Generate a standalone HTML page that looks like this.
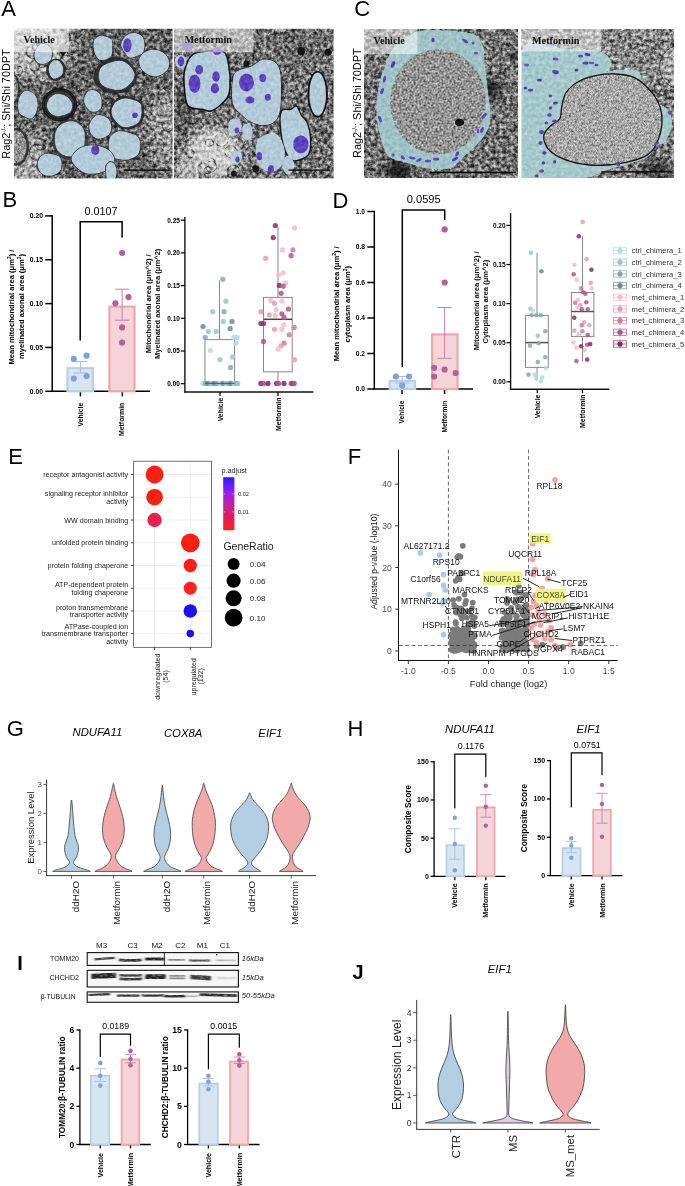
<!DOCTYPE html><html><head><meta charset="utf-8"><style>html,body{margin:0;padding:0;background:#fff;width:685px;height:1186px;overflow:hidden}svg{display:block;will-change:transform}text{font-family:"Liberation Sans",sans-serif}</style></head><body>
<svg width="685" height="1186" viewBox="0 0 685 1186">
<defs>
<filter id="nz1" x="0" y="0" width="100%" height="100%" color-interpolation-filters="sRGB"><feTurbulence type="fractalNoise" baseFrequency="0.28" numOctaves="3" seed="5"/><feColorMatrix type="matrix" values="1.15 0 0 0 -0.075  1.15 0 0 0 -0.075  1.15 0 0 0 -0.075  0 0 0 0 1"/></filter>
<filter id="nz2" x="0" y="0" width="100%" height="100%" color-interpolation-filters="sRGB"><feTurbulence type="fractalNoise" baseFrequency="0.28" numOctaves="3" seed="10"/><feColorMatrix type="matrix" values="1.15 0 0 0 -0.075  1.15 0 0 0 -0.075  1.15 0 0 0 -0.075  0 0 0 0 1"/></filter>
<filter id="nz3" x="0" y="0" width="100%" height="100%" color-interpolation-filters="sRGB"><feTurbulence type="fractalNoise" baseFrequency="0.28" numOctaves="3" seed="15"/><feColorMatrix type="matrix" values="1.15 0 0 0 -0.075  1.15 0 0 0 -0.075  1.15 0 0 0 -0.075  0 0 0 0 1"/></filter>
<filter id="nz4" x="0" y="0" width="100%" height="100%" color-interpolation-filters="sRGB"><feTurbulence type="fractalNoise" baseFrequency="0.28" numOctaves="3" seed="20"/><feColorMatrix type="matrix" values="1.15 0 0 0 -0.075  1.15 0 0 0 -0.075  1.15 0 0 0 -0.075  0 0 0 0 1"/></filter>
<filter id="speck" x="0" y="0" width="100%" height="100%" color-interpolation-filters="sRGB"><feTurbulence type="fractalNoise" baseFrequency="0.5" numOctaves="3" seed="9" result="t"/><feColorMatrix in="t" type="matrix" values="0.85 0 0 0 0.15  0.85 0 0 0 0.15  0.85 0 0 0 0.15  0 0 0 0 1" result="g"/><feComposite in="g" in2="SourceGraphic" operator="in"/></filter>
<filter id="blur2" x="-50%" y="-50%" width="200%" height="200%"><feGaussianBlur stdDeviation="2"/></filter>
<filter id="blur4" x="-50%" y="-50%" width="200%" height="200%"><feGaussianBlur stdDeviation="4"/></filter>
<filter id="blur6" x="-50%" y="-50%" width="200%" height="200%"><feGaussianBlur stdDeviation="6"/></filter>
</defs>
<rect x="0" y="0" width="685" height="1186" fill="#fff" stroke="none" stroke-width="1"/>
<g transform="translate(14 28.8)">
<clipPath id="clip1"><rect width="158.6" height="149.7"/></clipPath>
<g clip-path="url(#clip1)">
<rect x="0" y="0" width="158.6" height="149.7" fill="#646464" stroke="none" stroke-width="1"/>
<ellipse cx="20" cy="20" rx="40" ry="30" fill="#b5b5b5" filter="url(#blur6)"/>
<ellipse cx="12" cy="130" rx="20" ry="30" fill="#a8a8a8" filter="url(#blur6)"/>
<ellipse cx="150" cy="100" rx="18" ry="40" fill="#9a9a9a" filter="url(#blur6)"/>
<circle cx="51.36" cy="22.58" r="6.25" fill="none" stroke="#2a2a2a" stroke-width="0.66" opacity="0.6"/>
<circle cx="84.99" cy="54.74" r="3.29" fill="none" stroke="#2a2a2a" stroke-width="1.01" opacity="0.6"/>
<circle cx="5.95" cy="64.92" r="3.35" fill="none" stroke="#2a2a2a" stroke-width="0.67" opacity="0.6"/>
<circle cx="67.33" cy="123.78" r="3.62" fill="none" stroke="#2a2a2a" stroke-width="0.78" opacity="0.6"/>
<circle cx="99.51" cy="141.87" r="5.89" fill="none" stroke="#2a2a2a" stroke-width="0.92" opacity="0.6"/>
<circle cx="154.83" cy="6.97" r="7.29" fill="none" stroke="#2a2a2a" stroke-width="0.83" opacity="0.6"/>
<circle cx="22.88" cy="17.63" r="4.54" fill="none" stroke="#2a2a2a" stroke-width="1.25" opacity="0.6"/>
<circle cx="28.66" cy="87.07" r="6.19" fill="none" stroke="#2a2a2a" stroke-width="0.9" opacity="0.6"/>
<circle cx="86.87" cy="9.4" r="3.3" fill="none" stroke="#2a2a2a" stroke-width="0.76" opacity="0.6"/>
<circle cx="107.91" cy="64.01" r="4.57" fill="none" stroke="#2a2a2a" stroke-width="1.07" opacity="0.6"/>
<circle cx="71.88" cy="44.88" r="6.97" fill="none" stroke="#2a2a2a" stroke-width="1.16" opacity="0.6"/>
<circle cx="38.71" cy="85.99" r="5.63" fill="none" stroke="#2a2a2a" stroke-width="1.3" opacity="0.6"/>
<circle cx="115.69" cy="43.1" r="7.9" fill="none" stroke="#2a2a2a" stroke-width="0.69" opacity="0.6"/>
<circle cx="66.31" cy="113.34" r="3.76" fill="none" stroke="#2a2a2a" stroke-width="0.99" opacity="0.6"/>
<circle cx="6.22" cy="100.03" r="6.82" fill="none" stroke="#2a2a2a" stroke-width="1.06" opacity="0.6"/>
<circle cx="138.85" cy="46.97" r="6.48" fill="none" stroke="#2a2a2a" stroke-width="1.08" opacity="0.6"/>
<circle cx="91.97" cy="68.29" r="7.2" fill="none" stroke="#2a2a2a" stroke-width="1.36" opacity="0.6"/>
<circle cx="75.19" cy="99.42" r="3.3" fill="none" stroke="#2a2a2a" stroke-width="1.16" opacity="0.6"/>
<circle cx="102.63" cy="148.67" r="7.11" fill="none" stroke="#2a2a2a" stroke-width="0.83" opacity="0.6"/>
<circle cx="61.19" cy="100.1" r="3.11" fill="none" stroke="#2a2a2a" stroke-width="0.97" opacity="0.6"/>
<circle cx="26.65" cy="17.53" r="3.29" fill="none" stroke="#2a2a2a" stroke-width="1.21" opacity="0.6"/>
<circle cx="20.51" cy="37.07" r="4.95" fill="none" stroke="#2a2a2a" stroke-width="1.3" opacity="0.6"/>
<circle cx="12.78" cy="67.24" r="5.75" fill="none" stroke="#2a2a2a" stroke-width="1.31" opacity="0.6"/>
<circle cx="129.94" cy="129.34" r="4.39" fill="none" stroke="#2a2a2a" stroke-width="0.93" opacity="0.6"/>
<circle cx="56.9" cy="132.36" r="7.79" fill="none" stroke="#2a2a2a" stroke-width="0.72" opacity="0.6"/>
<circle cx="27.95" cy="34.72" r="4.17" fill="none" stroke="#2a2a2a" stroke-width="0.99" opacity="0.6"/>
<circle cx="93.43" cy="39.33" r="3.02" fill="none" stroke="#2a2a2a" stroke-width="0.94" opacity="0.6"/>
<circle cx="58.56" cy="84.78" r="7.77" fill="none" stroke="#2a2a2a" stroke-width="1.15" opacity="0.6"/>
<circle cx="81.76" cy="92.45" r="6.38" fill="none" stroke="#2a2a2a" stroke-width="0.64" opacity="0.6"/>
<circle cx="142.67" cy="116.76" r="7.37" fill="none" stroke="#2a2a2a" stroke-width="1.24" opacity="0.6"/>
<circle cx="62.23" cy="59.73" r="3.52" fill="none" stroke="#2a2a2a" stroke-width="1.11" opacity="0.6"/>
<circle cx="9.87" cy="10.08" r="4.04" fill="none" stroke="#2a2a2a" stroke-width="0.73" opacity="0.6"/>
<circle cx="53.93" cy="7.87" r="3" fill="none" stroke="#2a2a2a" stroke-width="0.72" opacity="0.6"/>
<circle cx="16.09" cy="54.43" r="3.13" fill="none" stroke="#2a2a2a" stroke-width="1.3" opacity="0.6"/>
<circle cx="97.39" cy="22.24" r="4.26" fill="none" stroke="#2a2a2a" stroke-width="0.88" opacity="0.6"/>
<circle cx="57.76" cy="18.39" r="7.24" fill="none" stroke="#2a2a2a" stroke-width="1.39" opacity="0.6"/>
<circle cx="73.91" cy="72.43" r="3.43" fill="none" stroke="#2a2a2a" stroke-width="0.68" opacity="0.6"/>
<circle cx="54.34" cy="39.63" r="7.14" fill="none" stroke="#2a2a2a" stroke-width="0.73" opacity="0.6"/>
<circle cx="3.66" cy="142.36" r="5.64" fill="none" stroke="#2a2a2a" stroke-width="0.72" opacity="0.6"/>
<circle cx="86.15" cy="4.05" r="5.64" fill="none" stroke="#2a2a2a" stroke-width="1.38" opacity="0.6"/>
<circle cx="136.92" cy="104.22" r="4.31" fill="none" stroke="#2a2a2a" stroke-width="0.89" opacity="0.6"/>
<circle cx="26.49" cy="115.56" r="5.66" fill="none" stroke="#2a2a2a" stroke-width="1.22" opacity="0.6"/>
<circle cx="52.28" cy="33.39" r="7.06" fill="none" stroke="#2a2a2a" stroke-width="1.39" opacity="0.6"/>
<circle cx="135.23" cy="120.67" r="7.09" fill="none" stroke="#2a2a2a" stroke-width="1.19" opacity="0.6"/>
<circle cx="35.96" cy="77.49" r="4.78" fill="none" stroke="#2a2a2a" stroke-width="0.62" opacity="0.6"/>
<circle cx="4.43" cy="41.83" r="4.3" fill="none" stroke="#2a2a2a" stroke-width="1.15" opacity="0.6"/>
<circle cx="151.7" cy="66.95" r="7.69" fill="none" stroke="#2a2a2a" stroke-width="1.39" opacity="0.6"/>
<circle cx="151.46" cy="54.59" r="4.1" fill="none" stroke="#2a2a2a" stroke-width="0.78" opacity="0.6"/>
<circle cx="31.2" cy="30.59" r="6.12" fill="none" stroke="#2a2a2a" stroke-width="1.32" opacity="0.6"/>
<circle cx="133.29" cy="71.78" r="6.26" fill="none" stroke="#2a2a2a" stroke-width="1.24" opacity="0.6"/>
<circle cx="13.45" cy="98.89" r="7.55" fill="none" stroke="#2a2a2a" stroke-width="1.23" opacity="0.6"/>
<circle cx="118.97" cy="71.56" r="3.89" fill="none" stroke="#2a2a2a" stroke-width="1.23" opacity="0.6"/>
<circle cx="52.74" cy="119.88" r="7.86" fill="none" stroke="#2a2a2a" stroke-width="0.92" opacity="0.6"/>
<circle cx="63.66" cy="141.74" r="6.62" fill="none" stroke="#2a2a2a" stroke-width="0.74" opacity="0.6"/>
<circle cx="20.15" cy="22.63" r="7.52" fill="none" stroke="#2a2a2a" stroke-width="1.25" opacity="0.6"/>
<circle cx="23.18" cy="123.73" r="7.9" fill="none" stroke="#2a2a2a" stroke-width="1.13" opacity="0.6"/>
<circle cx="55.57" cy="82.13" r="3.65" fill="none" stroke="#2a2a2a" stroke-width="0.61" opacity="0.6"/>
<circle cx="153.98" cy="97.26" r="5.63" fill="none" stroke="#2a2a2a" stroke-width="1.35" opacity="0.6"/>
<circle cx="68.8" cy="130.5" r="7.13" fill="none" stroke="#2a2a2a" stroke-width="0.77" opacity="0.6"/>
<circle cx="39.94" cy="43.86" r="4.2" fill="none" stroke="#2a2a2a" stroke-width="1.07" opacity="0.6"/>
<circle cx="41.14" cy="62.73" r="3.66" fill="none" stroke="#2a2a2a" stroke-width="1.33" opacity="0.6"/>
<circle cx="56.11" cy="68.59" r="5.92" fill="none" stroke="#2a2a2a" stroke-width="1.32" opacity="0.6"/>
<circle cx="66.71" cy="137.38" r="5.51" fill="none" stroke="#2a2a2a" stroke-width="1.03" opacity="0.6"/>
<circle cx="83.03" cy="2.8" r="5.2" fill="none" stroke="#2a2a2a" stroke-width="0.75" opacity="0.6"/>
<circle cx="0.62" cy="119.64" r="3.86" fill="none" stroke="#2a2a2a" stroke-width="0.98" opacity="0.6"/>
<circle cx="115.02" cy="83.3" r="4.63" fill="none" stroke="#2a2a2a" stroke-width="1.01" opacity="0.6"/>
<circle cx="88.09" cy="117.41" r="3.53" fill="none" stroke="#2a2a2a" stroke-width="1.05" opacity="0.6"/>
<circle cx="39.41" cy="41.45" r="6.86" fill="none" stroke="#2a2a2a" stroke-width="1.01" opacity="0.6"/>
<circle cx="89.09" cy="113.77" r="7.56" fill="none" stroke="#2a2a2a" stroke-width="0.95" opacity="0.6"/>
<circle cx="97.15" cy="75.68" r="5.56" fill="none" stroke="#2a2a2a" stroke-width="1.15" opacity="0.6"/>
<rect width="158.6" height="149.7" filter="url(#nz1)" style="mix-blend-mode:overlay" opacity="0.95"/>
<ellipse cx="45.5" cy="75.9" rx="17" ry="16" fill="#3a3a3a"/>
<ellipse cx="45.5" cy="75.9" rx="15.2" ry="14.2" fill="none" stroke="#151515" stroke-width="1.2"/>
<ellipse cx="45.5" cy="75.9" rx="17" ry="16" fill="none" stroke="#151515" stroke-width="1.4"/>
<path d="M123.02,46.7 C123.12,49.66 122.05,53.13 120.27,55.72 C118.49,58.32 115.44,60.66 112.33,62.26 C109.22,63.86 105.21,65.29 101.6,65.34 C97.99,65.38 93.88,64.1 90.68,62.54 C87.48,60.98 84.31,58.61 82.42,55.97 C80.53,53.33 79.19,49.72 79.34,46.7 C79.49,43.68 81.43,40.48 83.34,37.87 C85.25,35.26 87.76,32.67 90.8,31.04 C93.84,29.4 97.96,28.12 101.6,28.06 C105.24,28 109.63,29.04 112.64,30.69 C115.66,32.34 117.95,35.29 119.68,37.96 C121.41,40.63 122.92,43.74 123.02,46.7Z" fill="#2e2e2e" stroke="none" stroke-width="1"/>
<ellipse cx="2" cy="118" rx="13" ry="19" fill="#333"/>
<ellipse cx="2" cy="118" rx="10.5" ry="16.5" fill="#8c8c8c" filter="url(#speck)"/>
<ellipse cx="-1" cy="60" rx="7" ry="15" fill="#333"/>
<ellipse cx="-1" cy="60" rx="5" ry="13" fill="#8c8c8c" filter="url(#speck)"/>
<path d="M130.14,84.1 C130.07,87.46 129.32,91.46 127.38,94.03 C125.43,96.61 121.7,98.61 118.48,99.58 C115.25,100.55 111.15,100.83 108.03,99.85 C104.91,98.86 101.83,96.29 99.75,93.67 C97.66,91.04 95.67,87.41 95.5,84.1 C95.34,80.79 96.71,76.63 98.74,73.82 C100.77,71.02 104.38,68.18 107.68,67.29 C110.97,66.4 115.17,67.39 118.52,68.49 C121.87,69.59 125.83,71.29 127.76,73.89 C129.7,76.49 130.2,80.74 130.14,84.1Z" fill="#2a2a2a" stroke="none" stroke-width="1"/>
<path d="M52.13,40.9 C52.1,43.45 50.56,46.57 48.87,48.46 C47.18,50.35 44.37,52.15 42,52.24 C39.63,52.32 36.29,50.86 34.66,48.97 C33.04,47.08 32.22,43.59 32.22,40.9 C32.23,38.21 33.04,34.66 34.67,32.84 C36.3,31.02 39.6,29.94 42,29.99 C44.4,30.04 47.38,31.31 49.06,33.13 C50.75,34.95 52.16,38.35 52.13,40.9Z" fill="#2a2a2a" stroke="none" stroke-width="1"/>
<path d="M74.71,111 C74.86,114.99 73.17,120.21 70.95,123.37 C68.73,126.53 64.83,128.8 61.41,129.97 C58,131.14 53.8,131.54 50.47,130.39 C47.14,129.24 43.46,126.3 41.42,123.06 C39.38,119.83 38.17,114.97 38.23,111 C38.29,107.03 39.74,102.45 41.79,99.24 C43.84,96.04 47.21,93.13 50.52,91.79 C53.83,90.44 58.41,89.89 61.66,91.16 C64.91,92.43 67.83,96.11 70,99.41 C72.18,102.72 74.55,107.01 74.71,111Z" fill="#3a3a3a" stroke="none" stroke-width="1"/>
<path d="M38.58,25.7 C38.47,27.83 37.77,30.28 36.65,31.81 C35.53,33.35 33.56,34.32 31.85,34.92 C30.14,35.52 28.12,35.9 26.4,35.42 C24.68,34.93 22.61,33.61 21.53,31.99 C20.44,30.37 19.77,27.71 19.88,25.7 C19.99,23.69 21.16,21.75 22.2,19.96 C23.24,18.16 24.44,15.72 26.1,14.94 C27.77,14.15 30.34,14.57 32.21,15.25 C34.07,15.94 36.23,17.32 37.29,19.06 C38.35,20.8 38.69,23.57 38.58,25.7Z" fill="#b3cbd9" stroke="#2a2a2a" stroke-width="0.9" stroke-linejoin="round"/>
<path d="M49.68,40.9 C49.68,42.65 49.27,44.8 48.39,46.16 C47.5,47.53 45.85,48.43 44.35,49.09 C42.84,49.76 40.81,50.63 39.35,50.14 C37.9,49.65 36.45,47.71 35.61,46.17 C34.77,44.63 34.31,42.68 34.29,40.9 C34.26,39.12 34.61,37.07 35.45,35.5 C36.28,33.93 37.76,32.12 39.3,31.47 C40.84,30.82 43.15,30.91 44.66,31.6 C46.18,32.3 47.54,34.1 48.38,35.64 C49.21,37.19 49.68,39.15 49.68,40.9Z" fill="#b3cbd9" stroke="#2a2a2a" stroke-width="0.9" stroke-linejoin="round"/>
<path d="M98.71,18.7 C98.71,21.38 98.97,24.68 97.86,26.73 C96.76,28.78 94.15,30.26 92.08,31.01 C90.01,31.77 87.32,32.14 85.45,31.26 C83.58,30.38 81.93,27.82 80.86,25.73 C79.8,23.64 79.18,21.16 79.04,18.7 C78.91,16.24 78.96,12.95 80.05,10.95 C81.14,8.95 83.63,7.27 85.59,6.67 C87.56,6.07 89.77,6.7 91.82,7.36 C93.87,8.02 96.74,8.76 97.89,10.65 C99.04,12.54 98.72,16.02 98.71,18.7Z" fill="#b3cbd9" stroke="#2a2a2a" stroke-width="0.9" stroke-linejoin="round"/>
<path d="M130.95,16.4 C130.92,19.05 130.35,22.39 128.92,24.29 C127.49,26.18 124.67,26.93 122.37,27.76 C120.08,28.59 117.21,29.99 115.18,29.27 C113.15,28.54 111.62,25.55 110.19,23.4 C108.76,21.26 106.72,18.81 106.62,16.4 C106.52,13.99 108.13,10.91 109.6,8.93 C111.08,6.96 113.3,5.34 115.48,4.54 C117.65,3.74 120.37,3.49 122.65,4.12 C124.92,4.76 127.73,6.32 129.11,8.36 C130.5,10.41 130.98,13.75 130.95,16.4Z" fill="#b3cbd9" stroke="#2a2a2a" stroke-width="0.9" stroke-linejoin="round"/>
<path d="M155.25,37.99 C154.51,40.5 152.35,42.92 150.05,44.61 C147.75,46.3 144.46,48.07 141.46,48.13 C138.45,48.19 134.59,46.63 132.01,44.97 C129.43,43.3 127.15,40.65 125.99,38.13 C124.82,35.62 124.33,32.35 125.02,29.89 C125.7,27.42 127.82,24.92 130.08,23.34 C132.35,21.76 135.62,20.51 138.62,20.4 C141.62,20.3 145.45,21.18 148.09,22.7 C150.73,24.22 153.29,26.98 154.48,29.53 C155.67,32.07 155.99,35.47 155.25,37.99Z" fill="#b3cbd9" stroke="#2a2a2a" stroke-width="0.9" stroke-linejoin="round"/>
<path d="M121.08,46.7 C120.97,49.64 118.5,52.92 116.22,55.33 C113.94,57.74 110.73,60.31 107.38,61.16 C104.03,62 99.54,61.37 96.12,60.41 C92.7,59.45 88.8,57.7 86.84,55.42 C84.88,53.13 84.3,49.58 84.34,46.7 C84.38,43.82 85.09,40.34 87.08,38.12 C89.06,35.9 92.85,34.43 96.27,33.36 C99.69,32.3 104.16,30.98 107.59,31.7 C111.02,32.43 114.61,35.19 116.85,37.69 C119.1,40.19 121.18,43.76 121.08,46.7Z" fill="#b3cbd9" stroke="#2a2a2a" stroke-width="0.9" stroke-linejoin="round"/>
<path d="M23.98,75.9 C23.97,78.64 23.55,81.72 22.46,84.1 C21.38,86.47 19.39,89.43 17.47,90.14 C15.55,90.85 13.03,89.31 10.96,88.38 C8.89,87.44 6.3,86.63 5.07,84.55 C3.85,82.47 3.54,78.71 3.61,75.9 C3.69,73.09 4.35,70.02 5.51,67.68 C6.67,65.34 8.64,62.68 10.58,61.87 C12.53,61.06 15.2,61.85 17.19,62.81 C19.18,63.78 21.37,65.48 22.5,67.66 C23.64,69.84 23.99,73.16 23.98,75.9Z" fill="#b3cbd9" stroke="#2a2a2a" stroke-width="0.9" stroke-linejoin="round"/>
<path d="M58.68,75.9 C58.92,78.21 58.21,81.5 56.65,83.31 C55.1,85.12 51.91,86.03 49.36,86.75 C46.8,87.47 43.76,88.24 41.33,87.62 C38.91,87 36.29,84.96 34.8,83 C33.32,81.05 32.34,78.21 32.42,75.9 C32.5,73.59 33.77,70.94 35.3,69.13 C36.84,67.32 39.33,65.64 41.64,65.04 C43.95,64.45 46.91,64.83 49.17,65.57 C51.44,66.3 53.66,67.71 55.24,69.43 C56.83,71.15 58.45,73.59 58.68,75.9Z" fill="#b3cbd9" stroke="#2a2a2a" stroke-width="0.9" stroke-linejoin="round"/>
<path d="M88.06,72.4 C88.16,74.69 88.2,77.76 87.21,79.54 C86.23,81.32 83.92,82.53 82.16,83.09 C80.41,83.66 78.31,83.64 76.68,82.93 C75.05,82.22 73.56,80.57 72.38,78.82 C71.19,77.07 69.75,74.68 69.59,72.4 C69.43,70.12 70.29,67.02 71.43,65.12 C72.57,63.21 74.66,61.54 76.45,60.97 C78.24,60.39 80.48,60.85 82.17,61.66 C83.87,62.47 85.63,64.02 86.61,65.81 C87.59,67.6 87.96,70.11 88.06,72.4Z" fill="#b3cbd9" stroke="#2a2a2a" stroke-width="0.9" stroke-linejoin="round"/>
<path d="M128,84.1 C127.83,87.18 127.23,90.7 125.52,92.98 C123.81,95.25 120.55,96.85 117.74,97.76 C114.93,98.67 111.36,99.28 108.64,98.43 C105.93,97.59 103.41,95.08 101.47,92.7 C99.52,90.31 97.21,87.13 96.98,84.1 C96.74,81.07 98.14,76.92 100.07,74.49 C102,72.06 105.61,70.24 108.57,69.54 C111.52,68.83 114.81,69.41 117.81,70.24 C120.8,71.06 124.81,72.19 126.51,74.5 C128.21,76.81 128.16,81.02 128,84.1Z" fill="#b3cbd9" stroke="#2a2a2a" stroke-width="0.9" stroke-linejoin="round"/>
<path d="M97.74,98.1 C97.77,100.53 96.98,103.58 95.65,105.45 C94.31,107.32 91.86,108.54 89.73,109.3 C87.59,110.07 84.98,110.66 82.85,110.04 C80.73,109.42 78.33,107.58 76.97,105.59 C75.61,103.6 74.63,100.54 74.69,98.1 C74.76,95.66 76.04,92.97 77.39,90.94 C78.74,88.91 80.72,86.59 82.78,85.92 C84.84,85.24 87.61,86.07 89.73,86.89 C91.85,87.71 94.17,88.99 95.51,90.86 C96.84,92.73 97.72,95.67 97.74,98.1Z" fill="#b3cbd9" stroke="#2a2a2a" stroke-width="0.9" stroke-linejoin="round"/>
<path d="M71.32,111 C71.23,114.68 70.83,119.07 69.05,121.81 C67.28,124.56 63.65,126.55 60.7,127.48 C57.74,128.42 54.24,128.4 51.32,127.43 C48.39,126.45 44.98,124.38 43.15,121.65 C41.31,118.91 40.4,114.63 40.3,111 C40.2,107.37 40.78,102.84 42.55,99.86 C44.32,96.88 47.79,94.36 50.91,93.13 C54.03,91.91 58.16,91.4 61.27,92.5 C64.39,93.6 67.93,96.65 69.6,99.73 C71.28,102.81 71.41,107.32 71.32,111Z" fill="#b3cbd9" stroke="#2a2a2a" stroke-width="0.9" stroke-linejoin="round"/>
<path d="M126.77,116.8 C126.78,119.95 125.87,123.91 123.87,126.28 C121.87,128.64 117.94,130.24 114.78,131 C111.61,131.76 108.09,131.62 104.87,130.85 C101.66,130.09 97.26,128.77 95.5,126.43 C93.74,124.08 94.23,119.95 94.32,116.8 C94.41,113.65 94.34,110.01 96.06,107.55 C97.77,105.08 101.54,102.7 104.62,102.01 C107.69,101.32 111.3,102.5 114.5,103.4 C117.69,104.29 121.73,105.15 123.78,107.39 C125.82,109.62 126.75,113.65 126.77,116.8Z" fill="#b3cbd9" stroke="#2a2a2a" stroke-width="0.9" stroke-linejoin="round"/>
<path d="M100.62,130.8 C100.53,133.64 98.23,136.89 95.64,139.2 C93.04,141.5 89.06,143.68 85.03,144.61 C81.01,145.54 75.28,145.79 71.49,144.78 C67.7,143.77 64.67,140.88 62.29,138.55 C59.91,136.22 57.39,133.46 57.22,130.8 C57.05,128.14 58.92,124.9 61.3,122.57 C63.67,120.23 67.5,117.73 71.46,116.77 C75.43,115.82 80.99,115.94 85.11,116.84 C89.22,117.73 93.59,119.81 96.18,122.14 C98.76,124.47 100.71,127.96 100.62,130.8Z" fill="#b3cbd9" stroke="#2a2a2a" stroke-width="0.9" stroke-linejoin="round"/>
<path d="M47.97,135.5 C47.99,137.93 47.49,140.9 46.01,142.81 C44.52,144.72 41.59,146.26 39.07,146.95 C36.56,147.65 33.25,147.78 30.92,146.97 C28.59,146.16 26.39,143.99 25.09,142.08 C23.8,140.17 23.13,137.68 23.16,135.5 C23.19,133.32 23.92,130.84 25.25,129.03 C26.58,127.21 28.89,125.28 31.13,124.62 C33.37,123.96 36.24,124.47 38.71,125.08 C41.17,125.68 44.37,126.52 45.91,128.25 C47.46,129.99 47.96,133.07 47.97,135.5Z" fill="#b3cbd9" stroke="#2a2a2a" stroke-width="0.9" stroke-linejoin="round"/>
<path d="M103.06,143 C103.07,144.98 102.65,147.38 101.95,149 C101.26,150.62 100.04,152.07 98.89,152.7 C97.75,153.33 96.22,153.42 95.09,152.79 C93.97,152.15 92.76,150.5 92.15,148.87 C91.55,147.24 91.52,145 91.48,143 C91.44,141 91.32,138.49 91.91,136.84 C92.51,135.19 93.92,133.67 95.07,133.11 C96.23,132.55 97.72,132.82 98.85,133.48 C99.99,134.15 101.18,135.5 101.88,137.09 C102.58,138.67 103.04,141.02 103.06,143Z" fill="#b3cbd9" stroke="#2a2a2a" stroke-width="0.9" stroke-linejoin="round"/>
<circle cx="49" cy="20" r="5.5" fill="#8a8a8a"/>
<path d="M45,23 L53,23 L49,27.5 Z" fill="#111" stroke="none" stroke-width="1"/>
<ellipse cx="113.3" cy="16.4" rx="4.2" ry="7" fill="#5d41bf"/>
<ellipse cx="121" cy="86.4" rx="2.8" ry="2.8" fill="#5d41bf"/>
<ellipse cx="81.3" cy="121.5" rx="4.2" ry="4.7" fill="#5d41bf"/>
<rect width="158.6" height="149.7" filter="url(#nz1)" style="mix-blend-mode:overlay" opacity="0.35"/>
<rect x="0" y="0" width="55" height="23.4" fill="#ffffff" stroke="none" stroke-width="1" opacity="0.5"/>
<text x="9.5" y="14.5" font-size="10.2" text-anchor="start" fill="#111" font-weight="bold" style="font-family:'Liberation Serif'">Vehicle</text>
<line x1="109.8" y1="141.3" x2="155.3" y2="141.3" stroke="#000" stroke-width="1.3"/>
</g></g>
<g transform="translate(174 28.8)">
<clipPath id="clip2"><rect width="159.6" height="149.7"/></clipPath>
<g clip-path="url(#clip2)">
<rect x="0" y="0" width="159.6" height="149.7" fill="#747474" stroke="none" stroke-width="1"/>
<ellipse cx="40" cy="124" rx="27" ry="25" fill="#cdcdcd" filter="url(#blur4)"/>
<ellipse cx="14" cy="140" rx="12" ry="12" fill="#b8b8b8" filter="url(#blur4)"/>
<ellipse cx="10" cy="80" rx="10" ry="25" fill="#555" filter="url(#blur4)"/>
<ellipse cx="125" cy="20" rx="25" ry="18" fill="#6a6a6a" filter="url(#blur6)"/>
<ellipse cx="150" cy="60" rx="10" ry="30" fill="#777" filter="url(#blur6)"/>
<circle cx="105.22" cy="9.89" r="5.82" fill="none" stroke="#2a2a2a" stroke-width="0.8" opacity="0.55"/>
<circle cx="11.88" cy="39.75" r="5.78" fill="none" stroke="#2a2a2a" stroke-width="0.76" opacity="0.55"/>
<circle cx="118.08" cy="146.07" r="4.72" fill="none" stroke="#2a2a2a" stroke-width="0.91" opacity="0.55"/>
<circle cx="76.45" cy="102.35" r="5.95" fill="none" stroke="#2a2a2a" stroke-width="1.09" opacity="0.55"/>
<circle cx="102.58" cy="11.6" r="3.16" fill="none" stroke="#2a2a2a" stroke-width="0.8" opacity="0.55"/>
<circle cx="118.62" cy="45.57" r="5.05" fill="none" stroke="#2a2a2a" stroke-width="0.61" opacity="0.55"/>
<circle cx="9.68" cy="40.24" r="5.52" fill="none" stroke="#2a2a2a" stroke-width="1.15" opacity="0.55"/>
<circle cx="107.84" cy="43.54" r="4.82" fill="none" stroke="#2a2a2a" stroke-width="0.97" opacity="0.55"/>
<circle cx="74.43" cy="17.74" r="6.52" fill="none" stroke="#2a2a2a" stroke-width="0.76" opacity="0.55"/>
<circle cx="156.11" cy="140.16" r="2.58" fill="none" stroke="#2a2a2a" stroke-width="0.97" opacity="0.55"/>
<circle cx="130.86" cy="144.93" r="4.52" fill="none" stroke="#2a2a2a" stroke-width="0.81" opacity="0.55"/>
<circle cx="33.49" cy="141.55" r="3.45" fill="none" stroke="#2a2a2a" stroke-width="1.07" opacity="0.55"/>
<circle cx="22.62" cy="78.45" r="6.79" fill="none" stroke="#2a2a2a" stroke-width="0.71" opacity="0.55"/>
<circle cx="130.91" cy="76.16" r="6.49" fill="none" stroke="#2a2a2a" stroke-width="1.16" opacity="0.55"/>
<circle cx="36.93" cy="134.39" r="4.69" fill="none" stroke="#2a2a2a" stroke-width="0.62" opacity="0.55"/>
<circle cx="0.57" cy="73.61" r="4.53" fill="none" stroke="#2a2a2a" stroke-width="0.84" opacity="0.55"/>
<circle cx="22.46" cy="51.49" r="3.92" fill="none" stroke="#2a2a2a" stroke-width="1.27" opacity="0.55"/>
<circle cx="0.28" cy="112.38" r="6.28" fill="none" stroke="#2a2a2a" stroke-width="0.7" opacity="0.55"/>
<circle cx="147.85" cy="106.74" r="6.56" fill="none" stroke="#2a2a2a" stroke-width="0.83" opacity="0.55"/>
<circle cx="59.41" cy="58.82" r="6.99" fill="none" stroke="#2a2a2a" stroke-width="1.07" opacity="0.55"/>
<circle cx="57.57" cy="64.08" r="3.74" fill="none" stroke="#2a2a2a" stroke-width="0.64" opacity="0.55"/>
<circle cx="16.23" cy="124.95" r="3.79" fill="none" stroke="#2a2a2a" stroke-width="1.35" opacity="0.55"/>
<circle cx="39.79" cy="39.78" r="4.8" fill="none" stroke="#2a2a2a" stroke-width="0.75" opacity="0.55"/>
<circle cx="59.59" cy="143.14" r="6.48" fill="none" stroke="#2a2a2a" stroke-width="1.25" opacity="0.55"/>
<circle cx="100.69" cy="136.74" r="6.73" fill="none" stroke="#2a2a2a" stroke-width="1.04" opacity="0.55"/>
<circle cx="114.84" cy="7.41" r="5.8" fill="none" stroke="#2a2a2a" stroke-width="0.96" opacity="0.55"/>
<circle cx="120.13" cy="96.48" r="3.79" fill="none" stroke="#2a2a2a" stroke-width="0.64" opacity="0.55"/>
<circle cx="147.91" cy="19.06" r="4.62" fill="none" stroke="#2a2a2a" stroke-width="0.87" opacity="0.55"/>
<circle cx="47.52" cy="110.63" r="6.89" fill="none" stroke="#2a2a2a" stroke-width="0.81" opacity="0.55"/>
<circle cx="104.7" cy="45.04" r="5.01" fill="none" stroke="#2a2a2a" stroke-width="0.92" opacity="0.55"/>
<circle cx="26.71" cy="24.2" r="3.44" fill="none" stroke="#2a2a2a" stroke-width="1.32" opacity="0.55"/>
<circle cx="79.33" cy="32.94" r="6.58" fill="none" stroke="#2a2a2a" stroke-width="1.4" opacity="0.55"/>
<circle cx="71.81" cy="20.9" r="3.37" fill="none" stroke="#2a2a2a" stroke-width="0.67" opacity="0.55"/>
<circle cx="54.58" cy="13.64" r="3.58" fill="none" stroke="#2a2a2a" stroke-width="0.81" opacity="0.55"/>
<circle cx="90.91" cy="132.82" r="5.87" fill="none" stroke="#2a2a2a" stroke-width="0.93" opacity="0.55"/>
<circle cx="66.06" cy="78.47" r="4.2" fill="none" stroke="#2a2a2a" stroke-width="0.87" opacity="0.55"/>
<circle cx="9.9" cy="41.54" r="6.85" fill="none" stroke="#2a2a2a" stroke-width="0.7" opacity="0.55"/>
<circle cx="80.34" cy="94.26" r="6.38" fill="none" stroke="#2a2a2a" stroke-width="0.77" opacity="0.55"/>
<circle cx="43.25" cy="37.19" r="4.3" fill="none" stroke="#2a2a2a" stroke-width="0.96" opacity="0.55"/>
<circle cx="152.25" cy="127.05" r="6.43" fill="none" stroke="#2a2a2a" stroke-width="0.62" opacity="0.55"/>
<circle cx="5.15" cy="106.21" r="6.53" fill="none" stroke="#2a2a2a" stroke-width="0.98" opacity="0.55"/>
<circle cx="93.71" cy="0.03" r="4.26" fill="none" stroke="#2a2a2a" stroke-width="1.34" opacity="0.55"/>
<circle cx="131.76" cy="128.06" r="6.88" fill="none" stroke="#2a2a2a" stroke-width="0.8" opacity="0.55"/>
<circle cx="17.4" cy="23.11" r="4.85" fill="none" stroke="#2a2a2a" stroke-width="1.15" opacity="0.55"/>
<circle cx="150.26" cy="108.04" r="5.41" fill="none" stroke="#2a2a2a" stroke-width="1.21" opacity="0.55"/>
<circle cx="72.99" cy="82.56" r="2.68" fill="none" stroke="#2a2a2a" stroke-width="1.23" opacity="0.55"/>
<circle cx="37.12" cy="137.71" r="5.4" fill="none" stroke="#2a2a2a" stroke-width="0.84" opacity="0.55"/>
<circle cx="20.42" cy="37.69" r="5.36" fill="none" stroke="#2a2a2a" stroke-width="1.16" opacity="0.55"/>
<circle cx="17.9" cy="10.53" r="4.86" fill="none" stroke="#2a2a2a" stroke-width="1.07" opacity="0.55"/>
<circle cx="61.94" cy="33.47" r="5.2" fill="none" stroke="#2a2a2a" stroke-width="0.61" opacity="0.55"/>
<circle cx="48.12" cy="68.97" r="6.82" fill="none" stroke="#2a2a2a" stroke-width="1.12" opacity="0.55"/>
<circle cx="141.05" cy="71.15" r="3.56" fill="none" stroke="#2a2a2a" stroke-width="0.8" opacity="0.55"/>
<circle cx="153.31" cy="105.49" r="3.88" fill="none" stroke="#2a2a2a" stroke-width="0.62" opacity="0.55"/>
<circle cx="79.53" cy="100.97" r="4.39" fill="none" stroke="#2a2a2a" stroke-width="0.81" opacity="0.55"/>
<circle cx="106.51" cy="138.5" r="3.52" fill="none" stroke="#2a2a2a" stroke-width="0.63" opacity="0.55"/>
<circle cx="53.95" cy="62.96" r="5.57" fill="none" stroke="#2a2a2a" stroke-width="0.76" opacity="0.55"/>
<circle cx="127.21" cy="110.65" r="4.77" fill="none" stroke="#2a2a2a" stroke-width="0.76" opacity="0.55"/>
<circle cx="154.79" cy="46.66" r="6.19" fill="none" stroke="#2a2a2a" stroke-width="0.78" opacity="0.55"/>
<circle cx="35.34" cy="113.84" r="3.83" fill="none" stroke="#2a2a2a" stroke-width="1.36" opacity="0.55"/>
<circle cx="79.12" cy="28.04" r="3.5" fill="none" stroke="#2a2a2a" stroke-width="0.93" opacity="0.55"/>
<circle cx="106.18" cy="142.03" r="3.16" fill="none" stroke="#2a2a2a" stroke-width="0.91" opacity="0.55"/>
<circle cx="33.99" cy="145.83" r="3.14" fill="none" stroke="#2a2a2a" stroke-width="0.64" opacity="0.55"/>
<circle cx="9.6" cy="58.88" r="6.54" fill="none" stroke="#2a2a2a" stroke-width="1.31" opacity="0.55"/>
<circle cx="116.94" cy="149.33" r="6.69" fill="none" stroke="#2a2a2a" stroke-width="0.86" opacity="0.55"/>
<circle cx="29.61" cy="140.1" r="5.86" fill="none" stroke="#2a2a2a" stroke-width="0.63" opacity="0.55"/>
<circle cx="106.04" cy="56.68" r="4.18" fill="none" stroke="#2a2a2a" stroke-width="0.87" opacity="0.55"/>
<circle cx="27.01" cy="0.43" r="3.76" fill="none" stroke="#2a2a2a" stroke-width="0.88" opacity="0.55"/>
<circle cx="152.5" cy="18.52" r="6.84" fill="none" stroke="#2a2a2a" stroke-width="0.77" opacity="0.55"/>
<circle cx="56.92" cy="122.99" r="6.2" fill="none" stroke="#2a2a2a" stroke-width="0.95" opacity="0.55"/>
<circle cx="7.86" cy="70.88" r="4.18" fill="none" stroke="#2a2a2a" stroke-width="1.34" opacity="0.55"/>
<rect width="159.6" height="149.7" filter="url(#nz2)" style="mix-blend-mode:overlay" opacity="0.95"/>
<circle cx="127.3" cy="22.2" r="4" fill="#151515"/>
<circle cx="154" cy="23.4" r="3.5" fill="#151515"/>
<circle cx="72.4" cy="35" r="3.2" fill="#151515"/>
<circle cx="81.8" cy="140.2" r="3.5" fill="#151515"/>
<circle cx="60" cy="145" r="3" fill="#151515"/>
<path d="M10.5,42 C11.87,36.17 14.62,29 18.7,25.7 C22.78,22.4 29.75,22.58 35,22.2 C40.25,21.82 46.88,20.87 50.2,23.4 C53.52,25.93 53.93,31.57 54.9,37.4 C55.87,43.23 56.38,52.97 56,58.4 C55.62,63.83 55.52,66.1 52.6,70 C49.68,73.9 42.6,80.03 38.5,81.8 C34.4,83.57 32.08,81.38 28,80.6 C23.92,79.82 16.92,80.42 14,77.1 C11.08,73.78 11.08,66.55 10.5,60.7 C9.92,54.85 9.13,47.83 10.5,42Z" fill="#b3cbd9" stroke="#111" stroke-width="1.6" stroke-linejoin="round"/>
<path d="M12.52,32.7 C12.55,34.01 12.19,35.55 11.59,36.73 C10.99,37.91 9.95,39.42 8.91,39.78 C7.86,40.14 6.43,39.36 5.34,38.86 C4.25,38.35 3.11,37.78 2.37,36.76 C1.64,35.73 0.96,34.09 0.91,32.7 C0.87,31.31 1.37,29.44 2.11,28.41 C2.85,27.38 4.25,26.84 5.34,26.53 C6.43,26.22 7.65,26.15 8.66,26.54 C9.66,26.93 10.72,27.85 11.36,28.87 C12.01,29.9 12.48,31.39 12.52,32.7Z" fill="#b3cbd9" stroke="none" stroke-width="1"/>
<path d="M58.4,51.4 C59.17,45.93 59.9,44.33 63,42 C66.1,39.67 72.7,39.33 77,37.4 C81.3,35.47 84.9,31.18 88.8,30.4 C92.7,29.62 97.48,30.77 100.4,32.7 C103.32,34.63 105.12,37.33 106.3,42 C107.48,46.67 107.5,54.07 107.5,60.7 C107.5,67.33 107.48,76.35 106.3,81.8 C105.12,87.25 103.32,90.88 100.4,93.4 C97.48,95.92 92.7,96.9 88.8,96.9 C84.9,96.9 80.52,95.15 77,93.4 C73.48,91.65 70.8,89.5 67.7,86.4 C64.6,83.3 59.95,80.63 58.4,74.8 C56.85,68.97 57.63,56.87 58.4,51.4Z" fill="#b3cbd9" stroke="#222" stroke-width="0.9" stroke-linejoin="round"/>
<ellipse cx="143.7" cy="65.4" rx="10.2" ry="23.5" fill="#111"/>
<ellipse cx="143.7" cy="65.4" rx="8.3" ry="21.6" fill="#b3cbd9"/>
<path d="M107.5,81.8 C109.25,78.88 114.28,81.38 116.8,80.6 C119.32,79.82 120.85,76.13 122.6,77.1 C124.35,78.07 125.55,83.68 127.3,86.4 C129.05,89.12 131.53,89.5 133.1,93.4 C134.67,97.3 136.5,104.35 136.7,109.8 C136.9,115.25 137.23,122.4 134.3,126.1 C131.37,129.8 122.98,132.77 119.1,132 C115.22,131.23 113.13,127.15 111,121.5 C108.87,115.85 106.88,104.72 106.3,98.1 C105.72,91.48 105.75,84.72 107.5,81.8Z" fill="#b3cbd9" stroke="#111" stroke-width="1.4" stroke-linejoin="round"/>
<path d="M67.64,98.1 C67.57,99.7 66.56,101.38 65.75,102.73 C64.95,104.08 63.99,105.6 62.79,106.21 C61.59,106.82 59.77,106.96 58.56,106.4 C57.36,105.83 56.26,104.18 55.58,102.8 C54.89,101.41 54.52,99.74 54.44,98.1 C54.35,96.46 54.35,94.25 55.06,92.93 C55.76,91.6 57.39,90.54 58.65,90.16 C59.92,89.77 61.38,90.11 62.63,90.6 C63.88,91.09 65.31,91.86 66.14,93.11 C66.97,94.36 67.7,96.5 67.64,98.1Z" fill="#b3cbd9" stroke="none" stroke-width="1"/>
<path d="M78.55,102.8 C78.53,104.51 78.16,106.54 77.58,107.84 C76.99,109.14 75.99,109.96 75.05,110.59 C74.11,111.22 72.93,111.98 71.96,111.61 C70.98,111.24 69.79,109.85 69.2,108.38 C68.6,106.91 68.39,104.66 68.39,102.8 C68.39,100.94 68.56,98.5 69.18,97.2 C69.81,95.89 71.16,95.4 72.14,94.98 C73.13,94.56 74.18,94.26 75.11,94.7 C76.04,95.13 77.14,96.24 77.71,97.59 C78.28,98.94 78.57,101.09 78.55,102.8Z" fill="#b3cbd9" stroke="none" stroke-width="1"/>
<path d="M110.82,123.8 C110.89,127.91 109.74,133.25 107.95,136.35 C106.15,139.44 102.76,141.44 100.05,142.38 C97.33,143.32 94.22,143.14 91.65,141.97 C89.07,140.8 86.24,138.39 84.6,135.37 C82.96,132.34 81.97,127.81 81.81,123.8 C81.66,119.79 82.05,114.3 83.7,111.3 C85.34,108.31 88.92,107.06 91.69,105.83 C94.47,104.61 97.69,102.99 100.34,103.96 C102.98,104.93 105.81,108.35 107.56,111.66 C109.31,114.96 110.76,119.69 110.82,123.8Z" fill="#b3cbd9" stroke="none" stroke-width="1"/>
<path d="M68,128.5 C68,129.93 67.51,131.67 66.8,132.79 C66.08,133.92 64.83,134.91 63.72,135.27 C62.62,135.63 61.22,135.44 60.16,134.97 C59.09,134.51 58,133.57 57.34,132.5 C56.69,131.42 56.29,129.88 56.23,128.5 C56.17,127.12 56.33,125.23 57,124.2 C57.66,123.16 59.13,122.63 60.23,122.29 C61.33,121.95 62.51,121.84 63.61,122.17 C64.7,122.49 66.05,123.16 66.78,124.22 C67.51,125.27 68,127.07 68,128.5Z" fill="#b3cbd9" stroke="none" stroke-width="1"/>
<path d="M120.07,136.7 C120.06,138.4 119.52,140.42 118.87,141.79 C118.21,143.15 117.19,144.25 116.16,144.89 C115.13,145.52 113.73,146.1 112.69,145.62 C111.66,145.14 110.68,143.5 109.94,142.01 C109.2,140.53 108.32,138.55 108.25,136.7 C108.18,134.85 108.8,132.49 109.52,130.9 C110.24,129.31 111.45,127.62 112.57,127.16 C113.69,126.71 115.17,127.45 116.22,128.19 C117.28,128.93 118.24,130.18 118.88,131.6 C119.52,133.02 120.07,135 120.07,136.7Z" fill="#b3cbd9" stroke="none" stroke-width="1"/>
<ellipse cx="20.6" cy="54.9" rx="5.8" ry="9.3" fill="#5d41bf"/>
<ellipse cx="25.2" cy="40.9" rx="4" ry="4.7" fill="#5d41bf"/>
<ellipse cx="42" cy="47.9" rx="3.7" ry="5.1" fill="#5d41bf"/>
<ellipse cx="40.9" cy="59.6" rx="4" ry="5.1" fill="#5d41bf"/>
<ellipse cx="7" cy="32.7" rx="3.3" ry="5.1" fill="#5d41bf"/>
<ellipse cx="72.4" cy="53.7" rx="7.5" ry="8.9" fill="#5d41bf"/>
<ellipse cx="88.8" cy="49.1" rx="3.5" ry="4" fill="#5d41bf"/>
<ellipse cx="75.9" cy="71.2" rx="4.7" ry="3.5" fill="#5d41bf"/>
<ellipse cx="93.9" cy="68.4" rx="3" ry="3.5" fill="#5d41bf"/>
<ellipse cx="126.8" cy="115.6" rx="7.7" ry="8.9" fill="#5d41bf"/>
<ellipse cx="63" cy="101.6" rx="2.3" ry="3" fill="#5d41bf"/>
<ellipse cx="85.3" cy="127.3" rx="2.8" ry="4.2" fill="#5d41bf"/>
<ellipse cx="96.9" cy="140.2" rx="3" ry="4" fill="#5d41bf"/>
<ellipse cx="63.5" cy="130.8" rx="2.1" ry="3" fill="#5d41bf"/>
<ellipse cx="14" cy="17.5" rx="4.5" ry="4.5" fill="#5d41bf"/>
<ellipse cx="43.2" cy="22" rx="4.5" ry="4" fill="#5d41bf"/>
<rect width="159.6" height="149.7" filter="url(#nz2)" style="mix-blend-mode:overlay" opacity="0.35"/>
<rect x="0" y="0" width="79.4" height="23.4" fill="#ffffff" stroke="none" stroke-width="1" opacity="0.5"/>
<text x="10.5" y="14.5" font-size="10.2" text-anchor="start" fill="#111" font-weight="bold" style="font-family:'Liberation Serif'">Metformin</text>
<line x1="114.5" y1="141.3" x2="156" y2="141.3" stroke="#000" stroke-width="1.3"/>
</g></g>
<g transform="translate(364 29)">
<clipPath id="clip3"><rect width="154" height="149"/></clipPath>
<g clip-path="url(#clip3)">
<rect x="0" y="0" width="154" height="149" fill="#727272" stroke="none" stroke-width="1"/>
<ellipse cx="125" cy="60" rx="12" ry="10" fill="#222" filter="url(#blur4)"/>
<ellipse cx="150" cy="27" rx="4" ry="4" fill="#222" filter="url(#blur2)"/>
<ellipse cx="34" cy="142" rx="14" ry="10" fill="#1a1a1a" filter="url(#blur4)"/>
<ellipse cx="145" cy="125" rx="15" ry="20" fill="#6c6c6c" filter="url(#blur6)"/>
<circle cx="14.85" cy="74.27" r="7.26" fill="none" stroke="#3a3a3a" stroke-width="0.96" opacity="0.4"/>
<circle cx="36.07" cy="62.11" r="6.72" fill="none" stroke="#3a3a3a" stroke-width="1.14" opacity="0.4"/>
<circle cx="115.19" cy="126.2" r="6.99" fill="none" stroke="#3a3a3a" stroke-width="0.7" opacity="0.4"/>
<circle cx="129.49" cy="43.77" r="6.4" fill="none" stroke="#3a3a3a" stroke-width="0.9" opacity="0.4"/>
<circle cx="113.66" cy="29.68" r="4.48" fill="none" stroke="#3a3a3a" stroke-width="0.8" opacity="0.4"/>
<circle cx="23.61" cy="131.74" r="6.47" fill="none" stroke="#3a3a3a" stroke-width="0.86" opacity="0.4"/>
<circle cx="60.99" cy="147.87" r="6.04" fill="none" stroke="#3a3a3a" stroke-width="0.79" opacity="0.4"/>
<circle cx="124.5" cy="97.35" r="8.95" fill="none" stroke="#3a3a3a" stroke-width="0.68" opacity="0.4"/>
<circle cx="73.11" cy="122.05" r="8.04" fill="none" stroke="#3a3a3a" stroke-width="1.33" opacity="0.4"/>
<circle cx="6.22" cy="43.76" r="3.72" fill="none" stroke="#3a3a3a" stroke-width="0.75" opacity="0.4"/>
<circle cx="149.84" cy="86.9" r="8.58" fill="none" stroke="#3a3a3a" stroke-width="0.9" opacity="0.4"/>
<circle cx="133.38" cy="66.92" r="4.56" fill="none" stroke="#3a3a3a" stroke-width="1.22" opacity="0.4"/>
<circle cx="145.64" cy="15.76" r="6.58" fill="none" stroke="#3a3a3a" stroke-width="1.1" opacity="0.4"/>
<circle cx="33.52" cy="54.94" r="3.85" fill="none" stroke="#3a3a3a" stroke-width="0.76" opacity="0.4"/>
<circle cx="39.26" cy="89.31" r="6.91" fill="none" stroke="#3a3a3a" stroke-width="0.76" opacity="0.4"/>
<circle cx="1.75" cy="48.76" r="7.07" fill="none" stroke="#3a3a3a" stroke-width="0.75" opacity="0.4"/>
<circle cx="48.08" cy="30.31" r="7.77" fill="none" stroke="#3a3a3a" stroke-width="1.04" opacity="0.4"/>
<circle cx="9.74" cy="15.11" r="5.37" fill="none" stroke="#3a3a3a" stroke-width="1.04" opacity="0.4"/>
<circle cx="98.43" cy="13.58" r="3.98" fill="none" stroke="#3a3a3a" stroke-width="1.16" opacity="0.4"/>
<circle cx="63.11" cy="42.21" r="4.85" fill="none" stroke="#3a3a3a" stroke-width="1.36" opacity="0.4"/>
<circle cx="48.1" cy="84.41" r="5.14" fill="none" stroke="#3a3a3a" stroke-width="0.93" opacity="0.4"/>
<circle cx="133.09" cy="148.5" r="5.18" fill="none" stroke="#3a3a3a" stroke-width="0.76" opacity="0.4"/>
<circle cx="112.12" cy="30.35" r="3.04" fill="none" stroke="#3a3a3a" stroke-width="1.32" opacity="0.4"/>
<circle cx="65.26" cy="122.23" r="5.44" fill="none" stroke="#3a3a3a" stroke-width="1.31" opacity="0.4"/>
<circle cx="70.98" cy="24.22" r="3.09" fill="none" stroke="#3a3a3a" stroke-width="1.04" opacity="0.4"/>
<rect width="154" height="149" filter="url(#nz3)" style="mix-blend-mode:overlay" opacity="0.95"/>
<path d="M54.7,2.3 C59.65,1.35 66.48,0.72 75.2,1.1 C83.92,1.48 99.8,2.13 107,4.6 C114.2,7.07 116.12,10.97 118.4,15.9 C120.68,20.83 119.75,26.22 120.7,34.2 C121.65,42.18 123.15,54.32 124.1,63.8 C125.05,73.28 127.35,83.52 126.4,91.1 C125.45,98.68 122.77,103.23 118.4,109.3 C114.03,115.37 105.52,122.57 100.2,127.5 C94.88,132.43 91.82,136.8 86.5,138.9 C81.18,141 75.13,140.85 68.3,140.1 C61.47,139.35 52.72,136.5 45.5,134.4 C38.28,132.3 29.73,131.68 25,127.5 C20.27,123.32 19.18,116.13 17.1,109.3 C15.02,102.47 12.88,95.23 12.5,86.5 C12.12,77.77 13.47,64.87 14.8,56.9 C16.13,48.93 18.03,45.15 20.5,38.7 C22.97,32.25 25.43,23.52 29.6,18.2 C33.77,12.88 41.32,9.45 45.5,6.8 C49.68,4.15 49.75,3.25 54.7,2.3Z" fill="#9fc3c6" stroke="none" stroke-width="1"/>
<ellipse cx="74" cy="72.9" rx="47.8" ry="52.4" fill="#999" filter="url(#speck)"/>
<ellipse cx="95.6" cy="93.4" rx="4.6" ry="3.6" fill="#111"/>
<ellipse cx="29" cy="35.5" rx="1.8" ry="3.5" fill="#5d41bf" transform="rotate(20 29 35.5)"/>
<ellipse cx="20.5" cy="50" rx="1.5" ry="3.5" fill="#5d41bf" transform="rotate(10 20.5 50)"/>
<ellipse cx="18" cy="62" rx="1.5" ry="3.5" fill="#5d41bf" transform="rotate(20 18 62)"/>
<ellipse cx="16" cy="90" rx="1.5" ry="3.5" fill="#5d41bf" transform="rotate(-20 16 90)"/>
<ellipse cx="120" cy="87" rx="1.5" ry="3.5" fill="#5d41bf" transform="rotate(40 120 87)"/>
<ellipse cx="118" cy="101" rx="1.5" ry="3.2" fill="#5d41bf" transform="rotate(20 118 101)"/>
<ellipse cx="114" cy="102" rx="1.2" ry="2.5" fill="#5d41bf"/>
<ellipse cx="29" cy="126" rx="1.8" ry="1.5" fill="#5d41bf"/>
<ellipse cx="39" cy="128.5" rx="1.5" ry="2.5" fill="#5d41bf" transform="rotate(-40 39 128.5)"/>
<ellipse cx="48" cy="129" rx="3.5" ry="1.3" fill="#5d41bf" transform="rotate(10 48 129)"/>
<ellipse cx="55" cy="131" rx="3" ry="1.5" fill="#5d41bf" transform="rotate(-30 55 131)"/>
<ellipse cx="64" cy="132" rx="3" ry="1.5" fill="#5d41bf"/>
<ellipse cx="72" cy="130" rx="3" ry="1.5" fill="#5d41bf"/>
<ellipse cx="93" cy="125" rx="1.5" ry="3" fill="#5d41bf" transform="rotate(30 93 125)"/>
<ellipse cx="91" cy="130" rx="3.5" ry="1.5" fill="#5d41bf" transform="rotate(-30 91 130)"/>
<ellipse cx="69" cy="11" rx="1.5" ry="2.2" fill="#5d41bf"/>
<ellipse cx="101" cy="12" rx="3.5" ry="1.5" fill="#5d41bf" transform="rotate(30 101 12)"/>
<ellipse cx="109" cy="14" rx="1.5" ry="1.5" fill="#5d41bf"/>
<ellipse cx="112" cy="24" rx="2" ry="1.5" fill="#5d41bf"/>
<rect width="154" height="149" filter="url(#nz3)" style="mix-blend-mode:overlay" opacity="0.35"/>
<rect x="0" y="0" width="53.5" height="25" fill="#ffffff" stroke="none" stroke-width="1" opacity="0.5"/>
<text x="9.5" y="14.5" font-size="10.2" text-anchor="start" fill="#111" font-weight="bold" style="font-family:'Liberation Serif'">Vehicle</text>
<line x1="66" y1="143.5" x2="152" y2="143.5" stroke="#000" stroke-width="1.3"/>
</g></g>
<g transform="translate(521.5 29)">
<clipPath id="clip4"><rect width="152.5" height="149"/></clipPath>
<g clip-path="url(#clip4)">
<rect x="0" y="0" width="152.5" height="149" fill="#7a7a7a" stroke="none" stroke-width="1"/>
<ellipse cx="115" cy="25" rx="50" ry="35" fill="#8a8a8a" filter="url(#blur6)"/>
<circle cx="160" cy="38" r="22" fill="#a8a8a8"/>
<circle cx="160" cy="38" r="22" fill="none" stroke="#333" stroke-width="1"/>
<ellipse cx="135" cy="140" rx="15" ry="10" fill="#3a3a3a" filter="url(#blur4)"/>
<circle cx="97.7" cy="135.56" r="3.53" fill="none" stroke="#2f2f2f" stroke-width="1.1" opacity="0.45"/>
<circle cx="56.55" cy="75.16" r="3.88" fill="none" stroke="#2f2f2f" stroke-width="0.83" opacity="0.45"/>
<circle cx="79.48" cy="137.9" r="3.65" fill="none" stroke="#2f2f2f" stroke-width="0.99" opacity="0.45"/>
<circle cx="122.73" cy="144.06" r="4.18" fill="none" stroke="#2f2f2f" stroke-width="0.7" opacity="0.45"/>
<circle cx="143.82" cy="145.36" r="5.9" fill="none" stroke="#2f2f2f" stroke-width="0.64" opacity="0.45"/>
<circle cx="141.24" cy="57.8" r="8.43" fill="none" stroke="#2f2f2f" stroke-width="1.1" opacity="0.45"/>
<circle cx="125.74" cy="23.88" r="7.71" fill="none" stroke="#2f2f2f" stroke-width="0.78" opacity="0.45"/>
<circle cx="61.68" cy="126.11" r="7.98" fill="none" stroke="#2f2f2f" stroke-width="0.75" opacity="0.45"/>
<circle cx="33.27" cy="59.56" r="6.11" fill="none" stroke="#2f2f2f" stroke-width="0.91" opacity="0.45"/>
<circle cx="18.77" cy="36.81" r="7.35" fill="none" stroke="#2f2f2f" stroke-width="1.32" opacity="0.45"/>
<circle cx="6.27" cy="83.79" r="7.54" fill="none" stroke="#2f2f2f" stroke-width="0.63" opacity="0.45"/>
<circle cx="127.83" cy="17.54" r="6.6" fill="none" stroke="#2f2f2f" stroke-width="1.04" opacity="0.45"/>
<circle cx="95.62" cy="45.63" r="5.52" fill="none" stroke="#2f2f2f" stroke-width="1.07" opacity="0.45"/>
<circle cx="64.93" cy="98.17" r="5.68" fill="none" stroke="#2f2f2f" stroke-width="0.95" opacity="0.45"/>
<circle cx="3.56" cy="92.21" r="5.94" fill="none" stroke="#2f2f2f" stroke-width="0.79" opacity="0.45"/>
<circle cx="116.44" cy="116.22" r="5.75" fill="none" stroke="#2f2f2f" stroke-width="0.74" opacity="0.45"/>
<circle cx="72.17" cy="15.95" r="3.77" fill="none" stroke="#2f2f2f" stroke-width="0.94" opacity="0.45"/>
<circle cx="13.99" cy="65.85" r="6.06" fill="none" stroke="#2f2f2f" stroke-width="0.63" opacity="0.45"/>
<circle cx="97.06" cy="12.25" r="7.4" fill="none" stroke="#2f2f2f" stroke-width="1.22" opacity="0.45"/>
<circle cx="78" cy="8.09" r="6.02" fill="none" stroke="#2f2f2f" stroke-width="0.9" opacity="0.45"/>
<circle cx="145.01" cy="20.29" r="8.14" fill="none" stroke="#2f2f2f" stroke-width="1.4" opacity="0.45"/>
<circle cx="111.64" cy="121.43" r="4.16" fill="none" stroke="#2f2f2f" stroke-width="1.39" opacity="0.45"/>
<circle cx="75.01" cy="142.54" r="8.5" fill="none" stroke="#2f2f2f" stroke-width="0.73" opacity="0.45"/>
<circle cx="120.23" cy="138.66" r="3.39" fill="none" stroke="#2f2f2f" stroke-width="0.88" opacity="0.45"/>
<circle cx="115.32" cy="23.66" r="8.38" fill="none" stroke="#2f2f2f" stroke-width="0.82" opacity="0.45"/>
<rect width="152.5" height="149" filter="url(#nz4)" style="mix-blend-mode:overlay" opacity="0.95"/>
<path d="M0,22.5 C7.5,0.83 31.88,20.2 45,20.2 C58.12,20.2 71.22,20.25 78.7,22.5 C86.18,24.75 88.78,30.33 89.9,33.7 C91.02,37.07 84.27,41.57 85.4,42.7 C86.53,43.83 91.45,40.5 96.7,40.5 C101.95,40.5 112.78,40.45 116.9,42.7 C121.02,44.95 118.4,49.13 121.4,54 C124.4,58.87 130.78,67.42 134.9,71.9 C139.02,76.38 143.48,77.15 146.1,80.9 C148.72,84.65 150.97,89.15 150.6,94.4 C150.23,99.65 146.52,108.65 143.9,112.4 C141.28,116.15 137.9,114.28 134.9,116.9 C131.9,119.52 130.4,125.1 125.9,128.1 C121.4,131.1 113.9,133.02 107.9,134.9 C101.9,136.78 94.77,137.9 89.9,139.4 C85.03,140.9 82.45,142.4 78.7,143.9 C74.95,145.4 73.02,147.35 67.4,148.4 C61.78,149.45 56.23,149.9 45,150.2 C33.77,150.5 7.5,171.48 0,150.2 C-7.5,128.92 -7.5,44.17 0,22.5Z" fill="#a5c9cb" stroke="none" stroke-width="1"/>
<path d="M45,62.9 C48,58.78 53.27,54.5 58.5,51.7 C63.73,48.9 70.42,47.22 76.4,46.1 C82.38,44.98 88.4,44.63 94.4,45 C100.4,45.37 107.15,46.05 112.4,48.3 C117.65,50.55 121.78,54.18 125.9,58.5 C130.02,62.82 134.67,68.22 137.1,74.2 C139.53,80.18 140.87,87.65 140.5,94.4 C140.13,101.15 137.33,109.45 134.9,114.7 C132.47,119.95 130.4,122.92 125.9,125.9 C121.4,128.88 114.65,130.92 107.9,132.6 C101.15,134.28 92.15,135.43 85.4,136 C78.65,136.57 73.38,136.57 67.4,136 C61.42,135.43 55.12,134.28 49.5,132.6 C43.88,130.92 37.83,128.52 33.7,125.9 C29.57,123.28 26.57,120.27 24.7,116.9 C22.83,113.53 21.75,109.07 22.5,105.7 C23.25,102.33 26.58,99.33 29.2,96.7 C31.82,94.07 36.32,93.28 38.2,89.9 C40.08,86.52 39.37,80.9 40.5,76.4 C41.63,71.9 42,67.02 45,62.9Z" fill="#a4a4a4" stroke="none" stroke-width="1"/>
<path d="M45,62.9 C48,58.78 53.27,54.5 58.5,51.7 C63.73,48.9 70.42,47.22 76.4,46.1 C82.38,44.98 88.4,44.63 94.4,45 C100.4,45.37 107.15,46.05 112.4,48.3 C117.65,50.55 121.78,54.18 125.9,58.5 C130.02,62.82 134.67,68.22 137.1,74.2 C139.53,80.18 140.87,87.65 140.5,94.4 C140.13,101.15 137.33,109.45 134.9,114.7 C132.47,119.95 130.4,122.92 125.9,125.9 C121.4,128.88 114.65,130.92 107.9,132.6 C101.15,134.28 92.15,135.43 85.4,136 C78.65,136.57 73.38,136.57 67.4,136 C61.42,135.43 55.12,134.28 49.5,132.6 C43.88,130.92 37.83,128.52 33.7,125.9 C29.57,123.28 26.57,120.27 24.7,116.9 C22.83,113.53 21.75,109.07 22.5,105.7 C23.25,102.33 26.58,99.33 29.2,96.7 C31.82,94.07 36.32,93.28 38.2,89.9 C40.08,86.52 39.37,80.9 40.5,76.4 C41.63,71.9 42,67.02 45,62.9Z" fill="#999" stroke="none" stroke-width="1" filter="url(#speck)"/>
<path d="M45,62.9 C48,58.78 53.27,54.5 58.5,51.7 C63.73,48.9 70.42,47.22 76.4,46.1 C82.38,44.98 88.4,44.63 94.4,45 C100.4,45.37 107.15,46.05 112.4,48.3 C117.65,50.55 121.78,54.18 125.9,58.5 C130.02,62.82 134.67,68.22 137.1,74.2 C139.53,80.18 140.87,87.65 140.5,94.4 C140.13,101.15 137.33,109.45 134.9,114.7 C132.47,119.95 130.4,122.92 125.9,125.9 C121.4,128.88 114.65,130.92 107.9,132.6 C101.15,134.28 92.15,135.43 85.4,136 C78.65,136.57 73.38,136.57 67.4,136 C61.42,135.43 55.12,134.28 49.5,132.6 C43.88,130.92 37.83,128.52 33.7,125.9 C29.57,123.28 26.57,120.27 24.7,116.9 C22.83,113.53 21.75,109.07 22.5,105.7 C23.25,102.33 26.58,99.33 29.2,96.7 C31.82,94.07 36.32,93.28 38.2,89.9 C40.08,86.52 39.37,80.9 40.5,76.4 C41.63,71.9 42,67.02 45,62.9Z" fill="#fff" stroke="none" stroke-width="1" opacity="0.18"/>
<path d="M45,62.9 C48,58.78 53.27,54.5 58.5,51.7 C63.73,48.9 70.42,47.22 76.4,46.1 C82.38,44.98 88.4,44.63 94.4,45 C100.4,45.37 107.15,46.05 112.4,48.3 C117.65,50.55 121.78,54.18 125.9,58.5 C130.02,62.82 134.67,68.22 137.1,74.2 C139.53,80.18 140.87,87.65 140.5,94.4 C140.13,101.15 137.33,109.45 134.9,114.7 C132.47,119.95 130.4,122.92 125.9,125.9 C121.4,128.88 114.65,130.92 107.9,132.6 C101.15,134.28 92.15,135.43 85.4,136 C78.65,136.57 73.38,136.57 67.4,136 C61.42,135.43 55.12,134.28 49.5,132.6 C43.88,130.92 37.83,128.52 33.7,125.9 C29.57,123.28 26.57,120.27 24.7,116.9 C22.83,113.53 21.75,109.07 22.5,105.7 C23.25,102.33 26.58,99.33 29.2,96.7 C31.82,94.07 36.32,93.28 38.2,89.9 C40.08,86.52 39.37,80.9 40.5,76.4 C41.63,71.9 42,67.02 45,62.9Z" fill="none" stroke="#111" stroke-width="1.3"/>
<ellipse cx="34" cy="30" rx="3" ry="1.5" fill="#5d41bf" transform="rotate(10 34 30)"/>
<ellipse cx="59" cy="27" rx="2.5" ry="1.5" fill="#5d41bf"/>
<ellipse cx="66" cy="25.5" rx="3" ry="1.5" fill="#5d41bf" transform="rotate(10 66 25.5)"/>
<ellipse cx="64" cy="34" rx="3" ry="1.5" fill="#5d41bf"/>
<ellipse cx="70" cy="34" rx="2.5" ry="1.2" fill="#5d41bf"/>
<ellipse cx="75" cy="36" rx="2" ry="1.3" fill="#5d41bf"/>
<ellipse cx="55" cy="41" rx="2" ry="1.5" fill="#5d41bf"/>
<ellipse cx="34" cy="43" rx="3.5" ry="2" fill="#5d41bf" transform="rotate(20 34 43)"/>
<ellipse cx="5" cy="36" rx="2.5" ry="1.5" fill="#5d41bf"/>
<ellipse cx="18" cy="51" rx="2.5" ry="1.5" fill="#5d41bf"/>
<ellipse cx="4" cy="59" rx="2" ry="1.5" fill="#5d41bf"/>
<ellipse cx="9" cy="61" rx="2.5" ry="1.5" fill="#5d41bf"/>
<ellipse cx="29" cy="67" rx="1.8" ry="1.5" fill="#5d41bf"/>
<ellipse cx="34" cy="74" rx="2.5" ry="1.5" fill="#5d41bf"/>
<ellipse cx="29" cy="79" rx="1.8" ry="1.8" fill="#5d41bf"/>
<ellipse cx="28" cy="86" rx="2.2" ry="1.8" fill="#5d41bf"/>
<ellipse cx="33" cy="92" rx="2.5" ry="1.5" fill="#5d41bf"/>
<ellipse cx="25" cy="94" rx="1.8" ry="1.5" fill="#5d41bf"/>
<ellipse cx="20" cy="103" rx="2.5" ry="2" fill="#5d41bf"/>
<ellipse cx="19" cy="114" rx="2" ry="2" fill="#5d41bf"/>
<ellipse cx="23" cy="124" rx="2.2" ry="1.8" fill="#5d41bf"/>
<ellipse cx="22" cy="134" rx="1.8" ry="1.8" fill="#5d41bf"/>
<ellipse cx="33" cy="133" rx="1.8" ry="1.8" fill="#5d41bf"/>
<ellipse cx="20" cy="142" rx="2.5" ry="1.8" fill="#5d41bf"/>
<ellipse cx="15" cy="147" rx="2.2" ry="1.5" fill="#5d41bf"/>
<ellipse cx="97" cy="135" rx="1.8" ry="2.5" fill="#5d41bf"/>
<ellipse cx="135" cy="114.5" rx="2.5" ry="1.5" fill="#5d41bf" transform="rotate(-20 135 114.5)"/>
<ellipse cx="148" cy="84" rx="2" ry="1.5" fill="#5d41bf" transform="rotate(30 148 84)"/>
<ellipse cx="20" cy="5" rx="2" ry="1.2" fill="#8d7fd0" opacity="0.8"/>
<ellipse cx="28" cy="16" rx="3.5" ry="1.5" fill="#8d7fd0" opacity="0.8"/>
<ellipse cx="45" cy="21" rx="3" ry="1.5" fill="#8d7fd0" opacity="0.8"/>
<ellipse cx="30" cy="4" rx="1.5" ry="1.5" fill="#8d7fd0" opacity="0.8"/>
<rect width="152.5" height="149" filter="url(#nz4)" style="mix-blend-mode:overlay" opacity="0.35"/>
<rect x="0" y="0" width="79.8" height="22.5" fill="#ffffff" stroke="none" stroke-width="1" opacity="0.5"/>
<text x="10.5" y="14.5" font-size="10.2" text-anchor="start" fill="#111" font-weight="bold" style="font-family:'Liberation Serif'">Metformin</text>
<line x1="79.8" y1="142.8" x2="150.2" y2="142.8" stroke="#000" stroke-width="1.3"/>
</g></g>
<text transform="translate(9.7 104) rotate(-90)" font-size="10.9" text-anchor="middle" fill="#000">Rag2<tspan font-size="6.3" dy="-4">-/-</tspan><tspan dy="4">; Shi/Shi 70DPT</tspan></text>
<text transform="translate(360.9 103.2) rotate(-90)" font-size="10.9" text-anchor="middle" fill="#000">Rag2<tspan font-size="6.3" dy="-4">-/-</tspan><tspan dy="4">; Shi/Shi 70DPT</tspan></text>
<text x="1.2" y="16.2" font-size="22" text-anchor="start" fill="#000">A</text>
<text x="354.3" y="16.3" font-size="22" text-anchor="start" fill="#000">C</text>
<text x="2.6" y="207.3" font-size="22" text-anchor="start" fill="#000">B</text>
<text x="332.6" y="207.8" font-size="22" text-anchor="start" fill="#000">D</text>
<text x="8.3" y="464.2" font-size="22" text-anchor="start" fill="#000">E</text>
<text x="347.8" y="463.8" font-size="22" text-anchor="start" fill="#000">F</text>
<text x="6.8" y="736.3" font-size="22" text-anchor="start" fill="#000">G</text>
<text x="347.4" y="736.3" font-size="22" text-anchor="start" fill="#000">H</text>
<line x1="52.2" y1="215.2" x2="52.2" y2="391.3" stroke="#000" stroke-width="1.5"/>
<line x1="51.45" y1="391.3" x2="150" y2="391.3" stroke="#000" stroke-width="1.5"/>
<line x1="45.2" y1="391.3" x2="52.2" y2="391.3" stroke="#000" stroke-width="1.5"/>
<text x="42.9" y="393.71" font-size="6.7" text-anchor="end" fill="#000" font-weight="bold">0.00</text>
<line x1="45.2" y1="347.45" x2="52.2" y2="347.45" stroke="#000" stroke-width="1.5"/>
<text x="42.9" y="349.86" font-size="6.7" text-anchor="end" fill="#000" font-weight="bold">0.05</text>
<line x1="45.2" y1="303.6" x2="52.2" y2="303.6" stroke="#000" stroke-width="1.5"/>
<text x="42.9" y="306.01" font-size="6.7" text-anchor="end" fill="#000" font-weight="bold">0.10</text>
<line x1="45.2" y1="259.75" x2="52.2" y2="259.75" stroke="#000" stroke-width="1.5"/>
<text x="42.9" y="262.16" font-size="6.7" text-anchor="end" fill="#000" font-weight="bold">0.15</text>
<line x1="45.2" y1="215.9" x2="52.2" y2="215.9" stroke="#000" stroke-width="1.5"/>
<text x="42.9" y="218.31" font-size="6.7" text-anchor="end" fill="#000" font-weight="bold">0.20</text>
<line x1="80.4" y1="391.3" x2="80.4" y2="396.3" stroke="#000" stroke-width="1.5"/>
<line x1="122.3" y1="391.3" x2="122.3" y2="396.3" stroke="#000" stroke-width="1.5"/>
<rect x="67.5" y="368.2" width="25.4" height="23.1" fill="#d6e5f1" stroke="#b7d0e8" stroke-width="2.2"/>
<rect x="109.4" y="306.6" width="25.1" height="84.7" fill="#f4d3d9" stroke="#efa7aa" stroke-width="2.2"/>
<line x1="80.4" y1="361.5" x2="80.4" y2="372.9" stroke="#a3bfe2" stroke-width="1"/>
<line x1="73.4" y1="361.5" x2="87.4" y2="361.5" stroke="#a3bfe2" stroke-width="1"/>
<line x1="73.4" y1="372.9" x2="87.4" y2="372.9" stroke="#a3bfe2" stroke-width="1"/>
<line x1="122.1" y1="289.2" x2="122.1" y2="320.2" stroke="#c582ae" stroke-width="1"/>
<line x1="115.1" y1="289.2" x2="129.1" y2="289.2" stroke="#c582ae" stroke-width="1"/>
<line x1="115.1" y1="320.2" x2="129.1" y2="320.2" stroke="#c582ae" stroke-width="1"/>
<circle cx="73.8" cy="358.9" r="3.1" fill="#7fa3d6"/>
<circle cx="86.6" cy="355.7" r="3.1" fill="#7fa3d6"/>
<circle cx="73.8" cy="378.5" r="3.1" fill="#7fa3d6"/>
<circle cx="86.6" cy="376.1" r="3.1" fill="#7fa3d6"/>
<circle cx="122.1" cy="253" r="3.1" fill="#b4619b"/>
<circle cx="115.4" cy="303.3" r="3.1" fill="#b4619b"/>
<circle cx="128.5" cy="297.1" r="3.1" fill="#b4619b"/>
<circle cx="122.1" cy="327.4" r="3.1" fill="#b4619b"/>
<circle cx="122.1" cy="342.6" r="3.1" fill="#b4619b"/>
<path d="M80.2,340.6 V221.8 H122.1 V237.5" fill="none" stroke="#000" stroke-width="1.5"/>
<text x="101" y="214.6" font-size="10.8" text-anchor="middle" fill="#000">0.0107</text>
<text x="17" y="0" font-size="1" text-anchor="start" fill="#000"></text>
<text transform="translate(13.7 307.1) rotate(-90)" font-size="7.6" text-anchor="middle" fill="#000" font-weight="bold">Mean mitochondrial area (μm<tspan font-size="4.9" dy="-2.8">2</tspan><tspan dy="2.8">) /</tspan></text>
<text transform="translate(24.1 306.5) rotate(-90)" font-size="7.6" text-anchor="middle" fill="#000" font-weight="bold">myelinated axonal area (μm<tspan font-size="4.9" dy="-2.8">2</tspan><tspan dy="2.8">)</tspan></text>
<text transform="translate(83.08 402.7) rotate(-90)" font-size="6.9" text-anchor="end" fill="#000" font-weight="bold">Vehicle</text>
<text transform="translate(123.98 402.7) rotate(-90)" font-size="6.9" text-anchor="end" fill="#000" font-weight="bold">Metformin</text>
<line x1="184.9" y1="217" x2="184.9" y2="392.7" stroke="#111" stroke-width="1.4"/>
<line x1="184.2" y1="392" x2="313.4" y2="392" stroke="#111" stroke-width="1.4"/>
<line x1="180.7" y1="383.7" x2="184.9" y2="383.7" stroke="#000" stroke-width="1.2"/>
<text x="179.9" y="386.04" font-size="6.5" text-anchor="end" fill="#000" font-weight="bold">0.00</text>
<line x1="180.7" y1="351" x2="184.9" y2="351" stroke="#000" stroke-width="1.2"/>
<text x="179.9" y="353.34" font-size="6.5" text-anchor="end" fill="#000" font-weight="bold">0.05</text>
<line x1="180.7" y1="318.3" x2="184.9" y2="318.3" stroke="#000" stroke-width="1.2"/>
<text x="179.9" y="320.64" font-size="6.5" text-anchor="end" fill="#000" font-weight="bold">0.10</text>
<line x1="180.7" y1="285.6" x2="184.9" y2="285.6" stroke="#000" stroke-width="1.2"/>
<text x="179.9" y="287.94" font-size="6.5" text-anchor="end" fill="#000" font-weight="bold">0.15</text>
<line x1="180.7" y1="252.9" x2="184.9" y2="252.9" stroke="#000" stroke-width="1.2"/>
<text x="179.9" y="255.24" font-size="6.5" text-anchor="end" fill="#000" font-weight="bold">0.20</text>
<line x1="180.7" y1="220.2" x2="184.9" y2="220.2" stroke="#000" stroke-width="1.2"/>
<text x="179.9" y="222.54" font-size="6.5" text-anchor="end" fill="#000" font-weight="bold">0.25</text>
<line x1="220" y1="392" x2="220" y2="396" stroke="#000" stroke-width="1.2"/>
<line x1="278" y1="392" x2="278" y2="396" stroke="#000" stroke-width="1.2"/>
<line x1="219.5" y1="339.6" x2="219.5" y2="280.4" stroke="#888" stroke-width="1"/>
<rect x="205" y="339.6" width="29.6" height="44.1" fill="none" stroke="#888" stroke-width="1"/>
<line x1="205" y1="383.4" x2="234.6" y2="383.4" stroke="#555" stroke-width="1.5"/>
<line x1="278" y1="297.4" x2="278" y2="226.7" stroke="#999" stroke-width="1.2"/>
<line x1="278" y1="371.8" x2="278" y2="383.7" stroke="#999" stroke-width="1.2"/>
<rect x="263.5" y="297.4" width="28.7" height="74.4" fill="none" stroke="#888" stroke-width="1"/>
<line x1="263.5" y1="319.3" x2="292.2" y2="319.3" stroke="#444" stroke-width="1.5"/>
<circle cx="222.8" cy="279.3" r="2.6" fill="#83a8af" opacity="0.85"/>
<circle cx="225.9" cy="301.2" r="2.6" fill="#98c5ce" opacity="0.85"/>
<circle cx="212.8" cy="311.7" r="2.6" fill="#98c5ce" opacity="0.85"/>
<circle cx="224.1" cy="311.7" r="2.6" fill="#83a8af" opacity="0.85"/>
<circle cx="223.3" cy="321.4" r="2.6" fill="#98c5ce" opacity="0.85"/>
<circle cx="232" cy="321.4" r="2.6" fill="#678b91" opacity="0.85"/>
<circle cx="203" cy="326.6" r="2.6" fill="#678b91" opacity="0.85"/>
<circle cx="208.3" cy="331.4" r="2.6" fill="#98c5ce" opacity="0.85"/>
<circle cx="216.2" cy="331.4" r="2.6" fill="#98c5ce" opacity="0.85"/>
<circle cx="230.1" cy="328.7" r="2.6" fill="#678b91" opacity="0.85"/>
<circle cx="205.2" cy="337.4" r="2.6" fill="#83a8af" opacity="0.85"/>
<circle cx="234.1" cy="337.4" r="2.6" fill="#addde5" opacity="0.85"/>
<circle cx="237.2" cy="337.4" r="2.6" fill="#addde5" opacity="0.85"/>
<circle cx="235.9" cy="343.2" r="2.6" fill="#addde5" opacity="0.85"/>
<circle cx="210.4" cy="350.3" r="2.6" fill="#addde5" opacity="0.85"/>
<circle cx="232.5" cy="356.9" r="2.6" fill="#98c5ce" opacity="0.85"/>
<circle cx="220.1" cy="359.5" r="2.6" fill="#98c5ce" opacity="0.85"/>
<circle cx="230.6" cy="367.4" r="2.6" fill="#83a8af" opacity="0.85"/>
<circle cx="203" cy="383.4" r="2.6" fill="#addde5" opacity="0.85"/>
<circle cx="205.5" cy="383.4" r="2.6" fill="#83a8af" opacity="0.85"/>
<circle cx="208" cy="383.4" r="2.6" fill="#678b91" opacity="0.85"/>
<circle cx="211" cy="383.4" r="2.6" fill="#98c5ce" opacity="0.85"/>
<circle cx="214" cy="383.4" r="2.6" fill="#678b91" opacity="0.85"/>
<circle cx="217" cy="383.4" r="2.6" fill="#83a8af" opacity="0.85"/>
<circle cx="220" cy="383.4" r="2.6" fill="#addde5" opacity="0.85"/>
<circle cx="223" cy="383.4" r="2.6" fill="#678b91" opacity="0.85"/>
<circle cx="226" cy="383.4" r="2.6" fill="#98c5ce" opacity="0.85"/>
<circle cx="229" cy="383.4" r="2.6" fill="#83a8af" opacity="0.85"/>
<circle cx="231.5" cy="383.4" r="2.6" fill="#678b91" opacity="0.85"/>
<circle cx="234" cy="383.4" r="2.6" fill="#addde5" opacity="0.85"/>
<circle cx="236.5" cy="383.4" r="2.6" fill="#83a8af" opacity="0.85"/>
<circle cx="237.7" cy="383.4" r="2.6" fill="#98c5ce" opacity="0.85"/>
<circle cx="275.3" cy="225.5" r="2.6" fill="#8e2a63" opacity="0.85"/>
<circle cx="294.5" cy="228.1" r="2.6" fill="#f5bacd" opacity="0.85"/>
<circle cx="273.2" cy="237.6" r="2.6" fill="#8e2a63" opacity="0.85"/>
<circle cx="282.4" cy="249.9" r="2.6" fill="#f5bacd" opacity="0.85"/>
<circle cx="292.9" cy="249.9" r="2.6" fill="#c97ba0" opacity="0.85"/>
<circle cx="265.6" cy="258.3" r="2.6" fill="#e29bb6" opacity="0.85"/>
<circle cx="291.1" cy="255.7" r="2.6" fill="#b05687" opacity="0.85"/>
<circle cx="278.5" cy="274.9" r="2.6" fill="#f5bacd" opacity="0.85"/>
<circle cx="283.2" cy="272.8" r="2.6" fill="#f5bacd" opacity="0.85"/>
<circle cx="285.8" cy="282.8" r="2.6" fill="#f5bacd" opacity="0.85"/>
<circle cx="279.3" cy="285.4" r="2.6" fill="#8e2a63" opacity="0.85"/>
<circle cx="283.2" cy="286.2" r="2.6" fill="#b05687" opacity="0.85"/>
<circle cx="281.1" cy="293.3" r="2.6" fill="#b05687" opacity="0.85"/>
<circle cx="270.8" cy="300.6" r="2.6" fill="#f5bacd" opacity="0.85"/>
<circle cx="274.5" cy="303.3" r="2.6" fill="#e29bb6" opacity="0.85"/>
<circle cx="281.9" cy="301.2" r="2.6" fill="#f5bacd" opacity="0.85"/>
<circle cx="288.4" cy="309" r="2.6" fill="#b05687" opacity="0.85"/>
<circle cx="260.9" cy="311.7" r="2.6" fill="#e29bb6" opacity="0.85"/>
<circle cx="276.1" cy="309.8" r="2.6" fill="#f5bacd" opacity="0.85"/>
<circle cx="269.3" cy="314.8" r="2.6" fill="#e29bb6" opacity="0.85"/>
<circle cx="275.3" cy="315.6" r="2.6" fill="#f5bacd" opacity="0.85"/>
<circle cx="281.9" cy="313.8" r="2.6" fill="#b05687" opacity="0.85"/>
<circle cx="284" cy="317.4" r="2.6" fill="#b05687" opacity="0.85"/>
<circle cx="260.9" cy="323.5" r="2.6" fill="#8e2a63" opacity="0.85"/>
<circle cx="263.5" cy="323.5" r="2.6" fill="#8e2a63" opacity="0.85"/>
<circle cx="283.7" cy="324.8" r="2.6" fill="#f5bacd" opacity="0.85"/>
<circle cx="294.2" cy="327.4" r="2.6" fill="#c97ba0" opacity="0.85"/>
<circle cx="274.5" cy="329.3" r="2.6" fill="#e29bb6" opacity="0.85"/>
<circle cx="281.9" cy="329.3" r="2.6" fill="#f5bacd" opacity="0.85"/>
<circle cx="289.2" cy="334.8" r="2.6" fill="#c97ba0" opacity="0.85"/>
<circle cx="263.5" cy="341.4" r="2.6" fill="#b05687" opacity="0.85"/>
<circle cx="284" cy="343.2" r="2.6" fill="#c97ba0" opacity="0.85"/>
<circle cx="281.1" cy="345.8" r="2.6" fill="#e29bb6" opacity="0.85"/>
<circle cx="278" cy="349.2" r="2.6" fill="#f5bacd" opacity="0.85"/>
<circle cx="294.5" cy="359.7" r="2.6" fill="#e29bb6" opacity="0.85"/>
<circle cx="260.9" cy="383.4" r="2.6" fill="#8e2a63" opacity="0.9"/>
<circle cx="263.5" cy="383.4" r="2.6" fill="#b05687" opacity="0.9"/>
<circle cx="268" cy="383.4" r="2.6" fill="#8e2a63" opacity="0.9"/>
<circle cx="276.6" cy="383.4" r="2.6" fill="#8e2a63" opacity="0.9"/>
<circle cx="278.5" cy="383.4" r="2.6" fill="#b05687" opacity="0.9"/>
<circle cx="284" cy="383.4" r="2.6" fill="#8e2a63" opacity="0.9"/>
<circle cx="291.1" cy="383.4" r="2.6" fill="#b05687" opacity="0.9"/>
<circle cx="292.9" cy="383.4" r="2.6" fill="#8e2a63" opacity="0.9"/>
<circle cx="294.2" cy="383.4" r="2.6" fill="#b05687" opacity="0.9"/>
<line x1="205" y1="383.4" x2="234.6" y2="383.4" stroke="#555" stroke-width="1.3" opacity="0.8"/>
<text transform="translate(151.4 303.8) rotate(-90)" font-size="7.6" text-anchor="middle" fill="#111" font-weight="bold">Mitochondrial area (μm^2) /</text>
<text transform="translate(159.6 303.8) rotate(-90)" font-size="7.6" text-anchor="middle" fill="#111" font-weight="bold">Myelinated axonal area (μm^2)</text>
<text transform="translate(222.58 397.6) rotate(-90)" font-size="6.9" text-anchor="end" fill="#000" font-weight="bold">Vehicle</text>
<text transform="translate(280.98 397.6) rotate(-90)" font-size="6.9" text-anchor="end" fill="#000" font-weight="bold">Metformin</text>
<line x1="374.3" y1="210.8" x2="374.3" y2="389" stroke="#000" stroke-width="1.5"/>
<line x1="373.55" y1="389" x2="473" y2="389" stroke="#000" stroke-width="1.5"/>
<line x1="367.3" y1="389" x2="374.3" y2="389" stroke="#000" stroke-width="1.5"/>
<text x="365" y="391.41" font-size="6.7" text-anchor="end" fill="#000" font-weight="bold">0.0</text>
<line x1="367.3" y1="353.5" x2="374.3" y2="353.5" stroke="#000" stroke-width="1.5"/>
<text x="365" y="355.91" font-size="6.7" text-anchor="end" fill="#000" font-weight="bold">0.2</text>
<line x1="367.3" y1="318" x2="374.3" y2="318" stroke="#000" stroke-width="1.5"/>
<text x="365" y="320.41" font-size="6.7" text-anchor="end" fill="#000" font-weight="bold">0.4</text>
<line x1="367.3" y1="282.5" x2="374.3" y2="282.5" stroke="#000" stroke-width="1.5"/>
<text x="365" y="284.91" font-size="6.7" text-anchor="end" fill="#000" font-weight="bold">0.6</text>
<line x1="367.3" y1="247" x2="374.3" y2="247" stroke="#000" stroke-width="1.5"/>
<text x="365" y="249.41" font-size="6.7" text-anchor="end" fill="#000" font-weight="bold">0.8</text>
<line x1="367.3" y1="211.5" x2="374.3" y2="211.5" stroke="#000" stroke-width="1.5"/>
<text x="365" y="213.91" font-size="6.7" text-anchor="end" fill="#000" font-weight="bold">1.0</text>
<line x1="402" y1="389" x2="402" y2="394" stroke="#000" stroke-width="1.5"/>
<line x1="444.6" y1="389" x2="444.6" y2="394" stroke="#000" stroke-width="1.5"/>
<rect x="389.6" y="381.1" width="25.5" height="7.9" fill="#d6e5f1" stroke="#b7d0e8" stroke-width="2.2"/>
<rect x="432.1" y="334.4" width="25.4" height="54.6" fill="#f4d3d9" stroke="#efa7aa" stroke-width="2.2"/>
<line x1="402.2" y1="376.5" x2="402.2" y2="383" stroke="#a3bfe2" stroke-width="1"/>
<line x1="395.2" y1="376.5" x2="409.2" y2="376.5" stroke="#a3bfe2" stroke-width="1"/>
<line x1="395.2" y1="383" x2="409.2" y2="383" stroke="#a3bfe2" stroke-width="1"/>
<line x1="444.6" y1="307.5" x2="444.6" y2="358.3" stroke="#c582ae" stroke-width="1"/>
<line x1="437.6" y1="307.5" x2="451.6" y2="307.5" stroke="#c582ae" stroke-width="1"/>
<line x1="437.6" y1="358.3" x2="451.6" y2="358.3" stroke="#c582ae" stroke-width="1"/>
<circle cx="395.9" cy="376.5" r="3.1" fill="#7fa3d6"/>
<circle cx="409" cy="376.5" r="3.1" fill="#7fa3d6"/>
<circle cx="402.2" cy="385.5" r="3.1" fill="#7fa3d6"/>
<circle cx="444.7" cy="229.4" r="3.1" fill="#b4619b"/>
<circle cx="444.7" cy="282.5" r="3.1" fill="#b4619b"/>
<circle cx="434.1" cy="367.8" r="3.1" fill="#b4619b"/>
<circle cx="444.6" cy="369.5" r="3.1" fill="#b4619b"/>
<circle cx="455.6" cy="373" r="3.1" fill="#b4619b"/>
<circle cx="434.1" cy="376.5" r="3.1" fill="#b4619b"/>
<path d="M402.3,367.1 V210.1 H444.7 V220" fill="none" stroke="#000" stroke-width="1.5"/>
<text x="423.7" y="202.8" font-size="11.1" text-anchor="middle" fill="#000">0.0595</text>
<text transform="translate(339.2 303.8) rotate(-90)" font-size="7.6" text-anchor="middle" fill="#000" font-weight="bold">Mean mitochondrial area (μm<tspan font-size="4.9" dy="-2.8">2</tspan><tspan dy="2.8">) /</tspan></text>
<text transform="translate(350.2 304.3) rotate(-90)" font-size="7.6" text-anchor="middle" fill="#000" font-weight="bold">cytoplasm area (μm<tspan font-size="4.9" dy="-2.8">2</tspan><tspan dy="2.8">)</tspan></text>
<text transform="translate(404.38 400.7) rotate(-90)" font-size="6.6" text-anchor="end" fill="#000" font-weight="bold">Vehicle</text>
<text transform="translate(446.98 400.7) rotate(-90)" font-size="6.6" text-anchor="end" fill="#000" font-weight="bold">Metformin</text>
<line x1="510.6" y1="213.1" x2="510.6" y2="390" stroke="#111" stroke-width="1.4"/>
<line x1="509.9" y1="389.3" x2="609.3" y2="389.3" stroke="#111" stroke-width="1.4"/>
<line x1="506.4" y1="381.8" x2="510.6" y2="381.8" stroke="#000" stroke-width="1.2"/>
<text x="505.6" y="384.14" font-size="6.5" text-anchor="end" fill="#000" font-weight="bold">0.00</text>
<line x1="506.4" y1="342.7" x2="510.6" y2="342.7" stroke="#000" stroke-width="1.2"/>
<text x="505.6" y="345.04" font-size="6.5" text-anchor="end" fill="#000" font-weight="bold">0.05</text>
<line x1="506.4" y1="303.6" x2="510.6" y2="303.6" stroke="#000" stroke-width="1.2"/>
<text x="505.6" y="305.94" font-size="6.5" text-anchor="end" fill="#000" font-weight="bold">0.10</text>
<line x1="506.4" y1="264.5" x2="510.6" y2="264.5" stroke="#000" stroke-width="1.2"/>
<text x="505.6" y="266.84" font-size="6.5" text-anchor="end" fill="#000" font-weight="bold">0.15</text>
<line x1="506.4" y1="225.4" x2="510.6" y2="225.4" stroke="#000" stroke-width="1.2"/>
<text x="505.6" y="227.74" font-size="6.5" text-anchor="end" fill="#000" font-weight="bold">0.20</text>
<line x1="537.3" y1="389.3" x2="537.3" y2="393.3" stroke="#000" stroke-width="1.2"/>
<line x1="582.5" y1="389.3" x2="582.5" y2="393.3" stroke="#000" stroke-width="1.2"/>
<line x1="537" y1="315.4" x2="537" y2="252.8" stroke="#888" stroke-width="1"/>
<line x1="537" y1="367.4" x2="537" y2="380.6" stroke="#888" stroke-width="1"/>
<rect x="525.5" y="315.4" width="22.8" height="52" fill="none" stroke="#888" stroke-width="1"/>
<line x1="525.5" y1="342.6" x2="548.3" y2="342.6" stroke="#555" stroke-width="1.5"/>
<line x1="582.5" y1="292.5" x2="582.5" y2="236.3" stroke="#888" stroke-width="1"/>
<line x1="582.5" y1="336.4" x2="582.5" y2="361.3" stroke="#888" stroke-width="1"/>
<rect x="571.4" y="292.5" width="22.5" height="43.9" fill="none" stroke="#888" stroke-width="1"/>
<line x1="571.4" y1="311.5" x2="593.9" y2="311.5" stroke="#555" stroke-width="1.5"/>
<circle cx="530.9" cy="252.8" r="2.3" fill="#98c5ce" opacity="0.85"/>
<circle cx="541.4" cy="271.3" r="2.3" fill="#678b91" opacity="0.85"/>
<circle cx="530.3" cy="308.7" r="2.3" fill="#98c5ce" opacity="0.85"/>
<circle cx="533" cy="310.8" r="2.3" fill="#addde5" opacity="0.85"/>
<circle cx="531.5" cy="315.3" r="2.3" fill="#83a8af" opacity="0.85"/>
<circle cx="536.3" cy="315.3" r="2.3" fill="#83a8af" opacity="0.85"/>
<circle cx="540.8" cy="315.3" r="2.3" fill="#83a8af" opacity="0.85"/>
<circle cx="545.3" cy="331.2" r="2.3" fill="#83a8af" opacity="0.85"/>
<circle cx="537.8" cy="335.7" r="2.3" fill="#98c5ce" opacity="0.85"/>
<circle cx="530" cy="345.6" r="2.3" fill="#83a8af" opacity="0.85"/>
<circle cx="538.4" cy="343.2" r="2.3" fill="#83a8af" opacity="0.85"/>
<circle cx="537.8" cy="362" r="2.3" fill="#83a8af" opacity="0.85"/>
<circle cx="545.3" cy="357.2" r="2.3" fill="#83a8af" opacity="0.85"/>
<circle cx="545.9" cy="368" r="2.3" fill="#addde5" opacity="0.85"/>
<circle cx="528.5" cy="374.6" r="2.3" fill="#83a8af" opacity="0.85"/>
<circle cx="534.8" cy="374.6" r="2.3" fill="#addde5" opacity="0.85"/>
<circle cx="542.3" cy="377.6" r="2.3" fill="#addde5" opacity="0.85"/>
<circle cx="540.8" cy="381.2" r="2.3" fill="#addde5" opacity="0.85"/>
<circle cx="536" cy="378.2" r="2.3" fill="#addde5" opacity="0.85"/>
<circle cx="582.7" cy="221.9" r="2.3" fill="#e29bb6" opacity="0.85"/>
<circle cx="578.8" cy="236.3" r="2.3" fill="#8e2a63" opacity="0.85"/>
<circle cx="586.6" cy="259.3" r="2.3" fill="#e29bb6" opacity="0.85"/>
<circle cx="574.3" cy="264.7" r="2.3" fill="#f5bacd" opacity="0.85"/>
<circle cx="591.4" cy="269.8" r="2.3" fill="#8e2a63" opacity="0.85"/>
<circle cx="573.7" cy="274.3" r="2.3" fill="#b05687" opacity="0.85"/>
<circle cx="576.7" cy="279.7" r="2.3" fill="#f5bacd" opacity="0.85"/>
<circle cx="590.8" cy="282.7" r="2.3" fill="#e29bb6" opacity="0.85"/>
<circle cx="581.2" cy="288.4" r="2.3" fill="#c97ba0" opacity="0.85"/>
<circle cx="591.7" cy="288.4" r="2.3" fill="#f5bacd" opacity="0.85"/>
<circle cx="583.3" cy="292.3" r="2.3" fill="#b05687" opacity="0.85"/>
<circle cx="585.4" cy="293.8" r="2.3" fill="#b05687" opacity="0.85"/>
<circle cx="578.2" cy="299.8" r="2.3" fill="#f5bacd" opacity="0.85"/>
<circle cx="575.2" cy="302.8" r="2.3" fill="#c97ba0" opacity="0.85"/>
<circle cx="586.3" cy="302.2" r="2.3" fill="#b05687" opacity="0.85"/>
<circle cx="580.3" cy="305.1" r="2.3" fill="#e29bb6" opacity="0.85"/>
<circle cx="577.9" cy="307.2" r="2.3" fill="#f5bacd" opacity="0.85"/>
<circle cx="581.8" cy="309.3" r="2.3" fill="#b05687" opacity="0.85"/>
<circle cx="587.8" cy="309.3" r="2.3" fill="#b05687" opacity="0.85"/>
<circle cx="574.3" cy="317.7" r="2.3" fill="#8e2a63" opacity="0.85"/>
<circle cx="584.2" cy="322.2" r="2.3" fill="#e29bb6" opacity="0.85"/>
<circle cx="581.8" cy="325.2" r="2.3" fill="#c97ba0" opacity="0.85"/>
<circle cx="589.3" cy="325.2" r="2.3" fill="#e29bb6" opacity="0.85"/>
<circle cx="574.3" cy="330.6" r="2.3" fill="#e29bb6" opacity="0.85"/>
<circle cx="578.8" cy="334.2" r="2.3" fill="#f5bacd" opacity="0.85"/>
<circle cx="582.4" cy="331.2" r="2.3" fill="#c97ba0" opacity="0.85"/>
<circle cx="587.8" cy="335.1" r="2.3" fill="#b05687" opacity="0.85"/>
<circle cx="573.4" cy="342.6" r="2.3" fill="#f5bacd" opacity="0.85"/>
<circle cx="581.2" cy="346.2" r="2.3" fill="#8e2a63" opacity="0.85"/>
<circle cx="587.2" cy="344.7" r="2.3" fill="#b05687" opacity="0.85"/>
<circle cx="590.2" cy="344.1" r="2.3" fill="#8e2a63" opacity="0.85"/>
<circle cx="576.4" cy="347.7" r="2.3" fill="#f5bacd" opacity="0.85"/>
<circle cx="584.8" cy="350.1" r="2.3" fill="#f5bacd" opacity="0.85"/>
<circle cx="576.4" cy="361.1" r="2.3" fill="#b05687" opacity="0.85"/>
<circle cx="587.2" cy="359.6" r="2.3" fill="#8e2a63" opacity="0.85"/>
<text transform="translate(479.4 300.8) rotate(-90)" font-size="7.6" text-anchor="middle" fill="#111" font-weight="bold">Mitochondrial area (μm^2) /</text>
<text transform="translate(487.6 301.6) rotate(-90)" font-size="7.6" text-anchor="middle" fill="#111" font-weight="bold">Cytoplasm area (μm^2)</text>
<text transform="translate(540.08 394.6) rotate(-90)" font-size="6.9" text-anchor="end" fill="#000" font-weight="bold">Vehicle</text>
<text transform="translate(585.28 394.6) rotate(-90)" font-size="6.9" text-anchor="end" fill="#000" font-weight="bold">Metformin</text>
<g opacity="0.75">
<rect x="613.5" y="247.3" width="13" height="6.4" fill="none" stroke="#addde5" stroke-width="0.9"/>
<line x1="613.5" y1="250.5" x2="626.5" y2="250.5" stroke="#addde5" stroke-width="0.9"/>
<line x1="620" y1="246" x2="620" y2="255" stroke="#addde5" stroke-width="0.9"/>
</g>
<circle cx="620" cy="250.5" r="2.6" fill="#addde5"/>
<text x="631.6" y="253.3" font-size="7.65" text-anchor="start" fill="#333">ctrl_chimera_1</text>
<g opacity="0.75">
<rect x="613.5" y="258.99" width="13" height="6.4" fill="none" stroke="#98c5ce" stroke-width="0.9"/>
<line x1="613.5" y1="262.19" x2="626.5" y2="262.19" stroke="#98c5ce" stroke-width="0.9"/>
<line x1="620" y1="257.69" x2="620" y2="266.69" stroke="#98c5ce" stroke-width="0.9"/>
</g>
<circle cx="620" cy="262.19" r="2.6" fill="#98c5ce"/>
<text x="631.6" y="264.99" font-size="7.65" text-anchor="start" fill="#333">ctrl_chimera_2</text>
<g opacity="0.75">
<rect x="613.5" y="270.68" width="13" height="6.4" fill="none" stroke="#83a8af" stroke-width="0.9"/>
<line x1="613.5" y1="273.88" x2="626.5" y2="273.88" stroke="#83a8af" stroke-width="0.9"/>
<line x1="620" y1="269.38" x2="620" y2="278.38" stroke="#83a8af" stroke-width="0.9"/>
</g>
<circle cx="620" cy="273.88" r="2.6" fill="#83a8af"/>
<text x="631.6" y="276.68" font-size="7.65" text-anchor="start" fill="#333">ctrl_chimera_3</text>
<g opacity="0.75">
<rect x="613.5" y="282.37" width="13" height="6.4" fill="none" stroke="#678b91" stroke-width="0.9"/>
<line x1="613.5" y1="285.57" x2="626.5" y2="285.57" stroke="#678b91" stroke-width="0.9"/>
<line x1="620" y1="281.07" x2="620" y2="290.07" stroke="#678b91" stroke-width="0.9"/>
</g>
<circle cx="620" cy="285.57" r="2.6" fill="#678b91"/>
<text x="631.6" y="288.37" font-size="7.65" text-anchor="start" fill="#333">ctrl_chimera_4</text>
<g opacity="0.75">
<rect x="613.5" y="294.06" width="13" height="6.4" fill="none" stroke="#f5bacd" stroke-width="0.9"/>
<line x1="613.5" y1="297.26" x2="626.5" y2="297.26" stroke="#f5bacd" stroke-width="0.9"/>
<line x1="620" y1="292.76" x2="620" y2="301.76" stroke="#f5bacd" stroke-width="0.9"/>
</g>
<circle cx="620" cy="297.26" r="2.6" fill="#f5bacd"/>
<text x="631.6" y="300.06" font-size="7.65" text-anchor="start" fill="#333">met_chimera_1</text>
<g opacity="0.75">
<rect x="613.5" y="305.75" width="13" height="6.4" fill="none" stroke="#e29bb6" stroke-width="0.9"/>
<line x1="613.5" y1="308.95" x2="626.5" y2="308.95" stroke="#e29bb6" stroke-width="0.9"/>
<line x1="620" y1="304.45" x2="620" y2="313.45" stroke="#e29bb6" stroke-width="0.9"/>
</g>
<circle cx="620" cy="308.95" r="2.6" fill="#e29bb6"/>
<text x="631.6" y="311.75" font-size="7.65" text-anchor="start" fill="#333">met_chimera_2</text>
<g opacity="0.75">
<rect x="613.5" y="317.44" width="13" height="6.4" fill="none" stroke="#c97ba0" stroke-width="0.9"/>
<line x1="613.5" y1="320.64" x2="626.5" y2="320.64" stroke="#c97ba0" stroke-width="0.9"/>
<line x1="620" y1="316.14" x2="620" y2="325.14" stroke="#c97ba0" stroke-width="0.9"/>
</g>
<circle cx="620" cy="320.64" r="2.6" fill="#c97ba0"/>
<text x="631.6" y="323.44" font-size="7.65" text-anchor="start" fill="#333">met_chimera_3</text>
<g opacity="0.75">
<rect x="613.5" y="329.13" width="13" height="6.4" fill="none" stroke="#b05687" stroke-width="0.9"/>
<line x1="613.5" y1="332.33" x2="626.5" y2="332.33" stroke="#b05687" stroke-width="0.9"/>
<line x1="620" y1="327.83" x2="620" y2="336.83" stroke="#b05687" stroke-width="0.9"/>
</g>
<circle cx="620" cy="332.33" r="2.6" fill="#b05687"/>
<text x="631.6" y="335.13" font-size="7.65" text-anchor="start" fill="#333">met_chimera_4</text>
<g opacity="0.75">
<rect x="613.5" y="340.82" width="13" height="6.4" fill="none" stroke="#8e2a63" stroke-width="0.9"/>
<line x1="613.5" y1="344.02" x2="626.5" y2="344.02" stroke="#8e2a63" stroke-width="0.9"/>
<line x1="620" y1="339.52" x2="620" y2="348.52" stroke="#8e2a63" stroke-width="0.9"/>
</g>
<circle cx="620" cy="344.02" r="2.6" fill="#8e2a63"/>
<text x="631.6" y="346.82" font-size="7.65" text-anchor="start" fill="#333">met_chimera_5</text>
<rect x="133.7" y="461.2" width="77.7" height="186.1" fill="#fff" stroke="none" stroke-width="1"/>
<line x1="133.7" y1="474.5" x2="211.4" y2="474.5" stroke="#ebebeb" stroke-width="0.8"/>
<line x1="133.7" y1="497.2" x2="211.4" y2="497.2" stroke="#ebebeb" stroke-width="0.8"/>
<line x1="133.7" y1="520" x2="211.4" y2="520" stroke="#ebebeb" stroke-width="0.8"/>
<line x1="133.7" y1="542.8" x2="211.4" y2="542.8" stroke="#ebebeb" stroke-width="0.8"/>
<line x1="133.7" y1="565.5" x2="211.4" y2="565.5" stroke="#ebebeb" stroke-width="0.8"/>
<line x1="133.7" y1="588.2" x2="211.4" y2="588.2" stroke="#ebebeb" stroke-width="0.8"/>
<line x1="133.7" y1="611" x2="211.4" y2="611" stroke="#ebebeb" stroke-width="0.8"/>
<line x1="133.7" y1="633.6" x2="211.4" y2="633.6" stroke="#ebebeb" stroke-width="0.8"/>
<line x1="154.6" y1="461.2" x2="154.6" y2="647.3" stroke="#ebebeb" stroke-width="0.8"/>
<line x1="190.3" y1="461.2" x2="190.3" y2="647.3" stroke="#ebebeb" stroke-width="0.8"/>
<rect x="133.7" y="461.2" width="77.7" height="186.1" fill="none" stroke="#333" stroke-width="0.7"/>
<line x1="130.9" y1="474.5" x2="133.7" y2="474.5" stroke="#333" stroke-width="0.9"/>
<text x="128.2" y="477" font-size="7.15" text-anchor="end" fill="#1a1a1a">receptor antagonist activity</text>
<line x1="130.9" y1="497.2" x2="133.7" y2="497.2" stroke="#333" stroke-width="0.9"/>
<text x="128.2" y="495.9" font-size="7.15" text-anchor="end" fill="#1a1a1a">signaling receptor inhibitor</text>
<text x="128.2" y="503.5" font-size="7.15" text-anchor="end" fill="#1a1a1a">activity</text>
<line x1="130.9" y1="520" x2="133.7" y2="520" stroke="#333" stroke-width="0.9"/>
<text x="128.2" y="522.5" font-size="7.15" text-anchor="end" fill="#1a1a1a">WW domain binding</text>
<line x1="130.9" y1="542.8" x2="133.7" y2="542.8" stroke="#333" stroke-width="0.9"/>
<text x="128.2" y="545.3" font-size="7.15" text-anchor="end" fill="#1a1a1a">unfolded protein binding</text>
<line x1="130.9" y1="565.5" x2="133.7" y2="565.5" stroke="#333" stroke-width="0.9"/>
<text x="128.2" y="568" font-size="7.15" text-anchor="end" fill="#1a1a1a">protein folding chaperone</text>
<line x1="130.9" y1="588.2" x2="133.7" y2="588.2" stroke="#333" stroke-width="0.9"/>
<text x="128.2" y="586.9" font-size="7.15" text-anchor="end" fill="#1a1a1a">ATP-dependent protein</text>
<text x="128.2" y="594.5" font-size="7.15" text-anchor="end" fill="#1a1a1a">folding chaperone</text>
<line x1="130.9" y1="611" x2="133.7" y2="611" stroke="#333" stroke-width="0.9"/>
<text x="128.2" y="609.7" font-size="7.15" text-anchor="end" fill="#1a1a1a">proton transmembrane</text>
<text x="128.2" y="617.3" font-size="7.15" text-anchor="end" fill="#1a1a1a">transporter activity</text>
<line x1="130.9" y1="633.6" x2="133.7" y2="633.6" stroke="#333" stroke-width="0.9"/>
<text x="128.2" y="628.5" font-size="7.15" text-anchor="end" fill="#1a1a1a">ATPase-coupled ion</text>
<text x="128.2" y="636.1" font-size="7.15" text-anchor="end" fill="#1a1a1a">transmembrane transporter</text>
<text x="128.2" y="643.7" font-size="7.15" text-anchor="end" fill="#1a1a1a">activity</text>
<line x1="154.6" y1="647.3" x2="154.6" y2="650.1" stroke="#333" stroke-width="0.9"/>
<line x1="190.3" y1="647.3" x2="190.3" y2="650.1" stroke="#333" stroke-width="0.9"/>
<circle cx="154.6" cy="474.5" r="8.9" fill="#fe1f13"/>
<circle cx="154.6" cy="497.2" r="8.3" fill="#fe1f13"/>
<circle cx="154.6" cy="520" r="7.2" fill="#e5234e"/>
<circle cx="190.3" cy="542.8" r="9.4" fill="#fe1f13"/>
<circle cx="190.3" cy="565.5" r="6.7" fill="#fe2018"/>
<circle cx="190.3" cy="588.2" r="6.5" fill="#fd2119"/>
<circle cx="190.3" cy="611" r="6.8" fill="#1f0ff7"/>
<circle cx="190.3" cy="633.6" r="3.8" fill="#1a0ff5"/>
<text transform="translate(159.9 676.7) rotate(-90)" font-size="7.05" text-anchor="middle" fill="#1a1a1a">downregulated</text>
<text transform="translate(167.6 676.5) rotate(-90)" font-size="7.05" text-anchor="middle" fill="#1a1a1a">(54)</text>
<text transform="translate(195.8 676.8) rotate(-90)" font-size="7.05" text-anchor="middle" fill="#1a1a1a">upregulated</text>
<text transform="translate(203.3 676.4) rotate(-90)" font-size="7.05" text-anchor="middle" fill="#1a1a1a">(132)</text>
<text x="221.6" y="473.3" font-size="7.2" text-anchor="start" fill="#1a1a1a">p.adjust</text>
<defs><linearGradient id="padj" x1="0" y1="0" x2="0" y2="1"><stop offset="0" stop-color="#2a1cff"/><stop offset="0.3" stop-color="#9f1df0"/><stop offset="0.65" stop-color="#d41e7a"/><stop offset="1" stop-color="#ff1f16"/></linearGradient></defs>
<rect x="223.2" y="477.2" width="11.2" height="53" fill="url(#padj)" stroke="none" stroke-width="1"/>
<line x1="223.2" y1="494" x2="225.4" y2="494" stroke="#fff" stroke-width="0.6" opacity="0.8"/>
<line x1="232.2" y1="494" x2="234.4" y2="494" stroke="#fff" stroke-width="0.6" opacity="0.8"/>
<text x="238" y="496" font-size="5.6" text-anchor="start" fill="#1a1a1a">0.02</text>
<line x1="223.2" y1="511.9" x2="225.4" y2="511.9" stroke="#fff" stroke-width="0.6" opacity="0.8"/>
<line x1="232.2" y1="511.9" x2="234.4" y2="511.9" stroke="#fff" stroke-width="0.6" opacity="0.8"/>
<text x="238" y="513.9" font-size="5.6" text-anchor="start" fill="#1a1a1a">0.01</text>
<text x="223.4" y="550" font-size="10.5" text-anchor="start" fill="#1a1a1a">GeneRatio</text>
<circle cx="233.6" cy="564" r="6" fill="#000"/>
<text x="249.8" y="567" font-size="8.1" text-anchor="start" fill="#1a1a1a">0.04</text>
<circle cx="233.6" cy="580.7" r="7.1" fill="#000"/>
<text x="249.8" y="583.7" font-size="8.1" text-anchor="start" fill="#1a1a1a">0.06</text>
<circle cx="233.6" cy="598.3" r="8" fill="#000"/>
<text x="249.8" y="601.3" font-size="8.1" text-anchor="start" fill="#1a1a1a">0.08</text>
<circle cx="233.6" cy="617.7" r="8.9" fill="#000"/>
<text x="249.8" y="620.7" font-size="8.1" text-anchor="start" fill="#1a1a1a">0.10</text>
<circle cx="461.69" cy="613.89" r="2.85" fill="#7b7b7b"/>
<circle cx="462.01" cy="636.31" r="2.85" fill="#7b7b7b"/>
<circle cx="463.02" cy="641.35" r="2.85" fill="#7b7b7b"/>
<circle cx="463.12" cy="645.06" r="2.85" fill="#7b7b7b"/>
<circle cx="465.96" cy="648.82" r="2.85" fill="#7b7b7b"/>
<circle cx="458.11" cy="643.39" r="2.85" fill="#7b7b7b"/>
<circle cx="452.99" cy="644.98" r="2.85" fill="#7b7b7b"/>
<circle cx="451.81" cy="635.86" r="2.85" fill="#7b7b7b"/>
<circle cx="474.44" cy="626.01" r="2.85" fill="#7b7b7b"/>
<circle cx="465.62" cy="645.3" r="2.85" fill="#7b7b7b"/>
<circle cx="454.6" cy="638.07" r="2.85" fill="#7b7b7b"/>
<circle cx="452.24" cy="649.69" r="2.85" fill="#7b7b7b"/>
<circle cx="455.38" cy="650.68" r="2.85" fill="#7b7b7b"/>
<circle cx="461.97" cy="646.58" r="2.85" fill="#7b7b7b"/>
<circle cx="461.41" cy="639.27" r="2.85" fill="#7b7b7b"/>
<circle cx="466.21" cy="633.18" r="2.85" fill="#7b7b7b"/>
<circle cx="462.83" cy="640.78" r="2.85" fill="#7b7b7b"/>
<circle cx="457.5" cy="634.39" r="2.85" fill="#7b7b7b"/>
<circle cx="474.81" cy="617.37" r="2.85" fill="#7b7b7b"/>
<circle cx="467.84" cy="649.99" r="2.85" fill="#7b7b7b"/>
<circle cx="458.39" cy="649.06" r="2.85" fill="#7b7b7b"/>
<circle cx="452.5" cy="642.29" r="2.85" fill="#7b7b7b"/>
<circle cx="469.24" cy="623.41" r="2.85" fill="#7b7b7b"/>
<circle cx="460.11" cy="631.04" r="2.85" fill="#7b7b7b"/>
<circle cx="473.86" cy="650.57" r="2.85" fill="#7b7b7b"/>
<circle cx="455.85" cy="650.43" r="2.85" fill="#7b7b7b"/>
<circle cx="472.71" cy="602.67" r="2.85" fill="#7b7b7b"/>
<circle cx="460.37" cy="641.7" r="2.85" fill="#7b7b7b"/>
<circle cx="452.56" cy="638.36" r="2.85" fill="#7b7b7b"/>
<circle cx="457.3" cy="628.8" r="2.85" fill="#7b7b7b"/>
<circle cx="452.9" cy="637.46" r="2.85" fill="#7b7b7b"/>
<circle cx="469.04" cy="611.67" r="2.85" fill="#7b7b7b"/>
<circle cx="453.64" cy="650.79" r="2.85" fill="#7b7b7b"/>
<circle cx="452.25" cy="646.05" r="2.85" fill="#7b7b7b"/>
<circle cx="469.98" cy="641.06" r="2.85" fill="#7b7b7b"/>
<circle cx="461.57" cy="630.75" r="2.85" fill="#7b7b7b"/>
<circle cx="455.39" cy="649.85" r="2.85" fill="#7b7b7b"/>
<circle cx="466.29" cy="641.68" r="2.85" fill="#7b7b7b"/>
<circle cx="453.61" cy="644.51" r="2.85" fill="#7b7b7b"/>
<circle cx="457.3" cy="645.11" r="2.85" fill="#7b7b7b"/>
<circle cx="474.17" cy="645.99" r="2.85" fill="#7b7b7b"/>
<circle cx="472.1" cy="636.82" r="2.85" fill="#7b7b7b"/>
<circle cx="455.88" cy="623.83" r="2.85" fill="#7b7b7b"/>
<circle cx="466.25" cy="629.7" r="2.85" fill="#7b7b7b"/>
<circle cx="453.22" cy="643.64" r="2.85" fill="#7b7b7b"/>
<circle cx="457.02" cy="650.09" r="2.85" fill="#7b7b7b"/>
<circle cx="469.4" cy="643.91" r="2.85" fill="#7b7b7b"/>
<circle cx="452.57" cy="643.15" r="2.85" fill="#7b7b7b"/>
<circle cx="452.97" cy="644.09" r="2.85" fill="#7b7b7b"/>
<circle cx="465.27" cy="644.41" r="2.85" fill="#7b7b7b"/>
<circle cx="459.75" cy="608.51" r="2.85" fill="#7b7b7b"/>
<circle cx="462.44" cy="638.07" r="2.85" fill="#7b7b7b"/>
<circle cx="464.63" cy="643.46" r="2.85" fill="#7b7b7b"/>
<circle cx="454.51" cy="645.93" r="2.85" fill="#7b7b7b"/>
<circle cx="472.66" cy="645.42" r="2.85" fill="#7b7b7b"/>
<circle cx="455.37" cy="638.82" r="2.85" fill="#7b7b7b"/>
<circle cx="468.6" cy="640.11" r="2.85" fill="#7b7b7b"/>
<circle cx="473.67" cy="646.66" r="2.85" fill="#7b7b7b"/>
<circle cx="472.03" cy="636.32" r="2.85" fill="#7b7b7b"/>
<circle cx="453.3" cy="644.24" r="2.85" fill="#7b7b7b"/>
<circle cx="451.74" cy="643.36" r="2.85" fill="#7b7b7b"/>
<circle cx="467.76" cy="647.9" r="2.85" fill="#7b7b7b"/>
<circle cx="456.99" cy="640.36" r="2.85" fill="#7b7b7b"/>
<circle cx="457.87" cy="629.79" r="2.85" fill="#7b7b7b"/>
<circle cx="455.03" cy="649.68" r="2.85" fill="#7b7b7b"/>
<circle cx="456.3" cy="644.4" r="2.85" fill="#7b7b7b"/>
<circle cx="464.26" cy="636.4" r="2.85" fill="#7b7b7b"/>
<circle cx="457.55" cy="631.56" r="2.85" fill="#7b7b7b"/>
<circle cx="472.88" cy="649.99" r="2.85" fill="#7b7b7b"/>
<circle cx="457.28" cy="647.83" r="2.85" fill="#7b7b7b"/>
<circle cx="461.53" cy="640.77" r="2.85" fill="#7b7b7b"/>
<circle cx="459.68" cy="646.86" r="2.85" fill="#7b7b7b"/>
<circle cx="464.57" cy="639.65" r="2.85" fill="#7b7b7b"/>
<circle cx="472.24" cy="638.68" r="2.85" fill="#7b7b7b"/>
<circle cx="474.4" cy="636.08" r="2.85" fill="#7b7b7b"/>
<circle cx="464.87" cy="628.51" r="2.85" fill="#7b7b7b"/>
<circle cx="454.18" cy="648.95" r="2.85" fill="#7b7b7b"/>
<circle cx="472.71" cy="650.17" r="2.85" fill="#7b7b7b"/>
<circle cx="467.67" cy="647.37" r="2.85" fill="#7b7b7b"/>
<circle cx="466.11" cy="650.06" r="2.85" fill="#7b7b7b"/>
<circle cx="462.41" cy="649.02" r="2.85" fill="#7b7b7b"/>
<circle cx="474.85" cy="635.67" r="2.85" fill="#7b7b7b"/>
<circle cx="452.62" cy="634.44" r="2.85" fill="#7b7b7b"/>
<circle cx="472.46" cy="642.72" r="2.85" fill="#7b7b7b"/>
<circle cx="468.54" cy="641.98" r="2.85" fill="#7b7b7b"/>
<circle cx="472.82" cy="621.11" r="2.85" fill="#7b7b7b"/>
<circle cx="459.27" cy="635.98" r="2.85" fill="#7b7b7b"/>
<circle cx="471.76" cy="616.33" r="2.85" fill="#7b7b7b"/>
<circle cx="460.84" cy="642.09" r="2.85" fill="#7b7b7b"/>
<circle cx="464.59" cy="617.08" r="2.85" fill="#7b7b7b"/>
<circle cx="465.84" cy="633.79" r="2.85" fill="#7b7b7b"/>
<circle cx="465.46" cy="635.3" r="2.85" fill="#7b7b7b"/>
<circle cx="452.74" cy="629.6" r="2.85" fill="#7b7b7b"/>
<circle cx="471.97" cy="608.32" r="2.85" fill="#7b7b7b"/>
<circle cx="468.33" cy="629.09" r="2.85" fill="#7b7b7b"/>
<circle cx="464.78" cy="632.49" r="2.85" fill="#7b7b7b"/>
<circle cx="461.4" cy="647.04" r="2.85" fill="#7b7b7b"/>
<circle cx="468.86" cy="644.67" r="2.85" fill="#7b7b7b"/>
<circle cx="451.52" cy="641.22" r="2.85" fill="#7b7b7b"/>
<circle cx="456.35" cy="638.98" r="2.85" fill="#7b7b7b"/>
<circle cx="467.61" cy="626.72" r="2.85" fill="#7b7b7b"/>
<circle cx="472.95" cy="650.48" r="2.85" fill="#7b7b7b"/>
<circle cx="456.96" cy="636.11" r="2.85" fill="#7b7b7b"/>
<circle cx="467.12" cy="649.85" r="2.85" fill="#7b7b7b"/>
<circle cx="455.68" cy="632.48" r="2.85" fill="#7b7b7b"/>
<circle cx="466.69" cy="617.59" r="2.85" fill="#7b7b7b"/>
<circle cx="461.44" cy="638.78" r="2.85" fill="#7b7b7b"/>
<circle cx="466.83" cy="641.1" r="2.85" fill="#7b7b7b"/>
<circle cx="455.58" cy="622.13" r="2.85" fill="#7b7b7b"/>
<circle cx="472.8" cy="637.56" r="2.85" fill="#7b7b7b"/>
<circle cx="471.99" cy="633.58" r="2.85" fill="#7b7b7b"/>
<circle cx="458.42" cy="635.52" r="2.85" fill="#7b7b7b"/>
<circle cx="454.08" cy="630.89" r="2.85" fill="#7b7b7b"/>
<circle cx="471.23" cy="650.16" r="2.85" fill="#7b7b7b"/>
<circle cx="467.92" cy="637.49" r="2.85" fill="#7b7b7b"/>
<circle cx="454.88" cy="646.54" r="2.85" fill="#7b7b7b"/>
<circle cx="461.65" cy="648.99" r="2.85" fill="#7b7b7b"/>
<circle cx="460.77" cy="638.89" r="2.85" fill="#7b7b7b"/>
<circle cx="465.86" cy="635.67" r="2.85" fill="#7b7b7b"/>
<circle cx="471" cy="650.31" r="2.85" fill="#7b7b7b"/>
<circle cx="474.43" cy="644.3" r="2.85" fill="#7b7b7b"/>
<circle cx="451.56" cy="649.68" r="2.85" fill="#7b7b7b"/>
<circle cx="471.81" cy="624.32" r="2.85" fill="#7b7b7b"/>
<circle cx="464.53" cy="643.81" r="2.85" fill="#7b7b7b"/>
<circle cx="458.24" cy="650.01" r="2.85" fill="#7b7b7b"/>
<circle cx="454.08" cy="648.91" r="2.85" fill="#7b7b7b"/>
<circle cx="461.75" cy="618.34" r="2.85" fill="#7b7b7b"/>
<circle cx="456.52" cy="645.8" r="2.85" fill="#7b7b7b"/>
<circle cx="454.2" cy="636.74" r="2.85" fill="#7b7b7b"/>
<circle cx="461.55" cy="643.73" r="2.85" fill="#7b7b7b"/>
<circle cx="465.96" cy="633.04" r="2.85" fill="#7b7b7b"/>
<circle cx="473.87" cy="624.6" r="2.85" fill="#7b7b7b"/>
<circle cx="467.27" cy="644.68" r="2.85" fill="#7b7b7b"/>
<circle cx="455.11" cy="632.01" r="2.85" fill="#7b7b7b"/>
<circle cx="451.07" cy="634.52" r="2.85" fill="#7b7b7b"/>
<circle cx="455.12" cy="646.08" r="2.85" fill="#7b7b7b"/>
<circle cx="457.36" cy="635.58" r="2.85" fill="#7b7b7b"/>
<circle cx="463.33" cy="628.58" r="2.85" fill="#7b7b7b"/>
<circle cx="465.59" cy="650.22" r="2.85" fill="#7b7b7b"/>
<circle cx="469.86" cy="633.4" r="2.85" fill="#7b7b7b"/>
<circle cx="525.32" cy="605.43" r="2.85" fill="#7b7b7b"/>
<circle cx="520.45" cy="623.15" r="2.85" fill="#7b7b7b"/>
<circle cx="504.77" cy="620.11" r="2.85" fill="#7b7b7b"/>
<circle cx="525.42" cy="641.65" r="2.85" fill="#7b7b7b"/>
<circle cx="511.3" cy="608.07" r="2.85" fill="#7b7b7b"/>
<circle cx="522.42" cy="631.14" r="2.85" fill="#7b7b7b"/>
<circle cx="526.32" cy="618.47" r="2.85" fill="#7b7b7b"/>
<circle cx="506.75" cy="643.37" r="2.85" fill="#7b7b7b"/>
<circle cx="520.44" cy="637.22" r="2.85" fill="#7b7b7b"/>
<circle cx="520.33" cy="621.03" r="2.85" fill="#7b7b7b"/>
<circle cx="506.98" cy="598.84" r="2.85" fill="#7b7b7b"/>
<circle cx="527.2" cy="613.07" r="2.85" fill="#7b7b7b"/>
<circle cx="515.54" cy="645.79" r="2.85" fill="#7b7b7b"/>
<circle cx="525.42" cy="631.4" r="2.85" fill="#7b7b7b"/>
<circle cx="523.98" cy="645.37" r="2.85" fill="#7b7b7b"/>
<circle cx="513" cy="643.13" r="2.85" fill="#7b7b7b"/>
<circle cx="515.9" cy="647.87" r="2.85" fill="#7b7b7b"/>
<circle cx="502.08" cy="624.56" r="2.85" fill="#7b7b7b"/>
<circle cx="522.75" cy="613.05" r="2.85" fill="#7b7b7b"/>
<circle cx="505.91" cy="634.79" r="2.85" fill="#7b7b7b"/>
<circle cx="510.2" cy="647.92" r="2.85" fill="#7b7b7b"/>
<circle cx="505.27" cy="638.64" r="2.85" fill="#7b7b7b"/>
<circle cx="515" cy="643.64" r="2.85" fill="#7b7b7b"/>
<circle cx="519.58" cy="607.6" r="2.85" fill="#7b7b7b"/>
<circle cx="526.36" cy="594.98" r="2.85" fill="#7b7b7b"/>
<circle cx="503.61" cy="648.29" r="2.85" fill="#7b7b7b"/>
<circle cx="507.19" cy="632.18" r="2.85" fill="#7b7b7b"/>
<circle cx="520.62" cy="647.73" r="2.85" fill="#7b7b7b"/>
<circle cx="518.24" cy="607.17" r="2.85" fill="#7b7b7b"/>
<circle cx="516.15" cy="644.6" r="2.85" fill="#7b7b7b"/>
<circle cx="509.58" cy="618.37" r="2.85" fill="#7b7b7b"/>
<circle cx="525.17" cy="620.82" r="2.85" fill="#7b7b7b"/>
<circle cx="506.84" cy="615.22" r="2.85" fill="#7b7b7b"/>
<circle cx="515.21" cy="602.29" r="2.85" fill="#7b7b7b"/>
<circle cx="516.5" cy="642.28" r="2.85" fill="#7b7b7b"/>
<circle cx="514.65" cy="623.82" r="2.85" fill="#7b7b7b"/>
<circle cx="517.35" cy="592.52" r="2.85" fill="#7b7b7b"/>
<circle cx="514.99" cy="640.39" r="2.85" fill="#7b7b7b"/>
<circle cx="511.93" cy="641.59" r="2.85" fill="#7b7b7b"/>
<circle cx="514.33" cy="622.9" r="2.85" fill="#7b7b7b"/>
<circle cx="519.62" cy="624.78" r="2.85" fill="#7b7b7b"/>
<circle cx="512.28" cy="639.42" r="2.85" fill="#7b7b7b"/>
<circle cx="526.66" cy="634.8" r="2.85" fill="#7b7b7b"/>
<circle cx="513.85" cy="642.49" r="2.85" fill="#7b7b7b"/>
<circle cx="504.69" cy="612.33" r="2.85" fill="#7b7b7b"/>
<circle cx="525.17" cy="633.83" r="2.85" fill="#7b7b7b"/>
<circle cx="513.94" cy="644.77" r="2.85" fill="#7b7b7b"/>
<circle cx="517.69" cy="637.26" r="2.85" fill="#7b7b7b"/>
<circle cx="525.82" cy="623.51" r="2.85" fill="#7b7b7b"/>
<circle cx="501.94" cy="621.93" r="2.85" fill="#7b7b7b"/>
<circle cx="506.47" cy="645.92" r="2.85" fill="#7b7b7b"/>
<circle cx="509.86" cy="616.3" r="2.85" fill="#7b7b7b"/>
<circle cx="510.74" cy="643.02" r="2.85" fill="#7b7b7b"/>
<circle cx="520.68" cy="643.52" r="2.85" fill="#7b7b7b"/>
<circle cx="504.58" cy="633.52" r="2.85" fill="#7b7b7b"/>
<circle cx="506.57" cy="649.76" r="2.85" fill="#7b7b7b"/>
<circle cx="515.37" cy="630.37" r="2.85" fill="#7b7b7b"/>
<circle cx="512.27" cy="642.29" r="2.85" fill="#7b7b7b"/>
<circle cx="515.34" cy="642.57" r="2.85" fill="#7b7b7b"/>
<circle cx="518.04" cy="637.82" r="2.85" fill="#7b7b7b"/>
<circle cx="518.23" cy="606.9" r="2.85" fill="#7b7b7b"/>
<circle cx="517.52" cy="642.62" r="2.85" fill="#7b7b7b"/>
<circle cx="524.01" cy="646.8" r="2.85" fill="#7b7b7b"/>
<circle cx="522.78" cy="613.44" r="2.85" fill="#7b7b7b"/>
<circle cx="525.22" cy="642.88" r="2.85" fill="#7b7b7b"/>
<circle cx="525.75" cy="632.63" r="2.85" fill="#7b7b7b"/>
<circle cx="507.11" cy="602.96" r="2.85" fill="#7b7b7b"/>
<circle cx="504.88" cy="650.4" r="2.85" fill="#7b7b7b"/>
<circle cx="507.67" cy="648.29" r="2.85" fill="#7b7b7b"/>
<circle cx="503.9" cy="633.31" r="2.85" fill="#7b7b7b"/>
<circle cx="523.36" cy="615.2" r="2.85" fill="#7b7b7b"/>
<circle cx="504.67" cy="631.75" r="2.85" fill="#7b7b7b"/>
<circle cx="511.99" cy="649.18" r="2.85" fill="#7b7b7b"/>
<circle cx="506.65" cy="646.91" r="2.85" fill="#7b7b7b"/>
<circle cx="519.39" cy="599.73" r="2.85" fill="#7b7b7b"/>
<circle cx="504.39" cy="619.04" r="2.85" fill="#7b7b7b"/>
<circle cx="514.72" cy="649.51" r="2.85" fill="#7b7b7b"/>
<circle cx="519.48" cy="623.82" r="2.85" fill="#7b7b7b"/>
<circle cx="506.33" cy="641.08" r="2.85" fill="#7b7b7b"/>
<circle cx="502.32" cy="646.24" r="2.85" fill="#7b7b7b"/>
<circle cx="515.93" cy="621.28" r="2.85" fill="#7b7b7b"/>
<circle cx="505.21" cy="648.13" r="2.85" fill="#7b7b7b"/>
<circle cx="506.22" cy="638.36" r="2.85" fill="#7b7b7b"/>
<circle cx="527.54" cy="608.8" r="2.85" fill="#7b7b7b"/>
<circle cx="525.86" cy="644.12" r="2.85" fill="#7b7b7b"/>
<circle cx="526.51" cy="646.28" r="2.85" fill="#7b7b7b"/>
<circle cx="513.56" cy="649.02" r="2.85" fill="#7b7b7b"/>
<circle cx="513.69" cy="630.58" r="2.85" fill="#7b7b7b"/>
<circle cx="514.97" cy="622.76" r="2.85" fill="#7b7b7b"/>
<circle cx="501.68" cy="637.68" r="2.85" fill="#7b7b7b"/>
<circle cx="519.89" cy="642.8" r="2.85" fill="#7b7b7b"/>
<circle cx="513.35" cy="638.87" r="2.85" fill="#7b7b7b"/>
<circle cx="520.9" cy="638.39" r="2.85" fill="#7b7b7b"/>
<circle cx="505.7" cy="642.43" r="2.85" fill="#7b7b7b"/>
<circle cx="514.9" cy="602.62" r="2.85" fill="#7b7b7b"/>
<circle cx="522.55" cy="646.21" r="2.85" fill="#7b7b7b"/>
<circle cx="519.98" cy="630.19" r="2.85" fill="#7b7b7b"/>
<circle cx="512.04" cy="626.1" r="2.85" fill="#7b7b7b"/>
<circle cx="517.2" cy="592.52" r="2.85" fill="#7b7b7b"/>
<circle cx="522.63" cy="649.14" r="2.85" fill="#7b7b7b"/>
<circle cx="508.17" cy="618.75" r="2.85" fill="#7b7b7b"/>
<circle cx="521.92" cy="630.86" r="2.85" fill="#7b7b7b"/>
<circle cx="522.89" cy="610.38" r="2.85" fill="#7b7b7b"/>
<circle cx="524.62" cy="623.6" r="2.85" fill="#7b7b7b"/>
<circle cx="519.72" cy="646.67" r="2.85" fill="#7b7b7b"/>
<circle cx="512.07" cy="612.08" r="2.85" fill="#7b7b7b"/>
<circle cx="520.46" cy="631.95" r="2.85" fill="#7b7b7b"/>
<circle cx="513.74" cy="641.9" r="2.85" fill="#7b7b7b"/>
<circle cx="501.61" cy="630.74" r="2.85" fill="#7b7b7b"/>
<circle cx="517.85" cy="625.12" r="2.85" fill="#7b7b7b"/>
<circle cx="507.47" cy="618.96" r="2.85" fill="#7b7b7b"/>
<circle cx="510.27" cy="639.33" r="2.85" fill="#7b7b7b"/>
<circle cx="518.79" cy="625.26" r="2.85" fill="#7b7b7b"/>
<circle cx="511.64" cy="638.92" r="2.85" fill="#7b7b7b"/>
<circle cx="527.8" cy="628.57" r="2.85" fill="#7b7b7b"/>
<circle cx="521.49" cy="623.11" r="2.85" fill="#7b7b7b"/>
<circle cx="527.27" cy="619.52" r="2.85" fill="#7b7b7b"/>
<circle cx="520.88" cy="646.37" r="2.85" fill="#7b7b7b"/>
<circle cx="508.12" cy="644.89" r="2.85" fill="#7b7b7b"/>
<circle cx="506.5" cy="646.62" r="2.85" fill="#7b7b7b"/>
<circle cx="511.27" cy="636.7" r="2.85" fill="#7b7b7b"/>
<circle cx="525.3" cy="640.79" r="2.85" fill="#7b7b7b"/>
<circle cx="515.89" cy="592.52" r="2.85" fill="#7b7b7b"/>
<circle cx="516.36" cy="647.96" r="2.85" fill="#7b7b7b"/>
<circle cx="527.67" cy="623.88" r="2.85" fill="#7b7b7b"/>
<circle cx="503.35" cy="619.05" r="2.85" fill="#7b7b7b"/>
<circle cx="517.15" cy="650.5" r="2.85" fill="#7b7b7b"/>
<circle cx="525.95" cy="643.94" r="2.85" fill="#7b7b7b"/>
<circle cx="505.56" cy="637.16" r="2.85" fill="#7b7b7b"/>
<circle cx="514.45" cy="648.44" r="2.85" fill="#7b7b7b"/>
<circle cx="517.51" cy="599.31" r="2.85" fill="#7b7b7b"/>
<circle cx="512.47" cy="631.02" r="2.85" fill="#7b7b7b"/>
<circle cx="515.27" cy="633.03" r="2.85" fill="#7b7b7b"/>
<circle cx="508.89" cy="638.28" r="2.85" fill="#7b7b7b"/>
<circle cx="518.67" cy="633.51" r="2.85" fill="#7b7b7b"/>
<circle cx="520.3" cy="643.94" r="2.85" fill="#7b7b7b"/>
<circle cx="509.17" cy="633.77" r="2.85" fill="#7b7b7b"/>
<circle cx="502.46" cy="649.39" r="2.85" fill="#7b7b7b"/>
<circle cx="505.48" cy="650.23" r="2.85" fill="#7b7b7b"/>
<circle cx="525.09" cy="628.11" r="2.85" fill="#7b7b7b"/>
<circle cx="521.14" cy="592.52" r="2.85" fill="#7b7b7b"/>
<circle cx="526.33" cy="629.6" r="2.85" fill="#7b7b7b"/>
<circle cx="503.28" cy="630.76" r="2.85" fill="#7b7b7b"/>
<circle cx="513.97" cy="637.31" r="2.85" fill="#7b7b7b"/>
<circle cx="527.09" cy="649.8" r="2.85" fill="#7b7b7b"/>
<circle cx="526.14" cy="623" r="2.85" fill="#7b7b7b"/>
<circle cx="520.46" cy="592.52" r="2.85" fill="#7b7b7b"/>
<circle cx="522.95" cy="638.32" r="2.85" fill="#7b7b7b"/>
<circle cx="517.31" cy="626.84" r="2.85" fill="#7b7b7b"/>
<circle cx="513.39" cy="629.66" r="2.85" fill="#7b7b7b"/>
<circle cx="506.72" cy="624.28" r="2.85" fill="#7b7b7b"/>
<circle cx="504.62" cy="641.87" r="2.85" fill="#7b7b7b"/>
<circle cx="513.05" cy="638.42" r="2.85" fill="#7b7b7b"/>
<circle cx="508.27" cy="628.9" r="2.85" fill="#7b7b7b"/>
<circle cx="516.74" cy="616.09" r="2.85" fill="#7b7b7b"/>
<circle cx="515.38" cy="631.63" r="2.85" fill="#7b7b7b"/>
<circle cx="527.74" cy="615.2" r="2.85" fill="#7b7b7b"/>
<circle cx="507.64" cy="639.95" r="2.85" fill="#7b7b7b"/>
<circle cx="504.35" cy="619.52" r="2.85" fill="#7b7b7b"/>
<circle cx="517.87" cy="625.82" r="2.85" fill="#7b7b7b"/>
<circle cx="510.84" cy="646.2" r="2.85" fill="#7b7b7b"/>
<circle cx="516.28" cy="616.36" r="2.85" fill="#7b7b7b"/>
<circle cx="516.99" cy="625.18" r="2.85" fill="#7b7b7b"/>
<circle cx="506.36" cy="622.42" r="2.85" fill="#7b7b7b"/>
<circle cx="507.92" cy="600.3" r="2.85" fill="#7b7b7b"/>
<circle cx="524.59" cy="644.42" r="2.85" fill="#7b7b7b"/>
<circle cx="502.38" cy="633.98" r="2.85" fill="#7b7b7b"/>
<circle cx="512.59" cy="644.1" r="2.85" fill="#7b7b7b"/>
<circle cx="517.83" cy="627.99" r="2.85" fill="#7b7b7b"/>
<circle cx="503.25" cy="633.7" r="2.85" fill="#7b7b7b"/>
<circle cx="462.84" cy="545.82" r="2.85" fill="#7b7b7b"/>
<circle cx="458.83" cy="555.82" r="2.85" fill="#7b7b7b"/>
<circle cx="457.22" cy="557.07" r="2.85" fill="#7b7b7b"/>
<circle cx="460.43" cy="556.66" r="2.85" fill="#7b7b7b"/>
<circle cx="462.03" cy="573.34" r="2.85" fill="#7b7b7b"/>
<circle cx="455.62" cy="580.84" r="2.85" fill="#7b7b7b"/>
<circle cx="458.02" cy="577.92" r="2.85" fill="#7b7b7b"/>
<circle cx="459.63" cy="579.18" r="2.85" fill="#7b7b7b"/>
<circle cx="464.44" cy="594.61" r="2.85" fill="#7b7b7b"/>
<circle cx="458.83" cy="598.77" r="2.85" fill="#7b7b7b"/>
<circle cx="453.21" cy="600.03" r="2.85" fill="#7b7b7b"/>
<circle cx="466.04" cy="600.86" r="2.85" fill="#7b7b7b"/>
<circle cx="465.24" cy="603.78" r="2.85" fill="#7b7b7b"/>
<circle cx="454.01" cy="605.03" r="2.85" fill="#7b7b7b"/>
<circle cx="457.22" cy="607.95" r="2.85" fill="#7b7b7b"/>
<circle cx="461.23" cy="608.37" r="2.85" fill="#7b7b7b"/>
<circle cx="466.04" cy="611.28" r="2.85" fill="#7b7b7b"/>
<circle cx="456.42" cy="612.54" r="2.85" fill="#7b7b7b"/>
<circle cx="460.43" cy="615.04" r="2.85" fill="#7b7b7b"/>
<circle cx="464.44" cy="616.71" r="2.85" fill="#7b7b7b"/>
<circle cx="518.98" cy="585.85" r="2.85" fill="#7b7b7b"/>
<circle cx="525.39" cy="595.02" r="2.85" fill="#7b7b7b"/>
<circle cx="521.38" cy="598.36" r="2.85" fill="#7b7b7b"/>
<circle cx="510.96" cy="608.37" r="2.85" fill="#7b7b7b"/>
<circle cx="522.99" cy="611.7" r="2.85" fill="#7b7b7b"/>
<circle cx="527.8" cy="614.2" r="2.85" fill="#7b7b7b"/>
<circle cx="516.57" cy="616.29" r="2.85" fill="#7b7b7b"/>
<circle cx="526.19" cy="619.62" r="2.85" fill="#7b7b7b"/>
<circle cx="521.38" cy="622.54" r="2.85" fill="#7b7b7b"/>
<circle cx="536.62" cy="645.9" r="2.85" fill="#7b7b7b"/>
<circle cx="542.23" cy="644.64" r="2.85" fill="#7b7b7b"/>
<circle cx="556.67" cy="647.56" r="2.85" fill="#7b7b7b"/>
<circle cx="580.73" cy="643.39" r="2.85" fill="#7b7b7b"/>
<circle cx="563.09" cy="647.15" r="2.85" fill="#7b7b7b"/>
<circle cx="420.33" cy="552.9" r="2.85" fill="#a9cbe6"/>
<circle cx="439.58" cy="554.99" r="2.85" fill="#a9cbe6"/>
<circle cx="443.59" cy="574.59" r="2.85" fill="#a9cbe6"/>
<circle cx="443.59" cy="585.43" r="2.85" fill="#a9cbe6"/>
<circle cx="445.19" cy="590.02" r="2.85" fill="#a9cbe6"/>
<circle cx="429.15" cy="594.61" r="2.85" fill="#a9cbe6"/>
<circle cx="443.59" cy="600.44" r="2.85" fill="#a9cbe6"/>
<circle cx="443.59" cy="634.64" r="2.85" fill="#a9cbe6"/>
<circle cx="441.98" cy="602.94" r="2.85" fill="#a9cbe6"/>
<circle cx="555.07" cy="479.93" r="2.85" fill="#f2a3a3"/>
<circle cx="532.61" cy="543.73" r="2.85" fill="#f2a3a3"/>
<circle cx="532.61" cy="559.16" r="2.85" fill="#f2a3a3"/>
<circle cx="535.02" cy="569.59" r="2.85" fill="#f2a3a3"/>
<circle cx="533.41" cy="574.59" r="2.85" fill="#f2a3a3"/>
<circle cx="547.85" cy="578.76" r="2.85" fill="#f2a3a3"/>
<circle cx="542.23" cy="588.35" r="2.85" fill="#f2a3a3"/>
<circle cx="535.02" cy="595.44" r="2.85" fill="#f2a3a3"/>
<circle cx="533.41" cy="601.69" r="2.85" fill="#f2a3a3"/>
<circle cx="536.62" cy="605.45" r="2.85" fill="#f2a3a3"/>
<circle cx="531.01" cy="607.53" r="2.85" fill="#f2a3a3"/>
<circle cx="538.22" cy="611.7" r="2.85" fill="#f2a3a3"/>
<circle cx="532.61" cy="615.04" r="2.85" fill="#f2a3a3"/>
<circle cx="544.64" cy="614.2" r="2.85" fill="#f2a3a3"/>
<circle cx="539.03" cy="619.62" r="2.85" fill="#f2a3a3"/>
<circle cx="534.21" cy="623.79" r="2.85" fill="#f2a3a3"/>
<circle cx="551.06" cy="627.97" r="2.85" fill="#f2a3a3"/>
<circle cx="531.01" cy="627.97" r="2.85" fill="#f2a3a3"/>
<circle cx="541.43" cy="633.39" r="2.85" fill="#f2a3a3"/>
<circle cx="547.85" cy="631.72" r="2.85" fill="#f2a3a3"/>
<circle cx="536.62" cy="635.47" r="2.85" fill="#f2a3a3"/>
<circle cx="532.61" cy="639.22" r="2.85" fill="#f2a3a3"/>
<circle cx="544.64" cy="638.39" r="2.85" fill="#f2a3a3"/>
<circle cx="551.06" cy="639.64" r="2.85" fill="#f2a3a3"/>
<circle cx="555.07" cy="645.9" r="2.85" fill="#f2a3a3"/>
<circle cx="536.62" cy="642.56" r="2.85" fill="#f2a3a3"/>
<circle cx="570.3" cy="644.64" r="2.85" fill="#f2a3a3"/>
<circle cx="540.63" cy="625.05" r="2.85" fill="#f2a3a3"/>
<circle cx="546.24" cy="600.44" r="2.85" fill="#f2a3a3"/>
<circle cx="549.45" cy="620.46" r="2.85" fill="#f2a3a3"/>
<line x1="448.4" y1="449.6" x2="448.4" y2="660" stroke="#333" stroke-width="0.75" stroke-dasharray="3.8,2.6"/>
<line x1="528.6" y1="449.6" x2="528.6" y2="660" stroke="#333" stroke-width="0.75" stroke-dasharray="3.8,2.6"/>
<line x1="398.7" y1="645.48" x2="617.7" y2="645.48" stroke="#333" stroke-width="0.75" stroke-dasharray="3.8,2.6"/>
<rect x="530.2" y="533.4" width="20.5" height="10.2" fill="#eef576" stroke="none" stroke-width="1" opacity="0.9"/>
<rect x="482.6" y="571.5" width="39.4" height="13.5" fill="#eef576" stroke="none" stroke-width="1" opacity="0.9"/>
<rect x="535.6" y="588.8" width="29.6" height="12.9" fill="#eef576" stroke="none" stroke-width="1" opacity="0.9"/>
<text transform="translate(536.4 489.2) scale(0.925 1)" font-size="9.2" fill="#111">RPL18</text>
<text transform="translate(531.2 541.8) scale(0.925 1)" font-size="9.2" fill="#4a4a2a">EIF1</text>
<text transform="translate(403.6 549) scale(0.925 1)" font-size="9.2" fill="#111">AL627171.2</text>
<text transform="translate(508.2 557.3) scale(0.925 1)" font-size="9.2" fill="#111">UQCR11</text>
<text transform="translate(432.7 564.6) scale(0.925 1)" font-size="9.2" fill="#111">RPS10</text>
<text transform="translate(447.3 575.6) scale(0.925 1)" font-size="9.2" fill="#111">PABPC1</text>
<text transform="translate(524.8 576.1) scale(0.925 1)" font-size="9.2" fill="#111">RPL18A</text>
<text transform="translate(410.4 582) scale(0.925 1)" font-size="9.2" fill="#111">C1orf56</text>
<text transform="translate(483.3 581.8) scale(0.925 1)" font-size="9.2" fill="#4a4a2a">NDUFA11</text>
<text transform="translate(561.2 585.8) scale(0.925 1)" font-size="9.2" fill="#111">TCF25</text>
<text transform="translate(452.3 593) scale(0.925 1)" font-size="9.2" fill="#111">MARCKS</text>
<text transform="translate(505 593) scale(0.925 1)" font-size="9.2" fill="#111">RPLP2</text>
<text transform="translate(536.4 598.4) scale(0.925 1)" font-size="9.2" fill="#4a4a2a">COX8A</text>
<text transform="translate(569.5 597.4) scale(0.925 1)" font-size="9.2" fill="#111">EID1</text>
<text transform="translate(401 603.5) scale(0.925 1)" font-size="9.2" fill="#111">MTRNR2L10</text>
<text transform="translate(493.9 602.6) scale(0.925 1)" font-size="9.2" fill="#111">TOMM20</text>
<text transform="translate(538.8 609.3) scale(0.925 1)" font-size="9.2" fill="#111">ATP6V0E2-NKAIN4</text>
<text transform="translate(445 614.3) scale(0.925 1)" font-size="9.2" fill="#111">CTNNB1</text>
<text transform="translate(488 613.5) scale(0.925 1)" font-size="9.2" fill="#111">CYP51A1</text>
<text transform="translate(531.8 619) scale(0.925 1)" font-size="9.2" fill="#111">MCRIP1</text>
<text transform="translate(568.4 619) scale(0.925 1)" font-size="9.2" fill="#111">HIST1H1E</text>
<text transform="translate(461.7 627.4) scale(0.925 1)" font-size="9.2" fill="#111">HSPA5</text>
<text transform="translate(493.9 627.4) scale(0.925 1)" font-size="9.2" fill="#111">ATP5IF1</text>
<text transform="translate(422.6 628.3) scale(0.925 1)" font-size="9.2" fill="#111">HSPH1</text>
<text transform="translate(563 631) scale(0.925 1)" font-size="9.2" fill="#111">LSM7</text>
<text transform="translate(468.2 637.2) scale(0.925 1)" font-size="9.2" fill="#111">PTMA</text>
<text transform="translate(523.4 637.2) scale(0.925 1)" font-size="9.2" fill="#111">CHCHD2</text>
<text transform="translate(572.5 643) scale(0.925 1)" font-size="9.2" fill="#111">PTPRZ1</text>
<text transform="translate(496.4 646.8) scale(0.925 1)" font-size="9.2" fill="#111">COPE</text>
<text transform="translate(537.6 652) scale(0.925 1)" font-size="9.2" fill="#111">/GPX4</text>
<text transform="translate(571 654.8) scale(0.925 1)" font-size="9.2" fill="#111">RABAC1</text>
<text transform="translate(468.2 656.4) scale(0.925 1)" font-size="9.2" fill="#111">HNRNPM</text>
<text transform="translate(509.3 656.4) scale(0.925 1)" font-size="9.2" fill="#111">PTGDS</text>
<line x1="522.9" y1="578.2" x2="539.3" y2="586.8" stroke="#111" stroke-width="0.9"/>
<line x1="560.7" y1="582.7" x2="547.4" y2="579.2" stroke="#111" stroke-width="0.9"/>
<line x1="569.9" y1="594.5" x2="563" y2="597.5" stroke="#111" stroke-width="0.9"/>
<line x1="529" y1="593.5" x2="533.5" y2="600.7" stroke="#111" stroke-width="0.9"/>
<line x1="521.9" y1="604.7" x2="529" y2="612.9" stroke="#111" stroke-width="0.9"/>
<line x1="582.2" y1="606.8" x2="537.5" y2="610.5" stroke="#111" stroke-width="0.9"/>
<line x1="539.3" y1="606.4" x2="535.2" y2="608.8" stroke="#111" stroke-width="0.9"/>
<line x1="582.2" y1="607.8" x2="551.5" y2="614" stroke="#111" stroke-width="0.9"/>
<line x1="567.9" y1="618" x2="543.4" y2="622.7" stroke="#111" stroke-width="0.9"/>
<line x1="489" y1="625.8" x2="529" y2="619" stroke="#111" stroke-width="0.9"/>
<line x1="492.3" y1="635.4" x2="535.2" y2="622.1" stroke="#111" stroke-width="0.9"/>
<line x1="562.8" y1="628.9" x2="548.5" y2="630.9" stroke="#111" stroke-width="0.9"/>
<line x1="572" y1="640.5" x2="554.6" y2="638.5" stroke="#111" stroke-width="0.9"/>
<line x1="519.9" y1="642" x2="531.1" y2="633.4" stroke="#111" stroke-width="0.9"/>
<line x1="506.6" y1="652.8" x2="534.2" y2="637.4" stroke="#111" stroke-width="0.9"/>
<line x1="541.3" y1="647.7" x2="547" y2="643" stroke="#111" stroke-width="0.9"/>
<line x1="445" y1="606" x2="449" y2="611" stroke="#111" stroke-width="0.9"/>
<line x1="531" y1="623" x2="550" y2="620" stroke="#111" stroke-width="0.9"/>
<line x1="398.5" y1="449.6" x2="398.5" y2="661" stroke="#111" stroke-width="1"/>
<line x1="398" y1="660.5" x2="617.7" y2="660.5" stroke="#111" stroke-width="1"/>
<line x1="395.2" y1="650.9" x2="398.7" y2="650.9" stroke="#333" stroke-width="1"/>
<text x="391.7" y="654" font-size="8.6" text-anchor="end" fill="#4d4d4d">0</text>
<line x1="395.2" y1="609.2" x2="398.7" y2="609.2" stroke="#333" stroke-width="1"/>
<text x="391.7" y="612.3" font-size="8.6" text-anchor="end" fill="#4d4d4d">10</text>
<line x1="395.2" y1="567.5" x2="398.7" y2="567.5" stroke="#333" stroke-width="1"/>
<text x="391.7" y="570.6" font-size="8.6" text-anchor="end" fill="#4d4d4d">20</text>
<line x1="395.2" y1="525.8" x2="398.7" y2="525.8" stroke="#333" stroke-width="1"/>
<text x="391.7" y="528.9" font-size="8.6" text-anchor="end" fill="#4d4d4d">30</text>
<line x1="395.2" y1="484.1" x2="398.7" y2="484.1" stroke="#333" stroke-width="1"/>
<text x="391.7" y="487.2" font-size="8.6" text-anchor="end" fill="#4d4d4d">40</text>
<line x1="408.3" y1="660.5" x2="408.3" y2="664" stroke="#333" stroke-width="1"/>
<text x="408.3" y="674.3" font-size="8.6" text-anchor="middle" fill="#4d4d4d">-1.0</text>
<line x1="448.4" y1="660.5" x2="448.4" y2="664" stroke="#333" stroke-width="1"/>
<text x="448.4" y="674.3" font-size="8.6" text-anchor="middle" fill="#4d4d4d">-0.5</text>
<line x1="488.5" y1="660.5" x2="488.5" y2="664" stroke="#333" stroke-width="1"/>
<text x="488.5" y="674.3" font-size="8.6" text-anchor="middle" fill="#4d4d4d">0.0</text>
<line x1="528.6" y1="660.5" x2="528.6" y2="664" stroke="#333" stroke-width="1"/>
<text x="528.6" y="674.3" font-size="8.6" text-anchor="middle" fill="#4d4d4d">0.5</text>
<line x1="568.7" y1="660.5" x2="568.7" y2="664" stroke="#333" stroke-width="1"/>
<text x="568.7" y="674.3" font-size="8.6" text-anchor="middle" fill="#4d4d4d">1.0</text>
<line x1="608.8" y1="660.5" x2="608.8" y2="664" stroke="#333" stroke-width="1"/>
<text x="608.8" y="674.3" font-size="8.6" text-anchor="middle" fill="#4d4d4d">1.5</text>
<text x="508.6" y="687" font-size="9.3" text-anchor="middle" fill="#1a1a1a">Fold change (log2)</text>
<text transform="translate(377.2 561.6) rotate(-90)" font-size="8.6" text-anchor="middle" fill="#1a1a1a">Adjusted p-value (-log10)</text>
<text x="97.4" y="736.3" font-size="11.3" text-anchor="middle" fill="#000" font-style="italic">NDUFA11</text>
<text x="183.1" y="736.5" font-size="11.3" text-anchor="middle" fill="#000" font-style="italic">COX8A</text>
<text x="270.3" y="736.5" font-size="11.3" text-anchor="middle" fill="#000" font-style="italic">EIF1</text>
<path d="M90.4,871.4 C90.08,871.23 89.65,870.82 88.5,870.4 C87.35,869.98 85.17,869.4 83.5,868.9 C81.83,868.4 79.83,867.98 78.5,867.4 C77.17,866.82 76.28,866.07 75.5,865.4 C74.72,864.73 74.13,863.98 73.8,863.4 C73.47,862.82 73.42,862.4 73.5,861.9 C73.58,861.4 73.83,861.15 74.3,860.4 C74.77,859.65 75.72,858.57 76.3,857.4 C76.88,856.23 77.43,854.73 77.8,853.4 C78.17,852.07 78.43,850.73 78.5,849.4 C78.57,848.07 78.48,846.73 78.2,845.4 C77.92,844.07 77.33,843.07 76.8,841.4 C76.27,839.73 75.47,837.73 75,835.4 C74.53,833.07 74.28,830.07 74,827.4 C73.72,824.73 73.52,822.07 73.3,819.4 C73.08,816.73 72.9,814.07 72.7,811.4 C72.5,808.73 72.3,805.3 72.1,803.4 C71.9,801.5 71.7,800 71.5,800 C71.3,800 71.1,801.5 70.9,803.4 C70.7,805.3 70.5,808.73 70.3,811.4 C70.1,814.07 69.92,816.73 69.7,819.4 C69.48,822.07 69.28,824.73 69,827.4 C68.72,830.07 68.47,833.07 68,835.4 C67.53,837.73 66.73,839.73 66.2,841.4 C65.67,843.07 65.08,844.07 64.8,845.4 C64.52,846.73 64.43,848.07 64.5,849.4 C64.57,850.73 64.83,852.07 65.2,853.4 C65.57,854.73 66.12,856.23 66.7,857.4 C67.28,858.57 68.23,859.65 68.7,860.4 C69.17,861.15 69.42,861.4 69.5,861.9 C69.58,862.4 69.53,862.82 69.2,863.4 C68.87,863.98 68.28,864.73 67.5,865.4 C66.72,866.07 65.83,866.82 64.5,867.4 C63.17,867.98 61.17,868.4 59.5,868.9 C57.83,869.4 55.65,869.98 54.5,870.4 C53.35,870.82 52.92,871.23 52.6,871.4Z" fill="#b3cde3" stroke="#333" stroke-width="0.75" stroke-linejoin="round"/>
<path d="M132,871.4 C131.73,871.23 131.33,870.82 130.4,870.4 C129.47,869.98 127.73,869.48 126.4,868.9 C125.07,868.32 123.57,867.65 122.4,866.9 C121.23,866.15 120.27,865.32 119.4,864.4 C118.53,863.48 117.78,862.4 117.2,861.4 C116.62,860.4 116.17,859.4 115.9,858.4 C115.63,857.4 115.43,856.4 115.6,855.4 C115.77,854.4 116.18,853.73 116.9,852.4 C117.62,851.07 118.98,849.23 119.9,847.4 C120.82,845.57 121.73,843.4 122.4,841.4 C123.07,839.4 123.58,837.4 123.9,835.4 C124.22,833.4 124.3,831.4 124.3,829.4 C124.3,827.4 124.17,825.57 123.9,823.4 C123.63,821.23 123.23,818.73 122.7,816.4 C122.17,814.07 121.42,811.73 120.7,809.4 C119.98,807.07 119.12,804.57 118.4,802.4 C117.68,800.23 116.93,798.23 116.4,796.4 C115.87,794.57 115.57,793.07 115.2,791.4 C114.83,789.73 114.5,787.75 114.2,786.4 C113.9,785.05 113.67,783.3 113.4,783.3 C113.13,783.3 112.9,785.05 112.6,786.4 C112.3,787.75 111.97,789.73 111.6,791.4 C111.23,793.07 110.93,794.57 110.4,796.4 C109.87,798.23 109.12,800.23 108.4,802.4 C107.68,804.57 106.82,807.07 106.1,809.4 C105.38,811.73 104.63,814.07 104.1,816.4 C103.57,818.73 103.17,821.23 102.9,823.4 C102.63,825.57 102.5,827.4 102.5,829.4 C102.5,831.4 102.58,833.4 102.9,835.4 C103.22,837.4 103.73,839.4 104.4,841.4 C105.07,843.4 105.98,845.57 106.9,847.4 C107.82,849.23 109.18,851.07 109.9,852.4 C110.62,853.73 111.03,854.4 111.2,855.4 C111.37,856.4 111.17,857.4 110.9,858.4 C110.63,859.4 110.18,860.4 109.6,861.4 C109.02,862.4 108.27,863.48 107.4,864.4 C106.53,865.32 105.57,866.15 104.4,866.9 C103.23,867.65 101.73,868.32 100.4,868.9 C99.07,869.48 97.33,869.98 96.4,870.4 C95.47,870.82 95.07,871.23 94.8,871.4Z" fill="#f1aaa9" stroke="#333" stroke-width="0.75" stroke-linejoin="round"/>
<path d="M181,871.4 C180.72,871.23 180.25,870.82 179.3,870.4 C178.35,869.98 176.72,869.48 175.3,868.9 C173.88,868.32 172.05,867.65 170.8,866.9 C169.55,866.15 168.67,865.32 167.8,864.4 C166.93,863.48 166.13,862.4 165.6,861.4 C165.07,860.4 164.77,859.23 164.6,858.4 C164.43,857.57 164.4,857.23 164.6,856.4 C164.8,855.57 165.18,854.73 165.8,853.4 C166.42,852.07 167.58,850.4 168.3,848.4 C169.02,846.4 169.72,843.73 170.1,841.4 C170.48,839.07 170.6,836.73 170.6,834.4 C170.6,832.07 170.4,829.57 170.1,827.4 C169.8,825.23 169.27,823.4 168.8,821.4 C168.33,819.4 167.8,817.4 167.3,815.4 C166.8,813.4 166.25,811.4 165.8,809.4 C165.35,807.4 164.97,805.57 164.6,803.4 C164.23,801.23 163.88,798.73 163.6,796.4 C163.32,794.07 163.12,791.27 162.9,789.4 C162.68,787.53 162.5,785.2 162.3,785.2 C162.1,785.2 161.92,787.53 161.7,789.4 C161.48,791.27 161.28,794.07 161,796.4 C160.72,798.73 160.37,801.23 160,803.4 C159.63,805.57 159.25,807.4 158.8,809.4 C158.35,811.4 157.8,813.4 157.3,815.4 C156.8,817.4 156.27,819.4 155.8,821.4 C155.33,823.4 154.8,825.23 154.5,827.4 C154.2,829.57 154,832.07 154,834.4 C154,836.73 154.12,839.07 154.5,841.4 C154.88,843.73 155.58,846.4 156.3,848.4 C157.02,850.4 158.18,852.07 158.8,853.4 C159.42,854.73 159.8,855.57 160,856.4 C160.2,857.23 160.17,857.57 160,858.4 C159.83,859.23 159.53,860.4 159,861.4 C158.47,862.4 157.67,863.48 156.8,864.4 C155.93,865.32 155.05,866.15 153.8,866.9 C152.55,867.65 150.72,868.32 149.3,868.9 C147.88,869.48 146.25,869.98 145.3,870.4 C144.35,870.82 143.88,871.23 143.6,871.4Z" fill="#b3cde3" stroke="#333" stroke-width="0.75" stroke-linejoin="round"/>
<path d="M222.4,871.4 C222.13,871.23 221.73,870.82 220.8,870.4 C219.87,869.98 218.22,869.48 216.8,868.9 C215.38,868.32 213.55,867.65 212.3,866.9 C211.05,866.15 210.17,865.32 209.3,864.4 C208.43,863.48 207.62,862.35 207.1,861.4 C206.58,860.45 206.25,859.53 206.2,858.7 C206.15,857.87 206.2,857.62 206.8,856.4 C207.4,855.18 208.8,853.4 209.8,851.4 C210.8,849.4 212,846.9 212.8,844.4 C213.6,841.9 214.17,839.4 214.6,836.4 C215.03,833.4 215.3,829.23 215.4,826.4 C215.5,823.57 215.47,821.9 215.2,819.4 C214.93,816.9 214.37,813.9 213.8,811.4 C213.23,808.9 212.55,806.57 211.8,804.4 C211.05,802.23 210.08,800.23 209.3,798.4 C208.52,796.57 207.72,794.9 207.1,793.4 C206.48,791.9 206.03,790.73 205.6,789.4 C205.17,788.07 204.8,786.43 204.5,785.4 C204.2,784.37 204.03,783.2 203.8,783.2 C203.57,783.2 203.4,784.37 203.1,785.4 C202.8,786.43 202.43,788.07 202,789.4 C201.57,790.73 201.12,791.9 200.5,793.4 C199.88,794.9 199.08,796.57 198.3,798.4 C197.52,800.23 196.55,802.23 195.8,804.4 C195.05,806.57 194.37,808.9 193.8,811.4 C193.23,813.9 192.67,816.9 192.4,819.4 C192.13,821.9 192.1,823.57 192.2,826.4 C192.3,829.23 192.57,833.4 193,836.4 C193.43,839.4 194,841.9 194.8,844.4 C195.6,846.9 196.8,849.4 197.8,851.4 C198.8,853.4 200.2,855.18 200.8,856.4 C201.4,857.62 201.45,857.87 201.4,858.7 C201.35,859.53 201.02,860.45 200.5,861.4 C199.98,862.35 199.17,863.48 198.3,864.4 C197.43,865.32 196.55,866.15 195.3,866.9 C194.05,867.65 192.22,868.32 190.8,868.9 C189.38,869.48 187.73,869.98 186.8,870.4 C185.87,870.82 185.47,871.23 185.2,871.4Z" fill="#f1aaa9" stroke="#333" stroke-width="0.75" stroke-linejoin="round"/>
<path d="M260.7,871.4 C260.52,871.23 260.2,870.82 259.6,870.4 C259,869.98 258.02,869.48 257.1,868.9 C256.18,868.32 254.93,867.57 254.1,866.9 C253.27,866.23 252.55,865.57 252.1,864.9 C251.65,864.23 251.4,863.57 251.4,862.9 C251.4,862.23 251.48,861.82 252.1,860.9 C252.72,859.98 253.77,858.98 255.1,857.4 C256.43,855.82 258.52,853.57 260.1,851.4 C261.68,849.23 263.35,846.9 264.6,844.4 C265.85,841.9 266.92,839.33 267.6,836.4 C268.28,833.47 268.73,829.63 268.7,826.8 C268.67,823.97 268.08,821.63 267.4,819.4 C266.72,817.17 265.73,815.23 264.6,813.4 C263.47,811.57 261.85,809.9 260.6,808.4 C259.35,806.9 258.18,805.57 257.1,804.4 C256.02,803.23 254.93,802.4 254.1,801.4 C253.27,800.4 252.65,799.4 252.1,798.4 C251.55,797.4 251.22,796.35 250.8,795.4 C250.38,794.45 250,792.7 249.6,792.7 C249.2,792.7 248.82,794.45 248.4,795.4 C247.98,796.35 247.65,797.4 247.1,798.4 C246.55,799.4 245.93,800.4 245.1,801.4 C244.27,802.4 243.18,803.23 242.1,804.4 C241.02,805.57 239.85,806.9 238.6,808.4 C237.35,809.9 235.73,811.57 234.6,813.4 C233.47,815.23 232.48,817.17 231.8,819.4 C231.12,821.63 230.53,823.97 230.5,826.8 C230.47,829.63 230.92,833.47 231.6,836.4 C232.28,839.33 233.35,841.9 234.6,844.4 C235.85,846.9 237.52,849.23 239.1,851.4 C240.68,853.57 242.77,855.82 244.1,857.4 C245.43,858.98 246.48,859.98 247.1,860.9 C247.72,861.82 247.8,862.23 247.8,862.9 C247.8,863.57 247.55,864.23 247.1,864.9 C246.65,865.57 245.93,866.23 245.1,866.9 C244.27,867.57 243.02,868.32 242.1,868.9 C241.18,869.48 240.2,869.98 239.6,870.4 C239,870.82 238.68,871.23 238.5,871.4Z" fill="#b3cde3" stroke="#333" stroke-width="0.75" stroke-linejoin="round"/>
<path d="M303.1,871.4 C302.87,871.23 302.35,870.82 301.7,870.4 C301.05,869.98 300.12,869.48 299.2,868.9 C298.28,868.32 297.03,867.65 296.2,866.9 C295.37,866.15 294.73,865.32 294.2,864.4 C293.67,863.48 293.3,862.4 293,861.4 C292.7,860.4 292.5,859.3 292.4,858.4 C292.3,857.5 292.27,856.83 292.4,856 C292.53,855.17 292.65,854.5 293.2,853.4 C293.75,852.3 294.62,851.07 295.7,849.4 C296.78,847.73 298.37,845.57 299.7,843.4 C301.03,841.23 302.37,838.9 303.7,836.4 C305.03,833.9 306.7,830.9 307.7,828.4 C308.7,825.9 309.3,823.3 309.7,821.4 C310.1,819.5 310.27,818.67 310.1,817 C309.93,815.33 309.52,813.33 308.7,811.4 C307.88,809.47 306.53,807.23 305.2,805.4 C303.87,803.57 302.03,801.9 300.7,800.4 C299.37,798.9 298.2,797.73 297.2,796.4 C296.2,795.07 295.4,793.73 294.7,792.4 C294,791.07 293.47,789.57 293,788.4 C292.53,787.23 292.2,786.27 291.9,785.4 C291.6,784.53 291.43,783.2 291.2,783.2 C290.97,783.2 290.8,784.53 290.5,785.4 C290.2,786.27 289.87,787.23 289.4,788.4 C288.93,789.57 288.4,791.07 287.7,792.4 C287,793.73 286.2,795.07 285.2,796.4 C284.2,797.73 283.03,798.9 281.7,800.4 C280.37,801.9 278.53,803.57 277.2,805.4 C275.87,807.23 274.52,809.47 273.7,811.4 C272.88,813.33 272.47,815.33 272.3,817 C272.13,818.67 272.3,819.5 272.7,821.4 C273.1,823.3 273.7,825.9 274.7,828.4 C275.7,830.9 277.37,833.9 278.7,836.4 C280.03,838.9 281.37,841.23 282.7,843.4 C284.03,845.57 285.62,847.73 286.7,849.4 C287.78,851.07 288.65,852.3 289.2,853.4 C289.75,854.5 289.87,855.17 290,856 C290.13,856.83 290.1,857.5 290,858.4 C289.9,859.3 289.7,860.4 289.4,861.4 C289.1,862.4 288.73,863.48 288.2,864.4 C287.67,865.32 287.03,866.15 286.2,866.9 C285.37,867.65 284.12,868.32 283.2,868.9 C282.28,869.48 281.35,869.98 280.7,870.4 C280.05,870.82 279.53,871.23 279.3,871.4Z" fill="#f1aaa9" stroke="#333" stroke-width="0.75" stroke-linejoin="round"/>
<line x1="46.6" y1="779.6" x2="46.6" y2="876" stroke="#222" stroke-width="0.9"/>
<line x1="46.2" y1="875.6" x2="316.1" y2="875.6" stroke="#222" stroke-width="0.9"/>
<line x1="43.4" y1="871.4" x2="46.6" y2="871.4" stroke="#333" stroke-width="0.8"/>
<text x="41.9" y="874.2" font-size="7.8" text-anchor="end" fill="#4d4d4d">0</text>
<line x1="43.4" y1="842.4" x2="46.6" y2="842.4" stroke="#333" stroke-width="0.8"/>
<text x="41.9" y="845.2" font-size="7.8" text-anchor="end" fill="#4d4d4d">1</text>
<line x1="43.4" y1="813.4" x2="46.6" y2="813.4" stroke="#333" stroke-width="0.8"/>
<text x="41.9" y="816.2" font-size="7.8" text-anchor="end" fill="#4d4d4d">2</text>
<line x1="43.4" y1="784.4" x2="46.6" y2="784.4" stroke="#333" stroke-width="0.8"/>
<text x="41.9" y="787.2" font-size="7.8" text-anchor="end" fill="#4d4d4d">3</text>
<line x1="71.5" y1="875.6" x2="71.5" y2="878.6" stroke="#333" stroke-width="0.8"/>
<line x1="113.4" y1="875.6" x2="113.4" y2="878.6" stroke="#333" stroke-width="0.8"/>
<line x1="162.3" y1="875.6" x2="162.3" y2="878.6" stroke="#333" stroke-width="0.8"/>
<line x1="203.8" y1="875.6" x2="203.8" y2="878.6" stroke="#333" stroke-width="0.8"/>
<line x1="249.6" y1="875.6" x2="249.6" y2="878.6" stroke="#333" stroke-width="0.8"/>
<line x1="291.2" y1="875.6" x2="291.2" y2="878.6" stroke="#333" stroke-width="0.8"/>
<text transform="translate(34.3 827.6) rotate(-90)" font-size="9.5" text-anchor="middle" fill="#1a1a1a">Expression Level</text>
<text transform="translate(78.9 880.9) rotate(-90)" font-size="9.9" text-anchor="end" fill="#1a1a1a">ddH2O</text>
<text transform="translate(120.2 880.9) rotate(-90)" font-size="9.9" text-anchor="end" fill="#1a1a1a">Metformin</text>
<text transform="translate(169.6 880.9) rotate(-90)" font-size="9.9" text-anchor="end" fill="#1a1a1a">ddH2O</text>
<text transform="translate(209.8 880.9) rotate(-90)" font-size="9.9" text-anchor="end" fill="#1a1a1a">Metformin</text>
<text transform="translate(255.2 880.9) rotate(-90)" font-size="9.9" text-anchor="end" fill="#1a1a1a">ddH2O</text>
<text transform="translate(298 880.9) rotate(-90)" font-size="9.9" text-anchor="end" fill="#1a1a1a">Metformin</text>
<line x1="434.1" y1="761.09" x2="434.1" y2="876.3" stroke="#000" stroke-width="1.3"/>
<line x1="433.5" y1="876.3" x2="505.5" y2="876.3" stroke="#000" stroke-width="1.3"/>
<line x1="430.6" y1="876.3" x2="434.1" y2="876.3" stroke="#000" stroke-width="1.3"/>
<text x="428.8" y="878.82" font-size="7" text-anchor="end" fill="#000" font-weight="bold">0</text>
<line x1="430.6" y1="838.13" x2="434.1" y2="838.13" stroke="#000" stroke-width="1.3"/>
<text x="428.8" y="840.65" font-size="7" text-anchor="end" fill="#000" font-weight="bold">50</text>
<line x1="430.6" y1="799.96" x2="434.1" y2="799.96" stroke="#000" stroke-width="1.3"/>
<text x="428.8" y="802.48" font-size="7" text-anchor="end" fill="#000" font-weight="bold">100</text>
<line x1="430.6" y1="761.79" x2="434.1" y2="761.79" stroke="#000" stroke-width="1.3"/>
<text x="428.8" y="764.31" font-size="7" text-anchor="end" fill="#000" font-weight="bold">150</text>
<line x1="454.8" y1="876.3" x2="454.8" y2="880.3" stroke="#000" stroke-width="1.3"/>
<line x1="485.8" y1="876.3" x2="485.8" y2="880.3" stroke="#000" stroke-width="1.3"/>
<rect x="446.5" y="845.14" width="17.4" height="31.16" fill="#d6e5f1" stroke="#b7d0e8" stroke-width="1.8"/>
<rect x="477" y="807.35" width="17.6" height="68.95" fill="#f4d3d9" stroke="#efa7aa" stroke-width="1.8"/>
<line x1="454.8" y1="828.8" x2="454.8" y2="859.2" stroke="#a3bfe2" stroke-width="0.9"/>
<line x1="449.3" y1="828.8" x2="460.3" y2="828.8" stroke="#a3bfe2" stroke-width="0.9"/>
<line x1="449.3" y1="859.2" x2="460.3" y2="859.2" stroke="#a3bfe2" stroke-width="0.9"/>
<line x1="485.8" y1="794.6" x2="485.8" y2="817.2" stroke="#c582ae" stroke-width="0.9"/>
<line x1="480.3" y1="794.6" x2="491.3" y2="794.6" stroke="#c582ae" stroke-width="0.9"/>
<line x1="480.3" y1="817.2" x2="491.3" y2="817.2" stroke="#c582ae" stroke-width="0.9"/>
<circle cx="454.8" cy="817.7" r="2.2" fill="#7fa3d6"/>
<circle cx="454.8" cy="844" r="2.2" fill="#7fa3d6"/>
<circle cx="454.8" cy="870.3" r="2.2" fill="#7fa3d6"/>
<circle cx="485.8" cy="785.7" r="2.2" fill="#b4619b"/>
<circle cx="485.8" cy="806.7" r="2.2" fill="#b4619b"/>
<circle cx="485.8" cy="825.6" r="2.2" fill="#b4619b"/>
<path d="M454.8,808.5 V754.1 H485.8 V777" fill="none" stroke="#000" stroke-width="1.2"/>
<text x="470.9" y="748.9" font-size="8.8" text-anchor="middle" fill="#000">0.1176</text>
<text x="470" y="732.9" font-size="11.3" text-anchor="middle" fill="#000" font-style="italic">NDUFA11</text>
<text transform="translate(410.8 819.04) rotate(-90)" font-size="8.3" text-anchor="middle" fill="#000" font-weight="bold">Composite Score</text>
<line x1="550.4" y1="759.91" x2="550.4" y2="875.6" stroke="#000" stroke-width="1.3"/>
<line x1="549.8" y1="875.6" x2="622.4" y2="875.6" stroke="#000" stroke-width="1.3"/>
<line x1="546.9" y1="875.6" x2="550.4" y2="875.6" stroke="#000" stroke-width="1.3"/>
<text x="545.1" y="878.12" font-size="7" text-anchor="end" fill="#000" font-weight="bold">0</text>
<line x1="546.9" y1="837.27" x2="550.4" y2="837.27" stroke="#000" stroke-width="1.3"/>
<text x="545.1" y="839.79" font-size="7" text-anchor="end" fill="#000" font-weight="bold">50</text>
<line x1="546.9" y1="798.94" x2="550.4" y2="798.94" stroke="#000" stroke-width="1.3"/>
<text x="545.1" y="801.46" font-size="7" text-anchor="end" fill="#000" font-weight="bold">100</text>
<line x1="546.9" y1="760.61" x2="550.4" y2="760.61" stroke="#000" stroke-width="1.3"/>
<text x="545.1" y="763.13" font-size="7" text-anchor="end" fill="#000" font-weight="bold">150</text>
<line x1="571.3" y1="875.6" x2="571.3" y2="879.6" stroke="#000" stroke-width="1.3"/>
<line x1="602" y1="875.6" x2="602" y2="879.6" stroke="#000" stroke-width="1.3"/>
<rect x="562.5" y="848.14" width="18.1" height="27.46" fill="#d6e5f1" stroke="#b7d0e8" stroke-width="1.8"/>
<rect x="593.2" y="809.81" width="17.6" height="65.79" fill="#f4d3d9" stroke="#efa7aa" stroke-width="1.8"/>
<line x1="571.3" y1="841.6" x2="571.3" y2="852.6" stroke="#a3bfe2" stroke-width="0.9"/>
<line x1="565.8" y1="841.6" x2="576.8" y2="841.6" stroke="#a3bfe2" stroke-width="0.9"/>
<line x1="565.8" y1="852.6" x2="576.8" y2="852.6" stroke="#a3bfe2" stroke-width="0.9"/>
<line x1="602" y1="793.3" x2="602" y2="823.2" stroke="#c582ae" stroke-width="0.9"/>
<line x1="596.5" y1="793.3" x2="607.5" y2="793.3" stroke="#c582ae" stroke-width="0.9"/>
<line x1="596.5" y1="823.2" x2="607.5" y2="823.2" stroke="#c582ae" stroke-width="0.9"/>
<circle cx="571.3" cy="838.3" r="2.2" fill="#7fa3d6"/>
<circle cx="571.3" cy="845.4" r="2.2" fill="#7fa3d6"/>
<circle cx="571.3" cy="857.7" r="2.2" fill="#7fa3d6"/>
<circle cx="602" cy="784.9" r="2.2" fill="#b4619b"/>
<circle cx="602" cy="804" r="2.2" fill="#b4619b"/>
<circle cx="602" cy="836.7" r="2.2" fill="#b4619b"/>
<path d="M571.3,807.6 V752.9 H602 V775.2" fill="none" stroke="#000" stroke-width="1.2"/>
<text x="587.25" y="747.8" font-size="8.8" text-anchor="middle" fill="#000">0.0751</text>
<text x="588.5" y="733" font-size="11.3" text-anchor="middle" fill="#000" font-style="italic">EIF1</text>
<text transform="translate(527 818.11) rotate(-90)" font-size="8.3" text-anchor="middle" fill="#000" font-weight="bold">Composite Score</text>
<text transform="translate(457.36 883.4) rotate(-90)" font-size="7.1" text-anchor="end" fill="#000" font-weight="bold">Vehicle</text>
<text transform="translate(488.36 883.4) rotate(-90)" font-size="7.1" text-anchor="end" fill="#000" font-weight="bold">Metformin</text>
<text transform="translate(573.86 883.4) rotate(-90)" font-size="7.1" text-anchor="end" fill="#000" font-weight="bold">Vehicle</text>
<text transform="translate(604.56 883.4) rotate(-90)" font-size="7.1" text-anchor="end" fill="#000" font-weight="bold">Metformin</text>
<text x="17.2" y="969.7" font-size="20" text-anchor="start" fill="#000" font-weight="bold">I</text>
<defs><filter id="bb" x="-20%" y="-100%" width="140%" height="300%" color-interpolation-filters="sRGB"><feGaussianBlur in="SourceGraphic" stdDeviation="0.9 0.55" result="b"/><feTurbulence type="fractalNoise" baseFrequency="0.25 0.6" numOctaves="2" seed="3" result="t"/><feColorMatrix in="t" type="matrix" values="0 0 0 0 0  0 0 0 0 0  0 0 0 0 0  0 0 0 1.1 0.42" result="ta"/><feComposite in="b" in2="ta" operator="in"/></filter></defs>
<rect x="87.2" y="952.6" width="151.2" height="12.8" fill="#f6f6f6" stroke="none" stroke-width="1"/>
<rect x="87.2" y="970.3" width="151.2" height="16.7" fill="#f6f6f6" stroke="none" stroke-width="1"/>
<rect x="87.2" y="991.9" width="151.2" height="10.4" fill="#f6f6f6" stroke="none" stroke-width="1"/>
<path d="M94.3,958.3 Q104.55,957.5 114.8,956.7 L114.8,958.9 Q104.55,959.7 94.3,960.5 Z" fill="#1a1a1a" stroke="none" stroke-width="1" opacity="0.8" filter="url(#bb)"/>
<path d="M118.9,958.4 Q130.3,959.7 141.7,958.4 L141.7,961.2 Q130.3,962.5 118.9,961.2 Z" fill="#1a1a1a" stroke="none" stroke-width="1" opacity="0.88" filter="url(#bb)"/>
<path d="M145.2,957.5 Q154.8,957.5 164.4,957.5 L164.4,960.5 Q154.8,960.5 145.2,960.5 Z" fill="#1a1a1a" stroke="none" stroke-width="1" opacity="0.95" filter="url(#bb)"/>
<path d="M168,958.9 Q176.4,958.9 184.8,958.9 L184.8,960.7 Q176.4,960.7 168,960.7 Z" fill="#1a1a1a" stroke="none" stroke-width="1" opacity="0.5" filter="url(#bb)"/>
<path d="M189.2,959.25 Q199.7,959.75 210.2,959.25 L210.2,961.55 Q199.7,962.05 189.2,961.55 Z" fill="#1a1a1a" stroke="none" stroke-width="1" opacity="0.7" filter="url(#bb)"/>
<path d="M215.8,959.6 Q225.75,959.6 235.7,959.6 L235.7,961.2 Q225.75,961.2 215.8,961.2 Z" fill="#1a1a1a" stroke="none" stroke-width="1" opacity="0.28" filter="url(#bb)"/>
<line x1="164.3" y1="952.6" x2="164.3" y2="965.4" stroke="#111" stroke-width="0.9"/>
<circle cx="216.8" cy="954.8" r="0.8" fill="#111"/>
<path d="M91.4,973.7 Q103.7,973.2 116,972.7 L116,977.9 Q103.7,978.4 91.4,978.9 Z" fill="#1a1a1a" stroke="none" stroke-width="1" opacity="0.95" filter="url(#bb)"/>
<path d="M119.5,974 Q130.85,974.6 142.2,974 L142.2,976.4 Q130.85,977 119.5,976.4 Z" fill="#1a1a1a" stroke="none" stroke-width="1" opacity="0.8" filter="url(#bb)"/>
<path d="M119.5,977.6 Q130.85,978.2 142.2,977.6 L142.2,980.2 Q130.85,980.8 119.5,980.2 Z" fill="#1a1a1a" stroke="none" stroke-width="1" opacity="0.85" filter="url(#bb)"/>
<path d="M145.2,974.3 Q155.4,974.3 165.6,974.3 L165.6,978.9 Q155.4,978.9 145.2,978.9 Z" fill="#1a1a1a" stroke="none" stroke-width="1" opacity="0.97" filter="url(#bb)"/>
<path d="M169.3,975 Q177.35,975 185.4,975 L185.4,976.8 Q177.35,976.8 169.3,976.8 Z" fill="#1a1a1a" stroke="none" stroke-width="1" opacity="0.5" filter="url(#bb)"/>
<path d="M169.3,977.5 Q177.35,977.5 185.4,977.5 L185.4,979.3 Q177.35,979.3 169.3,979.3 Z" fill="#1a1a1a" stroke="none" stroke-width="1" opacity="0.5" filter="url(#bb)"/>
<path d="M190.4,974.8 Q200.65,975.4 210.9,976 L210.9,980.4 Q200.65,979.8 190.4,979.2 Z" fill="#1a1a1a" stroke="none" stroke-width="1" opacity="0.85" filter="url(#bb)"/>
<path d="M216.5,976.7 Q226.4,976.7 236.3,976.7 L236.3,979.3 Q226.4,979.3 216.5,979.3 Z" fill="#1a1a1a" stroke="none" stroke-width="1" opacity="0.13" filter="url(#bb)"/>
<path d="M88.5,993.9 Q99.25,993.5 110,993.1 L110,995.3 Q99.25,995.7 88.5,996.1 Z" fill="#1a1a1a" stroke="none" stroke-width="1" opacity="0.9" filter="url(#bb)"/>
<path d="M117.1,994.4 Q128.2,994.4 139.3,994.4 L139.3,996.8 Q128.2,996.8 117.1,996.8 Z" fill="#1a1a1a" stroke="none" stroke-width="1" opacity="0.9" filter="url(#bb)"/>
<path d="M141.7,994.2 Q152.85,994.6 164,994.2 L164,996.6 Q152.85,997 141.7,996.6 Z" fill="#1a1a1a" stroke="none" stroke-width="1" opacity="0.9" filter="url(#bb)"/>
<path d="M164,994.8 Q174.7,995.3 185.4,994.8 L185.4,997.2 Q174.7,997.7 164,997.2 Z" fill="#1a1a1a" stroke="none" stroke-width="1" opacity="0.9" filter="url(#bb)"/>
<path d="M186,995.4 Q192.5,995.4 199,995.4 L199,997 Q192.5,997 186,997 Z" fill="#1a1a1a" stroke="none" stroke-width="1" opacity="0.3" filter="url(#bb)"/>
<path d="M199.7,993.3 Q218.35,993.8 237,994.3 L237,996.9 Q218.35,996.4 199.7,995.9 Z" fill="#1a1a1a" stroke="none" stroke-width="1" opacity="0.92" filter="url(#bb)"/>
<rect x="87.2" y="952.6" width="151.2" height="12.8" fill="none" stroke="#111" stroke-width="1.1"/>
<rect x="87.2" y="970.3" width="151.2" height="16.7" fill="none" stroke="#111" stroke-width="1.1"/>
<rect x="87.2" y="991.9" width="151.2" height="10.4" fill="none" stroke="#111" stroke-width="1.1"/>
<text x="101.6" y="948.3" font-size="8" text-anchor="middle" fill="#111">M3</text>
<text x="132.6" y="948.3" font-size="8" text-anchor="middle" fill="#111">C3</text>
<text x="157" y="948.3" font-size="8" text-anchor="middle" fill="#111">M2</text>
<text x="180.3" y="948.3" font-size="8" text-anchor="middle" fill="#111">C2</text>
<text x="202.4" y="948.3" font-size="8" text-anchor="middle" fill="#111">M1</text>
<text x="224.8" y="948.3" font-size="8" text-anchor="middle" fill="#111">C1</text>
<text x="79" y="960.8" font-size="8" text-anchor="end" fill="#111" textLength="29" lengthAdjust="spacingAndGlyphs">TOMM20</text>
<text x="79" y="980.2" font-size="8" text-anchor="end" fill="#111" textLength="29.5" lengthAdjust="spacingAndGlyphs">CHCHD2</text>
<text x="75.6" y="999" font-size="8" text-anchor="end" fill="#111" textLength="35.2" lengthAdjust="spacingAndGlyphs">β-TUBULIN</text>
<text x="241.8" y="960.6" font-size="7.6" text-anchor="start" fill="#111" font-style="italic">16kDa</text>
<text x="241.8" y="979.6" font-size="7.6" text-anchor="start" fill="#111" font-style="italic">15kDa</text>
<text x="241.8" y="998.2" font-size="7.6" text-anchor="start" fill="#111" font-style="italic">50-55kDa</text>
<line x1="79.9" y1="1029.29" x2="79.9" y2="1144.5" stroke="#000" stroke-width="1.3"/>
<line x1="79.3" y1="1144.5" x2="150.8" y2="1144.5" stroke="#000" stroke-width="1.3"/>
<line x1="76.4" y1="1144.5" x2="79.9" y2="1144.5" stroke="#000" stroke-width="1.3"/>
<text x="74.2" y="1147.6" font-size="8.6" text-anchor="end" fill="#000" font-weight="bold">0</text>
<line x1="76.4" y1="1106.33" x2="79.9" y2="1106.33" stroke="#000" stroke-width="1.3"/>
<text x="74.2" y="1109.43" font-size="8.6" text-anchor="end" fill="#000" font-weight="bold">2</text>
<line x1="76.4" y1="1068.16" x2="79.9" y2="1068.16" stroke="#000" stroke-width="1.3"/>
<text x="74.2" y="1071.26" font-size="8.6" text-anchor="end" fill="#000" font-weight="bold">4</text>
<line x1="76.4" y1="1029.99" x2="79.9" y2="1029.99" stroke="#000" stroke-width="1.3"/>
<text x="74.2" y="1033.09" font-size="8.6" text-anchor="end" fill="#000" font-weight="bold">6</text>
<line x1="100.3" y1="1144.5" x2="100.3" y2="1148.5" stroke="#000" stroke-width="1.3"/>
<line x1="130.5" y1="1144.5" x2="130.5" y2="1148.5" stroke="#000" stroke-width="1.3"/>
<rect x="90.9" y="1075.74" width="18.3" height="68.76" fill="#d6e5f1" stroke="#b7d0e8" stroke-width="1.8"/>
<rect x="121.6" y="1059.52" width="17.6" height="84.98" fill="#f4d3d9" stroke="#efa7aa" stroke-width="1.8"/>
<line x1="100.3" y1="1068.7" x2="100.3" y2="1081.5" stroke="#a3bfe2" stroke-width="0.9"/>
<line x1="94.8" y1="1068.7" x2="105.8" y2="1068.7" stroke="#a3bfe2" stroke-width="0.9"/>
<line x1="94.8" y1="1081.5" x2="105.8" y2="1081.5" stroke="#a3bfe2" stroke-width="0.9"/>
<line x1="130.5" y1="1054.6" x2="130.5" y2="1062.7" stroke="#c582ae" stroke-width="0.9"/>
<line x1="125" y1="1054.6" x2="136" y2="1054.6" stroke="#c582ae" stroke-width="0.9"/>
<line x1="125" y1="1062.7" x2="136" y2="1062.7" stroke="#c582ae" stroke-width="0.9"/>
<circle cx="100.3" cy="1063.1" r="2.3" fill="#7fa3d6"/>
<circle cx="100.3" cy="1075.8" r="2.3" fill="#7fa3d6"/>
<circle cx="100.3" cy="1085.6" r="2.3" fill="#7fa3d6"/>
<circle cx="130.5" cy="1050.9" r="2.3" fill="#b4619b"/>
<circle cx="130.5" cy="1059" r="2.3" fill="#b4619b"/>
<circle cx="130.5" cy="1065.2" r="2.3" fill="#b4619b"/>
<path d="M100.3,1057 V1034.1 H130.5 V1045.8" fill="none" stroke="#000" stroke-width="1.2"/>
<text x="116" y="0" font-size="8.8" text-anchor="middle" fill="#000"></text>
<text transform="translate(64.7 1087.24) rotate(-90)" font-size="8.3" text-anchor="middle" fill="#000" font-weight="bold">TOMM20:β-TUBULIN ratio</text>
<text x="115.6" y="1028.8" font-size="8.8" text-anchor="middle" fill="#000">0.0189</text>
<line x1="187.6" y1="1029.29" x2="187.6" y2="1144.5" stroke="#000" stroke-width="1.3"/>
<line x1="187" y1="1144.5" x2="259.5" y2="1144.5" stroke="#000" stroke-width="1.3"/>
<line x1="184.1" y1="1144.5" x2="187.6" y2="1144.5" stroke="#000" stroke-width="1.3"/>
<text x="181.9" y="1147.6" font-size="8.6" text-anchor="end" fill="#000" font-weight="bold">0</text>
<line x1="184.1" y1="1106.33" x2="187.6" y2="1106.33" stroke="#000" stroke-width="1.3"/>
<text x="181.9" y="1109.43" font-size="8.6" text-anchor="end" fill="#000" font-weight="bold">5</text>
<line x1="184.1" y1="1068.16" x2="187.6" y2="1068.16" stroke="#000" stroke-width="1.3"/>
<text x="181.9" y="1071.26" font-size="8.6" text-anchor="end" fill="#000" font-weight="bold">10</text>
<line x1="184.1" y1="1029.99" x2="187.6" y2="1029.99" stroke="#000" stroke-width="1.3"/>
<text x="181.9" y="1033.09" font-size="8.6" text-anchor="end" fill="#000" font-weight="bold">15</text>
<line x1="208.4" y1="1144.5" x2="208.4" y2="1148.5" stroke="#000" stroke-width="1.3"/>
<line x1="239.3" y1="1144.5" x2="239.3" y2="1148.5" stroke="#000" stroke-width="1.3"/>
<rect x="199.3" y="1083.56" width="18.5" height="60.94" fill="#d6e5f1" stroke="#b7d0e8" stroke-width="1.8"/>
<rect x="230" y="1061.43" width="18" height="83.07" fill="#f4d3d9" stroke="#efa7aa" stroke-width="1.8"/>
<line x1="208.4" y1="1078.5" x2="208.4" y2="1086" stroke="#a3bfe2" stroke-width="0.9"/>
<line x1="202.9" y1="1078.5" x2="213.9" y2="1078.5" stroke="#a3bfe2" stroke-width="0.9"/>
<line x1="202.9" y1="1086" x2="213.9" y2="1086" stroke="#a3bfe2" stroke-width="0.9"/>
<line x1="239.3" y1="1057" x2="239.3" y2="1063.5" stroke="#c582ae" stroke-width="0.9"/>
<line x1="233.8" y1="1057" x2="244.8" y2="1057" stroke="#c582ae" stroke-width="0.9"/>
<line x1="233.8" y1="1063.5" x2="244.8" y2="1063.5" stroke="#c582ae" stroke-width="0.9"/>
<circle cx="208.4" cy="1075.8" r="2.3" fill="#7fa3d6"/>
<circle cx="208.4" cy="1081.9" r="2.3" fill="#7fa3d6"/>
<circle cx="208.4" cy="1089.3" r="2.3" fill="#7fa3d6"/>
<circle cx="239.3" cy="1054.3" r="2.3" fill="#b4619b"/>
<circle cx="239.3" cy="1060.3" r="2.3" fill="#b4619b"/>
<circle cx="239.3" cy="1065.6" r="2.3" fill="#b4619b"/>
<path d="M208.4,1069.3 V1034.1 H239.3 V1047.8" fill="none" stroke="#000" stroke-width="1.2"/>
<text x="224.45" y="0" font-size="8.8" text-anchor="middle" fill="#000"></text>
<text transform="translate(168.3 1087.24) rotate(-90)" font-size="8.3" text-anchor="middle" fill="#000" font-weight="bold">CHCHD2:β-TUBULIN ratio</text>
<text x="223.8" y="1028.8" font-size="8.8" text-anchor="middle" fill="#000">0.0015</text>
<text transform="translate(102.86 1153) rotate(-90)" font-size="7.1" text-anchor="end" fill="#000" font-weight="bold">Vehicle</text>
<text transform="translate(133.06 1153) rotate(-90)" font-size="7.1" text-anchor="end" fill="#000" font-weight="bold">Metformin</text>
<text transform="translate(210.96 1153) rotate(-90)" font-size="7.1" text-anchor="end" fill="#000" font-weight="bold">Vehicle</text>
<text transform="translate(241.86 1153) rotate(-90)" font-size="7.1" text-anchor="end" fill="#000" font-weight="bold">Metformin</text>
<text x="352.5" y="978.6" font-size="20" text-anchor="start" fill="#000" font-weight="bold">J</text>
<text x="499.8" y="972.9" font-size="11.4" text-anchor="middle" fill="#000" font-style="italic">EIF1</text>
<path d="M476.1,1123 C475.7,1122.87 475.1,1122.53 473.7,1122.2 C472.3,1121.87 469.87,1121.45 467.7,1121 C465.53,1120.55 462.62,1120 460.7,1119.5 C458.78,1119 457.4,1118.58 456.2,1118 C455,1117.42 454.08,1116.67 453.5,1116 C452.92,1115.33 452.7,1114.67 452.7,1114 C452.7,1113.33 452.92,1112.83 453.5,1112 C454.08,1111.17 455.17,1110.33 456.2,1109 C457.23,1107.67 458.7,1105.83 459.7,1104 C460.7,1102.17 461.62,1100 462.2,1098 C462.78,1096 462.98,1094.17 463.2,1092 C463.42,1089.83 463.58,1087.33 463.5,1085 C463.42,1082.67 463.17,1080.33 462.7,1078 C462.23,1075.67 461.45,1073.17 460.7,1071 C459.95,1068.83 459.03,1067 458.2,1065 C457.37,1063 456.45,1061 455.7,1059 C454.95,1057 454.23,1055 453.7,1053 C453.17,1051 452.8,1049 452.5,1047 C452.2,1045 452.08,1043.33 451.9,1041 C451.72,1038.67 451.53,1036 451.4,1033 C451.27,1030 451.22,1026.08 451.1,1023 C450.98,1019.92 450.83,1014.5 450.7,1014.5 C450.57,1014.5 450.42,1019.92 450.3,1023 C450.18,1026.08 450.13,1030 450,1033 C449.87,1036 449.68,1038.67 449.5,1041 C449.32,1043.33 449.2,1045 448.9,1047 C448.6,1049 448.23,1051 447.7,1053 C447.17,1055 446.45,1057 445.7,1059 C444.95,1061 444.03,1063 443.2,1065 C442.37,1067 441.45,1068.83 440.7,1071 C439.95,1073.17 439.17,1075.67 438.7,1078 C438.23,1080.33 437.98,1082.67 437.9,1085 C437.82,1087.33 437.98,1089.83 438.2,1092 C438.42,1094.17 438.62,1096 439.2,1098 C439.78,1100 440.7,1102.17 441.7,1104 C442.7,1105.83 444.17,1107.67 445.2,1109 C446.23,1110.33 447.32,1111.17 447.9,1112 C448.48,1112.83 448.7,1113.33 448.7,1114 C448.7,1114.67 448.48,1115.33 447.9,1116 C447.32,1116.67 446.4,1117.42 445.2,1118 C444,1118.58 442.62,1119 440.7,1119.5 C438.78,1120 435.87,1120.55 433.7,1121 C431.53,1121.45 429.1,1121.87 427.7,1122.2 C426.3,1122.53 425.7,1122.87 425.3,1123Z" fill="#b3cde3" stroke="#333" stroke-width="0.8" stroke-linejoin="round"/>
<path d="M533.1,1123 C532.57,1122.87 531.6,1122.53 529.9,1122.2 C528.2,1121.87 525.23,1121.45 522.9,1121 C520.57,1120.55 517.82,1120 515.9,1119.5 C513.98,1119 512.52,1118.58 511.4,1118 C510.28,1117.42 509.65,1116.83 509.2,1116 C508.75,1115.17 508.75,1115.17 508.7,1113 C508.65,1110.83 508.78,1107.17 508.9,1103 C509.02,1098.83 509.23,1093.33 509.4,1088 C509.57,1082.67 509.88,1076 509.9,1071 C509.92,1066 509.67,1061.83 509.5,1058 C509.33,1054.17 509.07,1051.33 508.9,1048 C508.73,1044.67 508.6,1042.17 508.5,1038 C508.4,1033.83 508.4,1027.47 508.3,1023 C508.2,1018.53 508.03,1011.2 507.9,1011.2 C507.77,1011.2 507.6,1018.53 507.5,1023 C507.4,1027.47 507.4,1033.83 507.3,1038 C507.2,1042.17 507.07,1044.67 506.9,1048 C506.73,1051.33 506.47,1054.17 506.3,1058 C506.13,1061.83 505.88,1066 505.9,1071 C505.92,1076 506.23,1082.67 506.4,1088 C506.57,1093.33 506.78,1098.83 506.9,1103 C507.02,1107.17 507.15,1110.83 507.1,1113 C507.05,1115.17 507.05,1115.17 506.6,1116 C506.15,1116.83 505.52,1117.42 504.4,1118 C503.28,1118.58 501.82,1119 499.9,1119.5 C497.98,1120 495.23,1120.55 492.9,1121 C490.57,1121.45 487.6,1121.87 485.9,1122.2 C484.2,1122.53 483.23,1122.87 482.7,1123Z" fill="#decbe4" stroke="#333" stroke-width="0.8" stroke-linejoin="round"/>
<path d="M591.1,1123 C590.65,1122.87 589.85,1122.53 588.4,1122.2 C586.95,1121.87 584.57,1121.45 582.4,1121 C580.23,1120.55 577.32,1120 575.4,1119.5 C573.48,1119 572.07,1118.58 570.9,1118 C569.73,1117.42 568.93,1116.67 568.4,1116 C567.87,1115.33 567.53,1114.83 567.7,1114 C567.87,1113.17 568.37,1112.33 569.4,1111 C570.43,1109.67 572.32,1108.17 573.9,1106 C575.48,1103.83 577.4,1101 578.9,1098 C580.4,1095 581.98,1091.33 582.9,1088 C583.82,1084.67 584.1,1081.17 584.4,1078 C584.7,1074.83 584.87,1071.83 584.7,1069 C584.53,1066.17 584.12,1063.67 583.4,1061 C582.68,1058.33 581.57,1055.5 580.4,1053 C579.23,1050.5 577.73,1048.17 576.4,1046 C575.07,1043.83 573.57,1041.83 572.4,1040 C571.23,1038.17 570.2,1036.67 569.4,1035 C568.6,1033.33 568.07,1031.67 567.6,1030 C567.13,1028.33 566.85,1027 566.6,1025 C566.35,1023 566.23,1020.33 566.1,1018 C565.97,1015.67 565.92,1013.2 565.8,1011 C565.68,1008.8 565.53,1004.8 565.4,1004.8 C565.27,1004.8 565.12,1008.8 565,1011 C564.88,1013.2 564.83,1015.67 564.7,1018 C564.57,1020.33 564.45,1023 564.2,1025 C563.95,1027 563.67,1028.33 563.2,1030 C562.73,1031.67 562.2,1033.33 561.4,1035 C560.6,1036.67 559.57,1038.17 558.4,1040 C557.23,1041.83 555.73,1043.83 554.4,1046 C553.07,1048.17 551.57,1050.5 550.4,1053 C549.23,1055.5 548.12,1058.33 547.4,1061 C546.68,1063.67 546.27,1066.17 546.1,1069 C545.93,1071.83 546.1,1074.83 546.4,1078 C546.7,1081.17 546.98,1084.67 547.9,1088 C548.82,1091.33 550.4,1095 551.9,1098 C553.4,1101 555.32,1103.83 556.9,1106 C558.48,1108.17 560.37,1109.67 561.4,1111 C562.43,1112.33 562.93,1113.17 563.1,1114 C563.27,1114.83 562.93,1115.33 562.4,1116 C561.87,1116.67 561.07,1117.42 559.9,1118 C558.73,1118.58 557.32,1119 555.4,1119.5 C553.48,1120 550.57,1120.55 548.4,1121 C546.23,1121.45 543.85,1121.87 542.4,1122.2 C540.95,1122.53 540.15,1122.87 539.7,1123Z" fill="#f1aaa9" stroke="#333" stroke-width="0.8" stroke-linejoin="round"/>
<line x1="416.7" y1="999.8" x2="416.7" y2="1129.9" stroke="#222" stroke-width="0.9"/>
<line x1="416.3" y1="1129.4" x2="599.7" y2="1129.4" stroke="#222" stroke-width="0.9"/>
<line x1="413.2" y1="1123" x2="416.7" y2="1123" stroke="#333" stroke-width="0.8"/>
<text x="411.5" y="1126" font-size="8.6" text-anchor="end" fill="#333">0</text>
<line x1="413.2" y1="1095.4" x2="416.7" y2="1095.4" stroke="#333" stroke-width="0.8"/>
<text x="411.5" y="1098.4" font-size="8.6" text-anchor="end" fill="#333">1</text>
<line x1="413.2" y1="1067.8" x2="416.7" y2="1067.8" stroke="#333" stroke-width="0.8"/>
<text x="411.5" y="1070.8" font-size="8.6" text-anchor="end" fill="#333">2</text>
<line x1="413.2" y1="1040.2" x2="416.7" y2="1040.2" stroke="#333" stroke-width="0.8"/>
<text x="411.5" y="1043.2" font-size="8.6" text-anchor="end" fill="#333">3</text>
<line x1="413.2" y1="1012.6" x2="416.7" y2="1012.6" stroke="#333" stroke-width="0.8"/>
<text x="411.5" y="1015.6" font-size="8.6" text-anchor="end" fill="#333">4</text>
<line x1="450.7" y1="1129.4" x2="450.7" y2="1132.6" stroke="#333" stroke-width="0.8"/>
<line x1="507.9" y1="1129.4" x2="507.9" y2="1132.6" stroke="#333" stroke-width="0.8"/>
<line x1="565.4" y1="1129.4" x2="565.4" y2="1132.6" stroke="#333" stroke-width="0.8"/>
<text transform="translate(400.9 1064.8) rotate(-90)" font-size="11.85" text-anchor="middle" fill="#1a1a1a">Expression Level</text>
<text transform="translate(460.3 1134.9) rotate(-90)" font-size="11.4" text-anchor="end" fill="#1a1a1a">CTR</text>
<text transform="translate(517.2 1134.9) rotate(-90)" font-size="11.4" text-anchor="end" fill="#1a1a1a">MS</text>
<text transform="translate(574.3 1134.9) rotate(-90)" font-size="11.4" text-anchor="end" fill="#1a1a1a">MS_met</text>
</svg></body></html>
